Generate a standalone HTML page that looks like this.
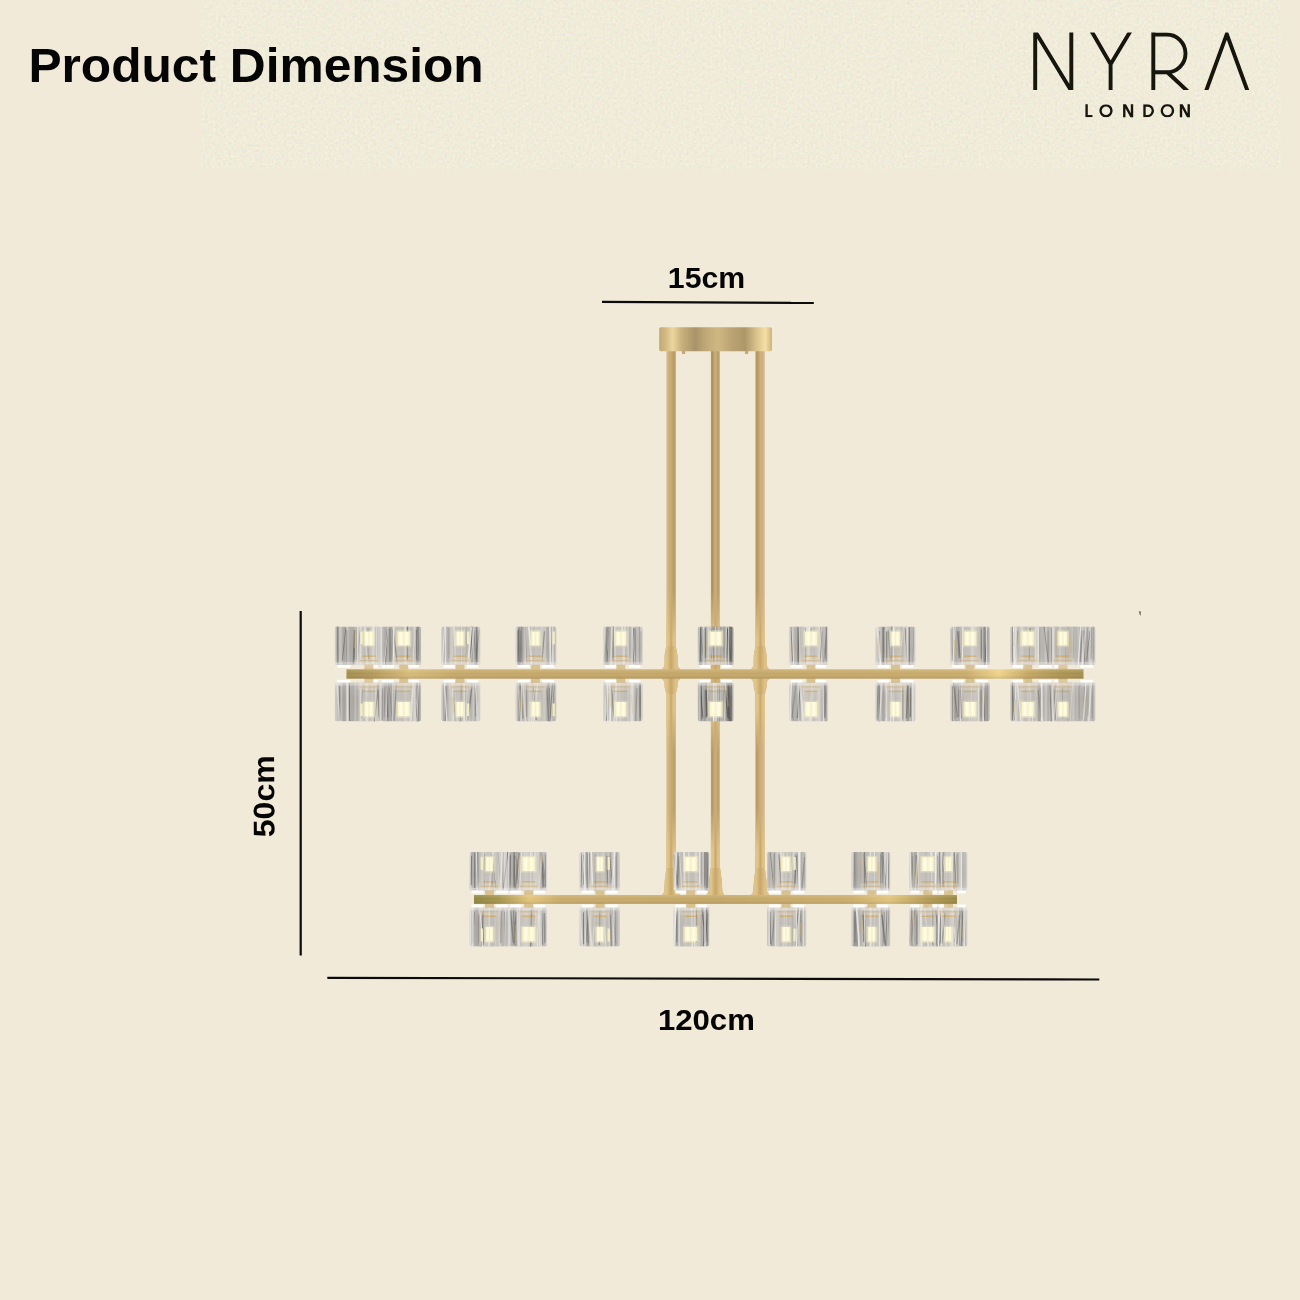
<!DOCTYPE html>
<html lang="en">
<head>
<meta charset="utf-8">
<title>Product Dimension</title>
<style>
html,body{margin:0;padding:0;}
body{width:1300px;height:1300px;overflow:hidden;background:#f1ead8;font-family:"Liberation Sans",sans-serif;}
svg{display:block;position:absolute;left:0;top:0;}
</style>
</head>
<body>
<svg width="1300" height="1300" viewBox="0 0 1300 1300">
<defs><linearGradient id="gl0" x1="0" x2="1" y1="0" y2="0"><stop offset="0.000" stop-color="#a8a5a1"/><stop offset="0.045" stop-color="#c5c2be"/><stop offset="0.091" stop-color="#c3c0bc"/><stop offset="0.136" stop-color="#c6c3bf"/><stop offset="0.182" stop-color="#a5a29e"/><stop offset="0.227" stop-color="#a4a19d"/><stop offset="0.273" stop-color="#cdcac6"/><stop offset="0.318" stop-color="#b0ada9"/><stop offset="0.364" stop-color="#aba8a4"/><stop offset="0.409" stop-color="#aaa7a3"/><stop offset="0.455" stop-color="#bebbb7"/><stop offset="0.500" stop-color="#aba8a4"/><stop offset="0.545" stop-color="#bbb8b4"/><stop offset="0.591" stop-color="#c7c4c0"/><stop offset="0.636" stop-color="#a8a5a1"/><stop offset="0.682" stop-color="#a29f9b"/><stop offset="0.727" stop-color="#c5c2be"/><stop offset="0.773" stop-color="#aaa7a3"/><stop offset="0.818" stop-color="#cbc8c4"/><stop offset="0.864" stop-color="#b6b3af"/><stop offset="0.909" stop-color="#b3b0ac"/><stop offset="0.955" stop-color="#bbb8b4"/><stop offset="1.000" stop-color="#bdbab6"/></linearGradient><linearGradient id="gl1" x1="0" x2="1" y1="0" y2="0"><stop offset="0.000" stop-color="#bcb9b5"/><stop offset="0.045" stop-color="#cdcac6"/><stop offset="0.091" stop-color="#b7b4b0"/><stop offset="0.136" stop-color="#aba8a4"/><stop offset="0.182" stop-color="#afaca8"/><stop offset="0.227" stop-color="#aba8a4"/><stop offset="0.273" stop-color="#a5a29e"/><stop offset="0.318" stop-color="#a6a39f"/><stop offset="0.364" stop-color="#b2afab"/><stop offset="0.409" stop-color="#b0ada9"/><stop offset="0.455" stop-color="#b4b1ad"/><stop offset="0.500" stop-color="#b5b2ae"/><stop offset="0.545" stop-color="#a7a4a0"/><stop offset="0.591" stop-color="#c0bdb9"/><stop offset="0.636" stop-color="#cac7c3"/><stop offset="0.682" stop-color="#b3b0ac"/><stop offset="0.727" stop-color="#b4b1ad"/><stop offset="0.773" stop-color="#a29f9b"/><stop offset="0.818" stop-color="#bab7b3"/><stop offset="0.864" stop-color="#a29f9b"/><stop offset="0.909" stop-color="#a29f9b"/><stop offset="0.955" stop-color="#918e8a"/><stop offset="1.000" stop-color="#928f8b"/></linearGradient><linearGradient id="gl2" x1="0" x2="1" y1="0" y2="0"><stop offset="0.000" stop-color="#a8a5a1"/><stop offset="0.045" stop-color="#a9a6a2"/><stop offset="0.091" stop-color="#bdbab6"/><stop offset="0.136" stop-color="#bebbb7"/><stop offset="0.182" stop-color="#a3a09c"/><stop offset="0.227" stop-color="#bebbb7"/><stop offset="0.273" stop-color="#cac7c3"/><stop offset="0.318" stop-color="#b3b0ac"/><stop offset="0.364" stop-color="#a7a4a0"/><stop offset="0.409" stop-color="#c1beba"/><stop offset="0.455" stop-color="#b6b3af"/><stop offset="0.500" stop-color="#aca9a5"/><stop offset="0.545" stop-color="#a8a5a1"/><stop offset="0.591" stop-color="#bebbb7"/><stop offset="0.636" stop-color="#95928e"/><stop offset="0.682" stop-color="#b1aeaa"/><stop offset="0.727" stop-color="#b9b6b2"/><stop offset="0.773" stop-color="#b5b2ae"/><stop offset="0.818" stop-color="#cbc8c4"/><stop offset="0.864" stop-color="#aba8a4"/><stop offset="0.909" stop-color="#bebbb7"/><stop offset="0.955" stop-color="#bbb8b4"/><stop offset="1.000" stop-color="#c0bdb9"/></linearGradient><linearGradient id="gl3" x1="0" x2="1" y1="0" y2="0"><stop offset="0.000" stop-color="#cecbc7"/><stop offset="0.045" stop-color="#c2bfbb"/><stop offset="0.091" stop-color="#94918d"/><stop offset="0.136" stop-color="#a6a39f"/><stop offset="0.182" stop-color="#b3b0ac"/><stop offset="0.227" stop-color="#b2afab"/><stop offset="0.273" stop-color="#a5a29e"/><stop offset="0.318" stop-color="#b0ada9"/><stop offset="0.364" stop-color="#94918d"/><stop offset="0.409" stop-color="#a7a4a0"/><stop offset="0.455" stop-color="#aaa7a3"/><stop offset="0.500" stop-color="#c3c0bc"/><stop offset="0.545" stop-color="#b4b1ad"/><stop offset="0.591" stop-color="#bcb9b5"/><stop offset="0.636" stop-color="#adaaa6"/><stop offset="0.682" stop-color="#bcb9b5"/><stop offset="0.727" stop-color="#bebbb7"/><stop offset="0.773" stop-color="#adaaa6"/><stop offset="0.818" stop-color="#aba8a4"/><stop offset="0.864" stop-color="#cac7c3"/><stop offset="0.909" stop-color="#bab7b3"/><stop offset="0.955" stop-color="#afaca8"/><stop offset="1.000" stop-color="#a8a5a1"/></linearGradient><linearGradient id="gl4" x1="0" x2="1" y1="0" y2="0"><stop offset="0.000" stop-color="#cdcac6"/><stop offset="0.045" stop-color="#c3c0bc"/><stop offset="0.091" stop-color="#b1aeaa"/><stop offset="0.136" stop-color="#afaca8"/><stop offset="0.182" stop-color="#a9a6a2"/><stop offset="0.227" stop-color="#a7a4a0"/><stop offset="0.273" stop-color="#b1aeaa"/><stop offset="0.318" stop-color="#c9c6c2"/><stop offset="0.364" stop-color="#b3b0ac"/><stop offset="0.409" stop-color="#bebbb7"/><stop offset="0.455" stop-color="#b4b1ad"/><stop offset="0.500" stop-color="#bab7b3"/><stop offset="0.545" stop-color="#aaa7a3"/><stop offset="0.591" stop-color="#a6a39f"/><stop offset="0.636" stop-color="#c6c3bf"/><stop offset="0.682" stop-color="#adaaa6"/><stop offset="0.727" stop-color="#ccc9c5"/><stop offset="0.773" stop-color="#cfccc8"/><stop offset="0.818" stop-color="#b0ada9"/><stop offset="0.864" stop-color="#c0bdb9"/><stop offset="0.909" stop-color="#bab7b3"/><stop offset="0.955" stop-color="#cbc8c4"/><stop offset="1.000" stop-color="#aaa7a3"/></linearGradient><linearGradient id="gl5" x1="0" x2="1" y1="0" y2="0"><stop offset="0.000" stop-color="#c9c6c2"/><stop offset="0.045" stop-color="#c5c2be"/><stop offset="0.091" stop-color="#b0ada9"/><stop offset="0.136" stop-color="#b1aeaa"/><stop offset="0.182" stop-color="#b1aeaa"/><stop offset="0.227" stop-color="#a8a5a1"/><stop offset="0.273" stop-color="#b1aeaa"/><stop offset="0.318" stop-color="#b5b2ae"/><stop offset="0.364" stop-color="#b6b3af"/><stop offset="0.409" stop-color="#cbc8c4"/><stop offset="0.455" stop-color="#cecbc7"/><stop offset="0.500" stop-color="#cdcac6"/><stop offset="0.545" stop-color="#b9b6b2"/><stop offset="0.591" stop-color="#ccc9c5"/><stop offset="0.636" stop-color="#a7a4a0"/><stop offset="0.682" stop-color="#c7c4c0"/><stop offset="0.727" stop-color="#cac7c3"/><stop offset="0.773" stop-color="#cecbc7"/><stop offset="0.818" stop-color="#b3b0ac"/><stop offset="0.864" stop-color="#b8b5b1"/><stop offset="0.909" stop-color="#bebbb7"/><stop offset="0.955" stop-color="#b9b6b2"/><stop offset="1.000" stop-color="#cdcac6"/></linearGradient><linearGradient id="gld" x1="0" x2="1" y1="0" y2="0"><stop offset="0.000" stop-color="#7d7b78"/><stop offset="0.045" stop-color="#888683"/><stop offset="0.091" stop-color="#858380"/><stop offset="0.136" stop-color="#b3b1ae"/><stop offset="0.182" stop-color="#9c9a97"/><stop offset="0.227" stop-color="#817f7c"/><stop offset="0.273" stop-color="#b4b2af"/><stop offset="0.318" stop-color="#888683"/><stop offset="0.364" stop-color="#a5a3a0"/><stop offset="0.409" stop-color="#6b6966"/><stop offset="0.455" stop-color="#858380"/><stop offset="0.500" stop-color="#73716e"/><stop offset="0.545" stop-color="#7b7976"/><stop offset="0.591" stop-color="#aba9a6"/><stop offset="0.636" stop-color="#706e6b"/><stop offset="0.682" stop-color="#9b9996"/><stop offset="0.727" stop-color="#716f6c"/><stop offset="0.773" stop-color="#807e7b"/><stop offset="0.818" stop-color="#92908d"/><stop offset="0.864" stop-color="#787673"/><stop offset="0.909" stop-color="#7c7a77"/><stop offset="0.955" stop-color="#716f6c"/><stop offset="1.000" stop-color="#b5b3b0"/></linearGradient>
<linearGradient id="rodY" x1="0" x2="1" y1="0" y2="0">
  <stop offset="0" stop-color="#e2c790"/><stop offset="0.3" stop-color="#dec288"/>
  <stop offset="0.5" stop-color="#c8a768"/><stop offset="0.72" stop-color="#dcc088"/>
  <stop offset="1" stop-color="#dfc48c"/>
</linearGradient>
<linearGradient id="rodMaskG" gradientUnits="userSpaceOnUse" x1="0" x2="0" y1="349" y2="897">
  <stop offset="0" stop-color="#000"/>
  <stop offset="0.44" stop-color="#000"/>
  <stop offset="0.53" stop-color="#fff"/>
  <stop offset="0.66" stop-color="#fff"/>
  <stop offset="0.735" stop-color="#222"/>
  <stop offset="0.84" stop-color="#222"/>
  <stop offset="0.915" stop-color="#fff"/>
  <stop offset="1" stop-color="#fff"/>
</linearGradient>
<mask id="rodMask" maskUnits="userSpaceOnUse" x="640" y="340" width="160" height="570"><rect x="640" y="340" width="160" height="570" fill="url(#rodMaskG)"/></mask>
<linearGradient id="rodL" x1="0" x2="1" y1="0" y2="0">
  <stop offset="0" stop-color="#dccaa4"/><stop offset="0.22" stop-color="#cdb07e"/>
  <stop offset="0.5" stop-color="#c9ab76"/><stop offset="0.8" stop-color="#b99b64"/>
  <stop offset="1" stop-color="#bfa26c"/>
</linearGradient>
<linearGradient id="rodC" x1="0" x2="1" y1="0" y2="0">
  <stop offset="0" stop-color="#b39a66"/><stop offset="0.18" stop-color="#ae9560"/>
  <stop offset="0.5" stop-color="#cbb084"/><stop offset="0.8" stop-color="#b59a62"/>
  <stop offset="1" stop-color="#d8c08c"/>
</linearGradient>
<linearGradient id="rodR" x1="0" x2="1" y1="0" y2="0">
  <stop offset="0" stop-color="#b8955f"/><stop offset="0.2" stop-color="#b89862"/>
  <stop offset="0.5" stop-color="#cfb07e"/><stop offset="0.78" stop-color="#cdb082"/>
  <stop offset="1" stop-color="#dccbaa"/>
</linearGradient>
<linearGradient id="barv" x1="0" x2="0" y1="0" y2="1">
  <stop offset="0" stop-color="#d6bc80"/><stop offset="0.5" stop-color="#c9ab6a"/><stop offset="1" stop-color="#b99b5c"/>
</linearGradient>
<linearGradient id="barU" x1="0" x2="1" y1="0" y2="0">
  <stop offset="0" stop-color="#a38c4c"/><stop offset="0.035" stop-color="#b3985a"/>
  <stop offset="0.085" stop-color="#d6ba7a"/><stop offset="0.15" stop-color="#c5a869"/>
  <stop offset="0.5" stop-color="#c3a667"/><stop offset="0.84" stop-color="#c8ab6b"/>
  <stop offset="0.885" stop-color="#efd38b"/><stop offset="0.925" stop-color="#c4a662"/>
  <stop offset="0.965" stop-color="#ac9452"/><stop offset="1" stop-color="#a58e4e"/>
</linearGradient>
<linearGradient id="barL" x1="0" x2="1" y1="0" y2="0">
  <stop offset="0" stop-color="#8f8440"/><stop offset="0.05" stop-color="#a3924a"/>
  <stop offset="0.115" stop-color="#e2c47c"/><stop offset="0.18" stop-color="#c8aa6b"/>
  <stop offset="0.5" stop-color="#c3a667"/><stop offset="0.78" stop-color="#caac6c"/>
  <stop offset="0.86" stop-color="#e0c37c"/><stop offset="0.93" stop-color="#b89e58"/>
  <stop offset="1" stop-color="#968642"/>
</linearGradient>
<linearGradient id="barsh" x1="0" x2="0" y1="0" y2="1">
  <stop offset="0" stop-color="#fff2c8" stop-opacity="0.2"/><stop offset="0.45" stop-color="#ffffff" stop-opacity="0"/>
  <stop offset="1" stop-color="#6a5420" stop-opacity="0.22"/>
</linearGradient>
<linearGradient id="canopy" x1="0" x2="1" y1="0" y2="0">
  <stop offset="0" stop-color="#c2a873"/>
  <stop offset="0.06" stop-color="#d4bb84"/>
  <stop offset="0.12" stop-color="#ecd6a0"/>
  <stop offset="0.20" stop-color="#c9b07b"/>
  <stop offset="0.32" stop-color="#a8946a"/>
  <stop offset="0.42" stop-color="#c2aa78"/>
  <stop offset="0.52" stop-color="#d0b884"/>
  <stop offset="0.64" stop-color="#bba373"/>
  <stop offset="0.76" stop-color="#ad9769"/>
  <stop offset="0.86" stop-color="#d9c18b"/>
  <stop offset="0.94" stop-color="#f6dfa6"/>
  <stop offset="1" stop-color="#cdb37b"/>
</linearGradient>
<linearGradient id="shade" x1="0" x2="0" y1="0" y2="1">
  <stop offset="0" stop-color="#ffffff" stop-opacity="0.06"/>
  <stop offset="0.6" stop-color="#ffffff" stop-opacity="0"/>
  <stop offset="0.85" stop-color="#ffffff" stop-opacity="0.08"/>
  <stop offset="1" stop-color="#ffffff" stop-opacity="0.2"/>
</linearGradient>
<linearGradient id="lamp" x1="0" x2="1" y1="0" y2="0">
  <stop offset="0" stop-color="#f7f1c4"/><stop offset="0.28" stop-color="#fffdea"/>
  <stop offset="0.5" stop-color="#f7f0c4"/><stop offset="0.72" stop-color="#fffdea"/>
  <stop offset="1" stop-color="#f7f1c4"/>
</linearGradient>
<filter id="soft" x="-10%" y="-10%" width="120%" height="120%"><feGaussianBlur stdDeviation="0.7"/></filter>
<filter id="soft2" x="-10%" y="-10%" width="120%" height="120%"><feGaussianBlur stdDeviation="0.35"/></filter>
<filter id="grain" x="0" y="0" width="100%" height="100%" color-interpolation-filters="sRGB">
  <feTurbulence type="fractalNoise" baseFrequency="0.38" numOctaves="2" seed="7" result="n"/>
  <feColorMatrix in="n" type="matrix" values="0.11 0 0 0 0.884  0 0.11 0 0 0.8685  0 0 0.11 0 0.798  0 0 0 0 1"/>
</filter>
</defs>
<rect x="0" y="0" width="1300" height="1300" fill="#f1ead8"/>
<rect x="201" y="0" width="1080" height="169" filter="url(#grain)"/>
<g filter="url(#soft)"><rect x="666.20" y="349.00" width="9.60" height="547.00" fill="url(#rodL)"/><rect x="710.90" y="349.00" width="9.10" height="547.00" fill="url(#rodC)"/><rect x="755.50" y="349.00" width="9.50" height="547.00" fill="url(#rodR)"/><path d="M666.30 646 L664.60 655 L664.40 666 L661.50 670 L661.50 678 L664.40 682 L664.60 687 L666.30 694 L675.70 694 L677.40 687 L677.60 682 L680.50 678 L680.50 670 L677.60 666 L677.40 655 L675.70 646 Z" fill="url(#rodL)"/><path d="M755.55 646 L753.85 655 L753.65 666 L750.75 670 L750.75 678 L753.65 682 L753.85 687 L755.55 694 L764.95 694 L766.65 687 L766.85 682 L769.75 678 L769.75 670 L766.85 666 L766.65 655 L764.95 646 Z" fill="url(#rodR)"/><path d="M666.40 868 L664.80 880 L664.00 892 L661.00 896.5 L681.00 896.5 L678.00 892 L677.20 880 L675.60 868 Z" fill="url(#rodL)"/><path d="M710.85 868 L709.25 880 L708.45 892 L705.45 896.5 L725.45 896.5 L722.45 892 L721.65 880 L720.05 868 Z" fill="url(#rodC)"/><path d="M755.65 868 L754.05 880 L753.25 892 L750.25 896.5 L770.25 896.5 L767.25 892 L766.45 880 L764.85 868 Z" fill="url(#rodR)"/><g mask="url(#rodMask)"><rect x="666.20" y="349.00" width="9.60" height="547.00" fill="url(#rodY)"/><rect x="710.90" y="349.00" width="9.10" height="547.00" fill="url(#rodY)"/><rect x="755.50" y="349.00" width="9.50" height="547.00" fill="url(#rodY)"/><path d="M666.30 646 L664.60 655 L664.40 666 L661.50 670 L661.50 678 L664.40 682 L664.60 687 L666.30 694 L675.70 694 L677.40 687 L677.60 682 L680.50 678 L680.50 670 L677.60 666 L677.40 655 L675.70 646 Z" fill="url(#rodY)"/><path d="M755.55 646 L753.85 655 L753.65 666 L750.75 670 L750.75 678 L753.65 682 L753.85 687 L755.55 694 L764.95 694 L766.65 687 L766.85 682 L769.75 678 L769.75 670 L766.85 666 L766.65 655 L764.95 646 Z" fill="url(#rodY)"/><path d="M666.40 868 L664.80 880 L664.00 892 L661.00 896.5 L681.00 896.5 L678.00 892 L677.20 880 L675.60 868 Z" fill="url(#rodY)"/><path d="M710.85 868 L709.25 880 L708.45 892 L705.45 896.5 L725.45 896.5 L722.45 892 L721.65 880 L720.05 868 Z" fill="url(#rodY)"/><path d="M755.65 868 L754.05 880 L753.25 892 L750.25 896.5 L770.25 896.5 L767.25 892 L766.45 880 L764.85 868 Z" fill="url(#rodY)"/></g><g transform="translate(334.80 626.50)"><clipPath id="c1"><rect x="0" y="0" width="45.50" height="38.60" rx="2.4"/></clipPath><g clip-path="url(#c1)"><rect x="0" y="0" width="45.50" height="38.60" fill="url(#gl0)"/><rect x="23.55" y="0" width="21.00" height="38.60" fill="#d6d2ca" opacity="0.45"/><rect x="11.47" y="3.73" width="1.04" height="35.21" fill="#686562" opacity="0.52" transform="rotate(0.0 11.47 19.30)"/><rect x="1.72" y="-0.99" width="1.42" height="37.47" fill="#686562" opacity="0.52" transform="rotate(0.0 1.72 19.30)"/><rect x="23.71" y="3.12" width="0.52" height="29.70" fill="#686562" opacity="0.62" transform="rotate(5.3 23.71 19.30)"/><rect x="19.25" y="4.71" width="0.88" height="28.40" fill="#686562" opacity="0.64" transform="rotate(0.0 19.25 19.30)"/><rect x="18.40" y="3.34" width="1.51" height="34.18" fill="#686562" opacity="0.76" transform="rotate(1.8 18.40 19.30)"/><rect x="32.46" y="2.05" width="1.57" height="31.18" fill="#686562" opacity="0.55" transform="rotate(0.0 32.46 19.30)"/><rect x="8.66" y="1.36" width="0.81" height="32.27" fill="#686562" opacity="0.79" transform="rotate(6.2 8.66 19.30)"/><rect x="21.15" y="1.20" width="1.32" height="32.22" fill="#686562" opacity="0.50" transform="rotate(0.0 21.15 19.30)"/><rect x="2.62" y="-0.82" width="1.36" height="40.12" fill="#686562" opacity="0.56" transform="rotate(-0.1 2.62 19.30)"/><rect x="30.33" y="-1" width="1.88" height="40.60" fill="#f1efeb" opacity="0.67" transform="rotate(-4.0 30.33 19.30)"/><rect x="21.75" y="-1" width="1.88" height="40.60" fill="#f1efeb" opacity="0.75" transform="rotate(0.0 21.75 19.30)"/><rect x="37.03" y="-1" width="0.90" height="40.60" fill="#f1efeb" opacity="0.63" transform="rotate(0.0 37.03 19.30)"/><rect x="24.97" y="-1" width="1.20" height="40.60" fill="#f1efeb" opacity="0.52" transform="rotate(0.0 24.97 19.30)"/><rect x="41.17" y="-1" width="0.61" height="40.60" fill="#f1efeb" opacity="0.75" transform="rotate(0.0 41.17 19.30)"/><rect x="38.14" y="-1" width="1.56" height="40.60" fill="#f1efeb" opacity="0.76" transform="rotate(0.0 38.14 19.30)"/><rect x="18.83" y="2.69" width="1.31" height="19.01" fill="#d9b56c" opacity="0.35" transform="rotate(0.1 18.83 19.30)"/><rect x="0" y="0" width="1.6" height="38.60" fill="#e0deda" opacity="0.55"/><rect x="43.90" y="0" width="1.6" height="38.60" fill="#e0deda" opacity="0.5"/><rect x="0" y="0" width="45.50" height="38.60" fill="url(#shade)"/><rect x="27.95" y="3.67" width="12.20" height="16.98" rx="1.5" fill="#f3ecc4" opacity="0.55"/><rect x="29.55" y="5.21" width="9.00" height="13.90" rx="0.8" fill="url(#lamp)"/><rect x="25.50" y="5.02" width="2.4" height="12.74" fill="#f5efc2" opacity="0.95"/><rect x="27.85" y="19.30" width="12.40" height="9.26" fill="#c4beba" opacity="0.45"/><rect x="27.55" y="28.95" width="13.00" height="1.5" fill="#cfa85e" opacity="0.7"/><rect x="22.55" y="31.27" width="23.00" height="7.33" fill="#d9cfbd" opacity="0.45"/><rect x="25.05" y="33.58" width="18.00" height="1.1" fill="#c9a45e" opacity="0.45"/><rect x="0" y="35.60" width="45.50" height="3" fill="#f4f2ee" opacity="0.35"/></g><rect x="2.27" y="38.40" width="13.65" height="2.8" rx="1" fill="#ffffff" opacity="0.92"/><rect x="29.57" y="38.40" width="13.65" height="2.8" rx="1" fill="#ffffff" opacity="0.92"/><rect x="29.55" y="38.20" width="9.00" height="4.8" fill="#c8a663" opacity="0.6"/></g><g transform="translate(334.80 721.40) scale(1 -1)"><clipPath id="c2"><rect x="0" y="0" width="45.50" height="39.00" rx="2.4"/></clipPath><g clip-path="url(#c2)"><rect x="0" y="0" width="45.50" height="39.00" fill="url(#gl0)"/><rect x="23.55" y="0" width="21.00" height="39.00" fill="#d6d2ca" opacity="0.45"/><rect x="4.15" y="0.85" width="1.42" height="34.91" fill="#686562" opacity="0.67" transform="rotate(0.0 4.15 19.50)"/><rect x="26.59" y="3.34" width="1.14" height="29.70" fill="#686562" opacity="0.38" transform="rotate(-1.5 26.59 19.50)"/><rect x="41.32" y="-0.84" width="1.10" height="37.58" fill="#686562" opacity="0.52" transform="rotate(-6.5 41.32 19.50)"/><rect x="14.19" y="0.42" width="0.92" height="39.42" fill="#686562" opacity="0.75" transform="rotate(0.8 14.19 19.50)"/><rect x="14.48" y="3.05" width="0.65" height="35.68" fill="#686562" opacity="0.56" transform="rotate(0.0 14.48 19.50)"/><rect x="43.46" y="4.77" width="1.37" height="34.10" fill="#686562" opacity="0.48" transform="rotate(0.0 43.46 19.50)"/><rect x="43.29" y="2.97" width="0.81" height="33.85" fill="#686562" opacity="0.55" transform="rotate(4.1 43.29 19.50)"/><rect x="43.30" y="-0.00" width="1.04" height="33.65" fill="#686562" opacity="0.41" transform="rotate(2.8 43.30 19.50)"/><rect x="11.75" y="-1" width="1.78" height="41.00" fill="#f1efeb" opacity="0.54" transform="rotate(0.0 11.75 19.50)"/><rect x="30.45" y="-1" width="1.26" height="41.00" fill="#f1efeb" opacity="0.63" transform="rotate(0.0 30.45 19.50)"/><rect x="25.41" y="-1" width="1.01" height="41.00" fill="#f1efeb" opacity="0.49" transform="rotate(0.0 25.41 19.50)"/><rect x="40.19" y="-1" width="1.41" height="41.00" fill="#f1efeb" opacity="0.43" transform="rotate(0.0 40.19 19.50)"/><rect x="31.30" y="-1" width="1.78" height="41.00" fill="#f1efeb" opacity="0.49" transform="rotate(0.0 31.30 19.50)"/><rect x="2.81" y="-1" width="1.45" height="41.00" fill="#f1efeb" opacity="0.52" transform="rotate(4.5 2.81 19.50)"/><rect x="31.80" y="3.81" width="0.89" height="21.69" fill="#d9b56c" opacity="0.54" transform="rotate(-5.3 31.80 19.50)"/><rect x="0" y="0" width="1.6" height="39.00" fill="#e0deda" opacity="0.55"/><rect x="43.90" y="0" width="1.6" height="39.00" fill="#e0deda" opacity="0.5"/><rect x="0" y="0" width="45.50" height="39.00" fill="url(#shade)"/><rect x="27.95" y="3.71" width="12.20" height="17.16" rx="1.5" fill="#f3ecc4" opacity="0.55"/><rect x="29.55" y="5.27" width="9.00" height="14.04" rx="0.8" fill="url(#lamp)"/><rect x="25.50" y="5.07" width="2.4" height="12.87" fill="#f5efc2" opacity="0.95"/><rect x="27.85" y="19.50" width="12.40" height="9.36" fill="#c4beba" opacity="0.45"/><rect x="27.55" y="29.25" width="13.00" height="1.5" fill="#cfa85e" opacity="0.7"/><rect x="22.55" y="31.59" width="23.00" height="7.41" fill="#d9cfbd" opacity="0.45"/><rect x="25.05" y="33.93" width="18.00" height="1.1" fill="#c9a45e" opacity="0.45"/><rect x="0" y="36.00" width="45.50" height="3" fill="#f4f2ee" opacity="0.35"/></g><rect x="2.27" y="38.80" width="13.65" height="2.8" rx="1" fill="#ffffff" opacity="0.92"/><rect x="29.57" y="38.80" width="13.65" height="2.8" rx="1" fill="#ffffff" opacity="0.92"/><rect x="29.55" y="38.60" width="9.00" height="4.8" fill="#c8a663" opacity="0.6"/></g><g transform="translate(379.50 626.50)"><clipPath id="c3"><rect x="0" y="0" width="41.60" height="38.60" rx="2.4"/></clipPath><g clip-path="url(#c3)"><rect x="0" y="0" width="41.60" height="38.60" fill="url(#gl1)"/><rect x="13.80" y="0" width="21.00" height="38.60" fill="#d6d2ca" opacity="0.45"/><rect x="14.97" y="4.02" width="1.16" height="33.76" fill="#686562" opacity="0.61" transform="rotate(-6.8 14.97 19.30)"/><rect x="9.66" y="1.86" width="1.60" height="33.27" fill="#686562" opacity="0.54" transform="rotate(0.0 9.66 19.30)"/><rect x="6.39" y="3.03" width="1.20" height="36.12" fill="#686562" opacity="0.73" transform="rotate(3.4 6.39 19.30)"/><rect x="36.40" y="3.28" width="1.02" height="29.87" fill="#686562" opacity="0.66" transform="rotate(0.0 36.40 19.30)"/><rect x="39.39" y="1.62" width="0.61" height="33.60" fill="#686562" opacity="0.37" transform="rotate(6.5 39.39 19.30)"/><rect x="12.27" y="2.51" width="1.06" height="30.77" fill="#686562" opacity="0.49" transform="rotate(1.2 12.27 19.30)"/><rect x="27.17" y="-0.02" width="1.44" height="33.60" fill="#686562" opacity="0.80" transform="rotate(0.0 27.17 19.30)"/><rect x="38.22" y="0.27" width="1.50" height="33.51" fill="#686562" opacity="0.58" transform="rotate(0.0 38.22 19.30)"/><rect x="39.12" y="0.76" width="0.60" height="33.46" fill="#686562" opacity="0.70" transform="rotate(-4.9 39.12 19.30)"/><rect x="34.16" y="-1" width="0.66" height="40.60" fill="#f1efeb" opacity="0.68" transform="rotate(2.6 34.16 19.30)"/><rect x="13.14" y="-1" width="1.75" height="40.60" fill="#f1efeb" opacity="0.84" transform="rotate(0.0 13.14 19.30)"/><rect x="39.04" y="-1" width="1.00" height="40.60" fill="#f1efeb" opacity="0.43" transform="rotate(0.0 39.04 19.30)"/><rect x="1.52" y="-1" width="0.86" height="40.60" fill="#f1efeb" opacity="0.58" transform="rotate(0.0 1.52 19.30)"/><rect x="6.36" y="-1" width="0.66" height="40.60" fill="#f1efeb" opacity="0.79" transform="rotate(5.5 6.36 19.30)"/><rect x="35.09" y="-1" width="1.09" height="40.60" fill="#f1efeb" opacity="0.61" transform="rotate(0.0 35.09 19.30)"/><rect x="25.28" y="-1" width="1.37" height="40.60" fill="#f1efeb" opacity="0.65" transform="rotate(0.0 25.28 19.30)"/><rect x="17.35" y="11.66" width="0.87" height="16.42" fill="#d9b56c" opacity="0.54" transform="rotate(0.3 17.35 19.30)"/><rect x="21.52" y="2.08" width="0.99" height="19.11" fill="#d9b56c" opacity="0.31" transform="rotate(1.4 21.52 19.30)"/><rect x="0" y="0" width="1.6" height="38.60" fill="#e0deda" opacity="0.55"/><rect x="40.00" y="0" width="1.6" height="38.60" fill="#e0deda" opacity="0.5"/><rect x="0" y="0" width="41.60" height="38.60" fill="url(#shade)"/><rect x="16.70" y="3.67" width="15.20" height="16.98" rx="1.5" fill="#f3ecc4" opacity="0.55"/><rect x="18.30" y="5.21" width="12.00" height="13.90" rx="0.8" fill="url(#lamp)"/><rect x="18.10" y="19.30" width="12.40" height="9.26" fill="#c4beba" opacity="0.45"/><rect x="17.80" y="28.95" width="13.00" height="1.5" fill="#cfa85e" opacity="0.7"/><rect x="12.80" y="31.27" width="23.00" height="7.33" fill="#d9cfbd" opacity="0.45"/><rect x="15.30" y="33.58" width="18.00" height="1.1" fill="#c9a45e" opacity="0.45"/><rect x="0" y="35.60" width="41.60" height="3" fill="#f4f2ee" opacity="0.35"/></g><rect x="2.08" y="38.40" width="12.48" height="2.8" rx="1" fill="#ffffff" opacity="0.92"/><rect x="27.04" y="38.40" width="12.48" height="2.8" rx="1" fill="#ffffff" opacity="0.92"/><rect x="19.80" y="38.20" width="9.00" height="4.8" fill="#c8a663" opacity="0.6"/></g><g transform="translate(379.50 721.40) scale(1 -1)"><clipPath id="c4"><rect x="0" y="0" width="41.60" height="39.00" rx="2.4"/></clipPath><g clip-path="url(#c4)"><rect x="0" y="0" width="41.60" height="39.00" fill="url(#gl1)"/><rect x="13.80" y="0" width="21.00" height="39.00" fill="#d6d2ca" opacity="0.45"/><rect x="4.53" y="4.51" width="0.94" height="29.89" fill="#686562" opacity="0.38" transform="rotate(-1.4 4.53 19.50)"/><rect x="6.83" y="-0.85" width="1.41" height="36.36" fill="#686562" opacity="0.43" transform="rotate(0.0 6.83 19.50)"/><rect x="10.68" y="4.77" width="0.80" height="29.29" fill="#686562" opacity="0.38" transform="rotate(5.1 10.68 19.50)"/><rect x="15.06" y="0.48" width="1.43" height="37.56" fill="#686562" opacity="0.47" transform="rotate(-3.5 15.06 19.50)"/><rect x="37.43" y="-0.96" width="1.40" height="38.91" fill="#686562" opacity="0.77" transform="rotate(0.0 37.43 19.50)"/><rect x="36.94" y="3.88" width="1.16" height="35.82" fill="#686562" opacity="0.52" transform="rotate(-2.7 36.94 19.50)"/><rect x="2.31" y="1.06" width="1.19" height="31.96" fill="#686562" opacity="0.44" transform="rotate(-0.4 2.31 19.50)"/><rect x="8.15" y="0.66" width="0.95" height="36.85" fill="#686562" opacity="0.40" transform="rotate(0.0 8.15 19.50)"/><rect x="7.09" y="4.17" width="1.42" height="34.97" fill="#686562" opacity="0.65" transform="rotate(1.2 7.09 19.50)"/><rect x="36.56" y="-1" width="0.98" height="41.00" fill="#f1efeb" opacity="0.41" transform="rotate(-5.0 36.56 19.50)"/><rect x="37.72" y="-1" width="0.97" height="41.00" fill="#f1efeb" opacity="0.70" transform="rotate(-2.1 37.72 19.50)"/><rect x="12.78" y="-1" width="0.80" height="41.00" fill="#f1efeb" opacity="0.69" transform="rotate(0.0 12.78 19.50)"/><rect x="34.04" y="-1" width="1.48" height="41.00" fill="#f1efeb" opacity="0.43" transform="rotate(0.0 34.04 19.50)"/><rect x="34.99" y="-1" width="0.98" height="41.00" fill="#f1efeb" opacity="0.51" transform="rotate(0.0 34.99 19.50)"/><rect x="6.47" y="-1" width="1.35" height="41.00" fill="#f1efeb" opacity="0.56" transform="rotate(-1.6 6.47 19.50)"/><rect x="31.51" y="-1" width="1.90" height="41.00" fill="#f1efeb" opacity="0.66" transform="rotate(-3.5 31.51 19.50)"/><rect x="35.86" y="-1" width="0.75" height="41.00" fill="#f1efeb" opacity="0.43" transform="rotate(0.0 35.86 19.50)"/><rect x="23.59" y="9.41" width="1.11" height="16.78" fill="#d9b56c" opacity="0.31" transform="rotate(4.0 23.59 19.50)"/><rect x="0" y="0" width="1.6" height="39.00" fill="#e0deda" opacity="0.55"/><rect x="40.00" y="0" width="1.6" height="39.00" fill="#e0deda" opacity="0.5"/><rect x="0" y="0" width="41.60" height="39.00" fill="url(#shade)"/><rect x="16.70" y="3.71" width="15.20" height="17.16" rx="1.5" fill="#f3ecc4" opacity="0.55"/><rect x="18.30" y="5.27" width="12.00" height="14.04" rx="0.8" fill="url(#lamp)"/><rect x="18.10" y="19.50" width="12.40" height="9.36" fill="#c4beba" opacity="0.45"/><rect x="17.80" y="29.25" width="13.00" height="1.5" fill="#cfa85e" opacity="0.7"/><rect x="12.80" y="31.59" width="23.00" height="7.41" fill="#d9cfbd" opacity="0.45"/><rect x="15.30" y="33.93" width="18.00" height="1.1" fill="#c9a45e" opacity="0.45"/><rect x="0" y="36.00" width="41.60" height="3" fill="#f4f2ee" opacity="0.35"/></g><rect x="2.08" y="38.80" width="12.48" height="2.8" rx="1" fill="#ffffff" opacity="0.92"/><rect x="27.04" y="38.80" width="12.48" height="2.8" rx="1" fill="#ffffff" opacity="0.92"/><rect x="19.80" y="38.60" width="9.00" height="4.8" fill="#c8a663" opacity="0.6"/></g><g transform="translate(441.40 626.50)"><clipPath id="c5"><rect x="0" y="0" width="39.00" height="38.60" rx="2.4"/></clipPath><g clip-path="url(#c5)"><rect x="0" y="0" width="39.00" height="38.60" fill="url(#gl2)"/><rect x="8.10" y="0" width="21.00" height="38.60" fill="#d6d2ca" opacity="0.45"/><rect x="29.52" y="-0.83" width="1.54" height="37.17" fill="#686562" opacity="0.67" transform="rotate(0.0 29.52 19.30)"/><rect x="34.93" y="0.48" width="1.21" height="35.31" fill="#686562" opacity="0.75" transform="rotate(-0.4 34.93 19.30)"/><rect x="29.07" y="-0.24" width="0.68" height="39.83" fill="#686562" opacity="0.70" transform="rotate(1.6 29.07 19.30)"/><rect x="32.31" y="4.23" width="0.73" height="33.34" fill="#686562" opacity="0.41" transform="rotate(0.0 32.31 19.30)"/><rect x="35.59" y="3.14" width="1.09" height="29.69" fill="#686562" opacity="0.64" transform="rotate(6.2 35.59 19.30)"/><rect x="33.12" y="-0.61" width="0.83" height="38.10" fill="#686562" opacity="0.48" transform="rotate(-5.0 33.12 19.30)"/><rect x="29.72" y="0.11" width="0.89" height="36.18" fill="#686562" opacity="0.45" transform="rotate(0.0 29.72 19.30)"/><rect x="6.93" y="1.15" width="0.78" height="35.62" fill="#686562" opacity="0.77" transform="rotate(0.0 6.93 19.30)"/><rect x="35.25" y="0.18" width="0.55" height="34.13" fill="#686562" opacity="0.39" transform="rotate(0.0 35.25 19.30)"/><rect x="34.43" y="3.65" width="1.54" height="35.19" fill="#686562" opacity="0.47" transform="rotate(0.3 34.43 19.30)"/><rect x="27.39" y="-1" width="1.64" height="40.60" fill="#f1efeb" opacity="0.79" transform="rotate(5.3 27.39 19.30)"/><rect x="3.60" y="-1" width="1.04" height="40.60" fill="#f1efeb" opacity="0.67" transform="rotate(0.0 3.60 19.30)"/><rect x="12.61" y="-1" width="1.80" height="40.60" fill="#f1efeb" opacity="0.65" transform="rotate(-2.2 12.61 19.30)"/><rect x="6.72" y="-1" width="0.70" height="40.60" fill="#f1efeb" opacity="0.47" transform="rotate(0.0 6.72 19.30)"/><rect x="36.38" y="-1" width="0.81" height="40.60" fill="#f1efeb" opacity="0.42" transform="rotate(0.0 36.38 19.30)"/><rect x="19.61" y="-1" width="1.13" height="40.60" fill="#f1efeb" opacity="0.51" transform="rotate(0.0 19.61 19.30)"/><rect x="30.21" y="-1" width="1.19" height="40.60" fill="#f1efeb" opacity="0.59" transform="rotate(5.0 30.21 19.30)"/><rect x="1.48" y="-1" width="1.24" height="40.60" fill="#f1efeb" opacity="0.78" transform="rotate(2.8 1.48 19.30)"/><rect x="22.80" y="12.58" width="0.77" height="17.70" fill="#d9b56c" opacity="0.34" transform="rotate(4.1 22.80 19.30)"/><rect x="0" y="0" width="1.6" height="38.60" fill="#e0deda" opacity="0.55"/><rect x="37.40" y="0" width="1.6" height="38.60" fill="#e0deda" opacity="0.5"/><rect x="0" y="0" width="39.00" height="38.60" fill="url(#shade)"/><rect x="13.30" y="3.67" width="10.60" height="16.98" rx="1.5" fill="#f3ecc4" opacity="0.55"/><rect x="14.90" y="5.21" width="7.40" height="13.90" rx="0.8" fill="url(#lamp)"/><rect x="25.60" y="5.02" width="2.4" height="12.74" fill="#f5efc2" opacity="0.95"/><rect x="12.40" y="19.30" width="12.40" height="9.26" fill="#c4beba" opacity="0.45"/><rect x="12.10" y="28.95" width="13.00" height="1.5" fill="#cfa85e" opacity="0.7"/><rect x="7.10" y="31.27" width="23.00" height="7.33" fill="#d9cfbd" opacity="0.45"/><rect x="9.60" y="33.58" width="18.00" height="1.1" fill="#c9a45e" opacity="0.45"/><rect x="0" y="35.60" width="39.00" height="3" fill="#f4f2ee" opacity="0.35"/></g><rect x="1.95" y="38.40" width="11.70" height="2.8" rx="1" fill="#ffffff" opacity="0.92"/><rect x="25.35" y="38.40" width="11.70" height="2.8" rx="1" fill="#ffffff" opacity="0.92"/><rect x="14.10" y="38.20" width="9.00" height="4.8" fill="#c8a663" opacity="0.6"/></g><g transform="translate(441.40 721.40) scale(1 -1)"><clipPath id="c6"><rect x="0" y="0" width="39.00" height="39.00" rx="2.4"/></clipPath><g clip-path="url(#c6)"><rect x="0" y="0" width="39.00" height="39.00" fill="url(#gl2)"/><rect x="8.10" y="0" width="21.00" height="39.00" fill="#d6d2ca" opacity="0.45"/><rect x="28.32" y="4.79" width="0.54" height="30.06" fill="#686562" opacity="0.37" transform="rotate(0.0 28.32 19.50)"/><rect x="12.16" y="4.46" width="0.52" height="31.76" fill="#686562" opacity="0.54" transform="rotate(5.2 12.16 19.50)"/><rect x="3.94" y="2.98" width="1.12" height="32.75" fill="#686562" opacity="0.65" transform="rotate(0.0 3.94 19.50)"/><rect x="3.72" y="0.50" width="0.97" height="34.60" fill="#686562" opacity="0.80" transform="rotate(-1.3 3.72 19.50)"/><rect x="28.08" y="4.42" width="1.27" height="29.79" fill="#686562" opacity="0.70" transform="rotate(-6.4 28.08 19.50)"/><rect x="33.81" y="4.82" width="1.04" height="28.93" fill="#686562" opacity="0.72" transform="rotate(1.1 33.81 19.50)"/><rect x="18.88" y="-0.28" width="1.20" height="36.78" fill="#686562" opacity="0.42" transform="rotate(-2.0 18.88 19.50)"/><rect x="25.27" y="1.28" width="0.72" height="37.16" fill="#686562" opacity="0.60" transform="rotate(3.1 25.27 19.50)"/><rect x="21.92" y="-1" width="1.68" height="41.00" fill="#f1efeb" opacity="0.79" transform="rotate(0.0 21.92 19.50)"/><rect x="7.13" y="-1" width="0.82" height="41.00" fill="#f1efeb" opacity="0.69" transform="rotate(0.0 7.13 19.50)"/><rect x="24.60" y="-1" width="1.40" height="41.00" fill="#f1efeb" opacity="0.57" transform="rotate(0.0 24.60 19.50)"/><rect x="10.77" y="-1" width="1.48" height="41.00" fill="#f1efeb" opacity="0.62" transform="rotate(1.1 10.77 19.50)"/><rect x="36.44" y="-1" width="0.72" height="41.00" fill="#f1efeb" opacity="0.60" transform="rotate(0.0 36.44 19.50)"/><rect x="3.52" y="-1" width="1.38" height="41.00" fill="#f1efeb" opacity="0.79" transform="rotate(3.4 3.52 19.50)"/><rect x="14.06" y="-1" width="0.70" height="41.00" fill="#f1efeb" opacity="0.59" transform="rotate(3.8 14.06 19.50)"/><rect x="34.35" y="-1" width="0.85" height="41.00" fill="#f1efeb" opacity="0.71" transform="rotate(2.7 34.35 19.50)"/><rect x="35.24" y="-1" width="0.62" height="41.00" fill="#f1efeb" opacity="0.64" transform="rotate(3.6 35.24 19.50)"/><rect x="10.46" y="8.11" width="1.35" height="16.13" fill="#d9b56c" opacity="0.40" transform="rotate(4.6 10.46 19.50)"/><rect x="0" y="0" width="1.6" height="39.00" fill="#e0deda" opacity="0.55"/><rect x="37.40" y="0" width="1.6" height="39.00" fill="#e0deda" opacity="0.5"/><rect x="0" y="0" width="39.00" height="39.00" fill="url(#shade)"/><rect x="13.30" y="3.71" width="10.60" height="17.16" rx="1.5" fill="#f3ecc4" opacity="0.55"/><rect x="14.90" y="5.27" width="7.40" height="14.04" rx="0.8" fill="url(#lamp)"/><rect x="25.60" y="5.07" width="2.4" height="12.87" fill="#f5efc2" opacity="0.95"/><rect x="12.40" y="19.50" width="12.40" height="9.36" fill="#c4beba" opacity="0.45"/><rect x="12.10" y="29.25" width="13.00" height="1.5" fill="#cfa85e" opacity="0.7"/><rect x="7.10" y="31.59" width="23.00" height="7.41" fill="#d9cfbd" opacity="0.45"/><rect x="9.60" y="33.93" width="18.00" height="1.1" fill="#c9a45e" opacity="0.45"/><rect x="0" y="36.00" width="39.00" height="3" fill="#f4f2ee" opacity="0.35"/></g><rect x="1.95" y="38.80" width="11.70" height="2.8" rx="1" fill="#ffffff" opacity="0.92"/><rect x="25.35" y="38.80" width="11.70" height="2.8" rx="1" fill="#ffffff" opacity="0.92"/><rect x="14.10" y="38.60" width="9.00" height="4.8" fill="#c8a663" opacity="0.6"/></g><g transform="translate(515.40 626.50)"><clipPath id="c7"><rect x="0" y="0" width="41.00" height="38.60" rx="2.4"/></clipPath><g clip-path="url(#c7)"><rect x="0" y="0" width="41.00" height="38.60" fill="url(#gl3)"/><rect x="9.60" y="0" width="21.00" height="38.60" fill="#d6d2ca" opacity="0.45"/><rect x="9.86" y="0.44" width="1.50" height="35.30" fill="#686562" opacity="0.41" transform="rotate(-1.1 9.86 19.30)"/><rect x="2.78" y="2.50" width="1.12" height="36.67" fill="#686562" opacity="0.77" transform="rotate(0.0 2.78 19.30)"/><rect x="3.02" y="3.90" width="0.82" height="34.44" fill="#686562" opacity="0.37" transform="rotate(-2.7 3.02 19.30)"/><rect x="4.75" y="3.66" width="1.12" height="32.68" fill="#686562" opacity="0.61" transform="rotate(0.4 4.75 19.30)"/><rect x="36.05" y="-0.51" width="0.90" height="38.01" fill="#686562" opacity="0.42" transform="rotate(3.9 36.05 19.30)"/><rect x="5.62" y="-0.09" width="0.63" height="36.27" fill="#686562" opacity="0.51" transform="rotate(0.0 5.62 19.30)"/><rect x="2.01" y="4.25" width="1.24" height="33.15" fill="#686562" opacity="0.68" transform="rotate(0.0 2.01 19.30)"/><rect x="27.27" y="4.67" width="1.15" height="31.61" fill="#686562" opacity="0.59" transform="rotate(4.8 27.27 19.30)"/><rect x="35.22" y="-0.86" width="0.81" height="37.23" fill="#686562" opacity="0.49" transform="rotate(0.0 35.22 19.30)"/><rect x="6.97" y="-0.22" width="0.63" height="38.09" fill="#686562" opacity="0.33" transform="rotate(0.0 6.97 19.30)"/><rect x="15.23" y="-1" width="1.73" height="40.60" fill="#f1efeb" opacity="0.44" transform="rotate(0.6 15.23 19.30)"/><rect x="34.05" y="-1" width="1.67" height="40.60" fill="#f1efeb" opacity="0.79" transform="rotate(-1.0 34.05 19.30)"/><rect x="14.01" y="-1" width="1.75" height="40.60" fill="#f1efeb" opacity="0.83" transform="rotate(-3.9 14.01 19.30)"/><rect x="9.16" y="-1" width="0.90" height="40.60" fill="#f1efeb" opacity="0.62" transform="rotate(0.0 9.16 19.30)"/><rect x="10.34" y="-1" width="0.61" height="40.60" fill="#f1efeb" opacity="0.59" transform="rotate(0.8 10.34 19.30)"/><rect x="36.71" y="-1" width="1.50" height="40.60" fill="#f1efeb" opacity="0.63" transform="rotate(0.0 36.71 19.30)"/><rect x="26.13" y="-1" width="0.67" height="40.60" fill="#f1efeb" opacity="0.80" transform="rotate(0.0 26.13 19.30)"/><rect x="15.93" y="7.25" width="1.04" height="17.37" fill="#d9b56c" opacity="0.35" transform="rotate(5.8 15.93 19.30)"/><rect x="17.42" y="3.42" width="1.12" height="14.50" fill="#d9b56c" opacity="0.44" transform="rotate(0.4 17.42 19.30)"/><rect x="0" y="0" width="1.6" height="38.60" fill="#e0deda" opacity="0.55"/><rect x="39.40" y="0" width="1.6" height="38.60" fill="#e0deda" opacity="0.5"/><rect x="0" y="0" width="41.00" height="38.60" fill="url(#shade)"/><rect x="14.40" y="3.67" width="11.40" height="16.98" rx="1.5" fill="#f3ecc4" opacity="0.55"/><rect x="16.00" y="5.21" width="8.20" height="13.90" rx="0.8" fill="url(#lamp)"/><rect x="37.00" y="5.02" width="2.4" height="12.74" fill="#f5efc2" opacity="0.95"/><rect x="13.90" y="19.30" width="12.40" height="9.26" fill="#c4beba" opacity="0.45"/><rect x="13.60" y="28.95" width="13.00" height="1.5" fill="#cfa85e" opacity="0.7"/><rect x="8.60" y="31.27" width="23.00" height="7.33" fill="#d9cfbd" opacity="0.45"/><rect x="11.10" y="33.58" width="18.00" height="1.1" fill="#c9a45e" opacity="0.45"/><rect x="0" y="35.60" width="41.00" height="3" fill="#f4f2ee" opacity="0.35"/></g><rect x="2.05" y="38.40" width="12.30" height="2.8" rx="1" fill="#ffffff" opacity="0.92"/><rect x="26.65" y="38.40" width="12.30" height="2.8" rx="1" fill="#ffffff" opacity="0.92"/><rect x="15.60" y="38.20" width="9.00" height="4.8" fill="#c8a663" opacity="0.6"/></g><g transform="translate(515.40 721.40) scale(1 -1)"><clipPath id="c8"><rect x="0" y="0" width="41.00" height="39.00" rx="2.4"/></clipPath><g clip-path="url(#c8)"><rect x="0" y="0" width="41.00" height="39.00" fill="url(#gl3)"/><rect x="9.60" y="0" width="21.00" height="39.00" fill="#d6d2ca" opacity="0.45"/><rect x="37.55" y="4.99" width="0.64" height="33.54" fill="#686562" opacity="0.65" transform="rotate(-3.5 37.55 19.50)"/><rect x="5.67" y="3.21" width="1.49" height="33.15" fill="#686562" opacity="0.50" transform="rotate(3.6 5.67 19.50)"/><rect x="18.76" y="1.32" width="1.30" height="32.88" fill="#686562" opacity="0.63" transform="rotate(4.4 18.76 19.50)"/><rect x="4.65" y="2.10" width="0.56" height="36.44" fill="#686562" opacity="0.42" transform="rotate(5.6 4.65 19.50)"/><rect x="31.62" y="-0.11" width="1.17" height="34.09" fill="#686562" opacity="0.57" transform="rotate(2.8 31.62 19.50)"/><rect x="34.26" y="3.21" width="0.65" height="30.14" fill="#686562" opacity="0.68" transform="rotate(2.7 34.26 19.50)"/><rect x="32.97" y="2.06" width="1.05" height="37.44" fill="#686562" opacity="0.40" transform="rotate(0.4 32.97 19.50)"/><rect x="35.27" y="-0.93" width="1.06" height="38.53" fill="#686562" opacity="0.65" transform="rotate(-3.6 35.27 19.50)"/><rect x="10.77" y="4.35" width="0.97" height="34.42" fill="#686562" opacity="0.49" transform="rotate(0.0 10.77 19.50)"/><rect x="15.44" y="-1" width="0.82" height="41.00" fill="#f1efeb" opacity="0.70" transform="rotate(0.0 15.44 19.50)"/><rect x="8.01" y="-1" width="1.60" height="41.00" fill="#f1efeb" opacity="0.54" transform="rotate(3.2 8.01 19.50)"/><rect x="13.36" y="-1" width="0.82" height="41.00" fill="#f1efeb" opacity="0.60" transform="rotate(-1.1 13.36 19.50)"/><rect x="17.34" y="-1" width="1.14" height="41.00" fill="#f1efeb" opacity="0.66" transform="rotate(-4.9 17.34 19.50)"/><rect x="3.56" y="-1" width="0.74" height="41.00" fill="#f1efeb" opacity="0.63" transform="rotate(3.7 3.56 19.50)"/><rect x="19.59" y="-1" width="1.52" height="41.00" fill="#f1efeb" opacity="0.84" transform="rotate(-5.8 19.59 19.50)"/><rect x="5.66" y="-1" width="1.10" height="41.00" fill="#f1efeb" opacity="0.66" transform="rotate(0.0 5.66 19.50)"/><rect x="13.73" y="-1" width="1.85" height="41.00" fill="#f1efeb" opacity="0.40" transform="rotate(0.0 13.73 19.50)"/><rect x="4.12" y="10.38" width="1.32" height="22.12" fill="#d9b56c" opacity="0.50" transform="rotate(3.8 4.12 19.50)"/><rect x="0" y="0" width="1.6" height="39.00" fill="#e0deda" opacity="0.55"/><rect x="39.40" y="0" width="1.6" height="39.00" fill="#e0deda" opacity="0.5"/><rect x="0" y="0" width="41.00" height="39.00" fill="url(#shade)"/><rect x="14.40" y="3.71" width="11.40" height="17.16" rx="1.5" fill="#f3ecc4" opacity="0.55"/><rect x="16.00" y="5.27" width="8.20" height="14.04" rx="0.8" fill="url(#lamp)"/><rect x="37.00" y="5.07" width="2.4" height="12.87" fill="#f5efc2" opacity="0.95"/><rect x="13.90" y="19.50" width="12.40" height="9.36" fill="#c4beba" opacity="0.45"/><rect x="13.60" y="29.25" width="13.00" height="1.5" fill="#cfa85e" opacity="0.7"/><rect x="8.60" y="31.59" width="23.00" height="7.41" fill="#d9cfbd" opacity="0.45"/><rect x="11.10" y="33.93" width="18.00" height="1.1" fill="#c9a45e" opacity="0.45"/><rect x="0" y="36.00" width="41.00" height="3" fill="#f4f2ee" opacity="0.35"/></g><rect x="2.05" y="38.80" width="12.30" height="2.8" rx="1" fill="#ffffff" opacity="0.92"/><rect x="26.65" y="38.80" width="12.30" height="2.8" rx="1" fill="#ffffff" opacity="0.92"/><rect x="15.60" y="38.60" width="9.00" height="4.8" fill="#c8a663" opacity="0.6"/></g><g transform="translate(603.00 626.50)"><clipPath id="c9"><rect x="0" y="0" width="39.60" height="38.60" rx="2.4"/></clipPath><g clip-path="url(#c9)"><rect x="0" y="0" width="39.60" height="38.60" fill="url(#gl4)"/><rect x="7.30" y="0" width="21.00" height="38.60" fill="#d6d2ca" opacity="0.45"/><rect x="31.45" y="2.70" width="1.49" height="36.61" fill="#686562" opacity="0.34" transform="rotate(0.0 31.45 19.30)"/><rect x="3.57" y="4.95" width="0.69" height="34.21" fill="#686562" opacity="0.33" transform="rotate(5.2 3.57 19.30)"/><rect x="26.04" y="0.23" width="1.37" height="37.80" fill="#686562" opacity="0.74" transform="rotate(0.0 26.04 19.30)"/><rect x="29.92" y="1.38" width="1.48" height="35.83" fill="#686562" opacity="0.69" transform="rotate(0.0 29.92 19.30)"/><rect x="2.10" y="4.07" width="1.28" height="34.55" fill="#686562" opacity="0.30" transform="rotate(5.5 2.10 19.30)"/><rect x="9.28" y="-0.98" width="1.31" height="35.23" fill="#686562" opacity="0.73" transform="rotate(0.0 9.28 19.30)"/><rect x="7.83" y="-0.20" width="1.44" height="33.38" fill="#686562" opacity="0.47" transform="rotate(0.0 7.83 19.30)"/><rect x="4.16" y="0.04" width="0.94" height="35.30" fill="#686562" opacity="0.62" transform="rotate(1.1 4.16 19.30)"/><rect x="36.05" y="-0.10" width="0.56" height="37.83" fill="#686562" opacity="0.58" transform="rotate(0.0 36.05 19.30)"/><rect x="37.41" y="4.71" width="1.60" height="33.24" fill="#686562" opacity="0.36" transform="rotate(0.0 37.41 19.30)"/><rect x="2.99" y="1.19" width="1.45" height="36.94" fill="#686562" opacity="0.35" transform="rotate(0.0 2.99 19.30)"/><rect x="7.61" y="-1" width="1.83" height="40.60" fill="#f1efeb" opacity="0.74" transform="rotate(1.3 7.61 19.30)"/><rect x="0.32" y="-1" width="0.75" height="40.60" fill="#f1efeb" opacity="0.50" transform="rotate(3.8 0.32 19.30)"/><rect x="11.60" y="-1" width="0.97" height="40.60" fill="#f1efeb" opacity="0.63" transform="rotate(-1.4 11.60 19.30)"/><rect x="20.92" y="-1" width="1.16" height="40.60" fill="#f1efeb" opacity="0.56" transform="rotate(0.0 20.92 19.30)"/><rect x="21.13" y="-1" width="0.69" height="40.60" fill="#f1efeb" opacity="0.69" transform="rotate(3.1 21.13 19.30)"/><rect x="19.06" y="-1" width="1.84" height="40.60" fill="#f1efeb" opacity="0.65" transform="rotate(-2.5 19.06 19.30)"/><rect x="25.79" y="-1" width="1.74" height="40.60" fill="#f1efeb" opacity="0.41" transform="rotate(0.0 25.79 19.30)"/><rect x="30.09" y="-1" width="0.94" height="40.60" fill="#f1efeb" opacity="0.47" transform="rotate(-4.2 30.09 19.30)"/><rect x="4.05" y="4.75" width="0.97" height="19.41" fill="#d9b56c" opacity="0.54" transform="rotate(-1.7 4.05 19.30)"/><rect x="0" y="0" width="1.6" height="38.60" fill="#e0deda" opacity="0.55"/><rect x="38.00" y="0" width="1.6" height="38.60" fill="#e0deda" opacity="0.5"/><rect x="0" y="0" width="39.60" height="38.60" fill="url(#shade)"/><rect x="10.95" y="3.67" width="13.70" height="16.98" rx="1.5" fill="#f3ecc4" opacity="0.55"/><rect x="12.55" y="5.21" width="10.50" height="13.90" rx="0.8" fill="url(#lamp)"/><rect x="11.60" y="19.30" width="12.40" height="9.26" fill="#c4beba" opacity="0.45"/><rect x="11.30" y="28.95" width="13.00" height="1.5" fill="#cfa85e" opacity="0.7"/><rect x="6.30" y="31.27" width="23.00" height="7.33" fill="#d9cfbd" opacity="0.45"/><rect x="8.80" y="33.58" width="18.00" height="1.1" fill="#c9a45e" opacity="0.45"/><rect x="0" y="35.60" width="39.60" height="3" fill="#f4f2ee" opacity="0.35"/></g><rect x="1.98" y="38.40" width="11.88" height="2.8" rx="1" fill="#ffffff" opacity="0.92"/><rect x="25.74" y="38.40" width="11.88" height="2.8" rx="1" fill="#ffffff" opacity="0.92"/><rect x="13.30" y="38.20" width="9.00" height="4.8" fill="#c8a663" opacity="0.6"/></g><g transform="translate(603.00 721.40) scale(1 -1)"><clipPath id="c10"><rect x="0" y="0" width="39.60" height="39.00" rx="2.4"/></clipPath><g clip-path="url(#c10)"><rect x="0" y="0" width="39.60" height="39.00" fill="url(#gl4)"/><rect x="7.30" y="0" width="21.00" height="39.00" fill="#d6d2ca" opacity="0.45"/><rect x="32.87" y="0.50" width="1.22" height="32.83" fill="#686562" opacity="0.38" transform="rotate(-2.4 32.87 19.50)"/><rect x="37.47" y="1.29" width="0.55" height="36.73" fill="#686562" opacity="0.73" transform="rotate(0.0 37.47 19.50)"/><rect x="5.16" y="1.25" width="1.00" height="34.67" fill="#686562" opacity="0.73" transform="rotate(-0.8 5.16 19.50)"/><rect x="9.24" y="0.44" width="0.71" height="34.89" fill="#686562" opacity="0.75" transform="rotate(3.8 9.24 19.50)"/><rect x="4.94" y="0.81" width="1.43" height="34.95" fill="#686562" opacity="0.78" transform="rotate(-6.6 4.94 19.50)"/><rect x="3.17" y="4.48" width="1.52" height="34.47" fill="#686562" opacity="0.34" transform="rotate(6.2 3.17 19.50)"/><rect x="36.26" y="0.15" width="1.35" height="37.41" fill="#686562" opacity="0.52" transform="rotate(0.0 36.26 19.50)"/><rect x="36.51" y="4.19" width="0.99" height="33.94" fill="#686562" opacity="0.64" transform="rotate(0.3 36.51 19.50)"/><rect x="11.43" y="-1" width="1.46" height="41.00" fill="#f1efeb" opacity="0.82" transform="rotate(-3.9 11.43 19.50)"/><rect x="28.74" y="-1" width="1.03" height="41.00" fill="#f1efeb" opacity="0.50" transform="rotate(0.0 28.74 19.50)"/><rect x="1.91" y="-1" width="1.77" height="41.00" fill="#f1efeb" opacity="0.51" transform="rotate(-1.1 1.91 19.50)"/><rect x="6.12" y="-1" width="1.80" height="41.00" fill="#f1efeb" opacity="0.62" transform="rotate(0.0 6.12 19.50)"/><rect x="27.40" y="-1" width="1.89" height="41.00" fill="#f1efeb" opacity="0.52" transform="rotate(-0.0 27.40 19.50)"/><rect x="6.42" y="-1" width="1.48" height="41.00" fill="#f1efeb" opacity="0.80" transform="rotate(0.5 6.42 19.50)"/><rect x="13.15" y="-1" width="1.10" height="41.00" fill="#f1efeb" opacity="0.72" transform="rotate(0.0 13.15 19.50)"/><rect x="3.93" y="-1" width="1.87" height="41.00" fill="#f1efeb" opacity="0.77" transform="rotate(0.0 3.93 19.50)"/><rect x="16.44" y="-1" width="0.68" height="41.00" fill="#f1efeb" opacity="0.56" transform="rotate(1.3 16.44 19.50)"/><rect x="6.68" y="13.72" width="1.24" height="22.65" fill="#d9b56c" opacity="0.39" transform="rotate(-2.9 6.68 19.50)"/><rect x="28.50" y="8.21" width="0.93" height="18.72" fill="#d9b56c" opacity="0.43" transform="rotate(2.9 28.50 19.50)"/><rect x="0" y="0" width="1.6" height="39.00" fill="#e0deda" opacity="0.55"/><rect x="38.00" y="0" width="1.6" height="39.00" fill="#e0deda" opacity="0.5"/><rect x="0" y="0" width="39.60" height="39.00" fill="url(#shade)"/><rect x="10.95" y="3.71" width="13.70" height="17.16" rx="1.5" fill="#f3ecc4" opacity="0.55"/><rect x="12.55" y="5.27" width="10.50" height="14.04" rx="0.8" fill="url(#lamp)"/><rect x="11.60" y="19.50" width="12.40" height="9.36" fill="#c4beba" opacity="0.45"/><rect x="11.30" y="29.25" width="13.00" height="1.5" fill="#cfa85e" opacity="0.7"/><rect x="6.30" y="31.59" width="23.00" height="7.41" fill="#d9cfbd" opacity="0.45"/><rect x="8.80" y="33.93" width="18.00" height="1.1" fill="#c9a45e" opacity="0.45"/><rect x="0" y="36.00" width="39.60" height="3" fill="#f4f2ee" opacity="0.35"/></g><rect x="1.98" y="38.80" width="11.88" height="2.8" rx="1" fill="#ffffff" opacity="0.92"/><rect x="25.74" y="38.80" width="11.88" height="2.8" rx="1" fill="#ffffff" opacity="0.92"/><rect x="13.30" y="38.60" width="9.00" height="4.8" fill="#c8a663" opacity="0.6"/></g><g transform="translate(697.70 626.50)"><clipPath id="c11"><rect x="0" y="0" width="36.00" height="38.60" rx="2.4"/></clipPath><g clip-path="url(#c11)"><rect x="0" y="0" width="36.00" height="38.60" fill="url(#gld)"/><rect x="7.50" y="0" width="21.00" height="38.60" fill="#d6d2ca" opacity="0.45"/><rect x="15.64" y="0.12" width="0.71" height="36.36" fill="#4c4946" opacity="0.70" transform="rotate(1.6 15.64 19.30)"/><rect x="5.25" y="2.57" width="1.09" height="34.25" fill="#4c4946" opacity="0.75" transform="rotate(0.0 5.25 19.30)"/><rect x="4.08" y="1.78" width="0.57" height="34.73" fill="#4c4946" opacity="0.40" transform="rotate(-6.6 4.08 19.30)"/><rect x="28.72" y="1.74" width="1.07" height="35.91" fill="#4c4946" opacity="0.62" transform="rotate(2.3 28.72 19.30)"/><rect x="33.92" y="0.89" width="1.60" height="37.10" fill="#4c4946" opacity="0.72" transform="rotate(0.0 33.92 19.30)"/><rect x="31.60" y="-1.00" width="0.93" height="39.13" fill="#4c4946" opacity="0.78" transform="rotate(0.0 31.60 19.30)"/><rect x="30.99" y="2.78" width="1.02" height="31.37" fill="#4c4946" opacity="0.79" transform="rotate(-6.0 30.99 19.30)"/><rect x="2.33" y="1.92" width="0.65" height="32.90" fill="#4c4946" opacity="0.65" transform="rotate(-0.5 2.33 19.30)"/><rect x="6.81" y="1.52" width="1.06" height="35.40" fill="#4c4946" opacity="0.79" transform="rotate(0.0 6.81 19.30)"/><rect x="13.73" y="2.56" width="0.50" height="30.06" fill="#4c4946" opacity="0.73" transform="rotate(0.0 13.73 19.30)"/><rect x="1.16" y="2.46" width="0.71" height="36.84" fill="#4c4946" opacity="0.80" transform="rotate(0.0 1.16 19.30)"/><rect x="5.16" y="-1" width="1.17" height="40.60" fill="#f1efeb" opacity="0.40" transform="rotate(0.0 5.16 19.30)"/><rect x="27.87" y="-1" width="1.10" height="40.60" fill="#f1efeb" opacity="0.43" transform="rotate(1.6 27.87 19.30)"/><rect x="0.81" y="-1" width="1.08" height="40.60" fill="#f1efeb" opacity="0.68" transform="rotate(1.0 0.81 19.30)"/><rect x="27.93" y="-1" width="0.78" height="40.60" fill="#f1efeb" opacity="0.57" transform="rotate(0.0 27.93 19.30)"/><rect x="10.62" y="-1" width="0.90" height="40.60" fill="#f1efeb" opacity="0.67" transform="rotate(0.0 10.62 19.30)"/><rect x="5.56" y="-1" width="1.42" height="40.60" fill="#f1efeb" opacity="0.65" transform="rotate(0.0 5.56 19.30)"/><rect x="13.19" y="-1" width="1.23" height="40.60" fill="#f1efeb" opacity="0.44" transform="rotate(-4.7 13.19 19.30)"/><rect x="17.31" y="-1" width="0.93" height="40.60" fill="#f1efeb" opacity="0.73" transform="rotate(-1.0 17.31 19.30)"/><rect x="30.34" y="-1" width="1.24" height="40.60" fill="#f1efeb" opacity="0.63" transform="rotate(0.0 30.34 19.30)"/><rect x="5.79" y="8.41" width="1.16" height="19.45" fill="#d9b56c" opacity="0.32" transform="rotate(-3.5 5.79 19.30)"/><rect x="0" y="0" width="1.6" height="38.60" fill="#e0deda" opacity="0.55"/><rect x="34.40" y="0" width="1.6" height="38.60" fill="#e0deda" opacity="0.5"/><rect x="0" y="0" width="36.00" height="38.60" fill="url(#shade)"/><rect x="10.40" y="3.67" width="15.20" height="16.98" rx="1.5" fill="#f3ecc4" opacity="0.55"/><rect x="12.00" y="5.21" width="12.00" height="13.90" rx="0.8" fill="url(#lamp)"/><rect x="11.80" y="19.30" width="12.40" height="9.26" fill="#c4beba" opacity="0.45"/><rect x="11.50" y="28.95" width="13.00" height="1.5" fill="#cfa85e" opacity="0.7"/><rect x="6.50" y="31.27" width="23.00" height="7.33" fill="#d9cfbd" opacity="0.45"/><rect x="9.00" y="33.58" width="18.00" height="1.1" fill="#c9a45e" opacity="0.45"/><rect x="0" y="35.60" width="36.00" height="3" fill="#f4f2ee" opacity="0.35"/></g><rect x="1.80" y="38.40" width="10.80" height="2.8" rx="1" fill="#ffffff" opacity="0.92"/><rect x="23.40" y="38.40" width="10.80" height="2.8" rx="1" fill="#ffffff" opacity="0.92"/><rect x="13.50" y="38.20" width="9.00" height="4.8" fill="#c8a663" opacity="0.6"/></g><g transform="translate(697.70 721.40) scale(1 -1)"><clipPath id="c12"><rect x="0" y="0" width="36.00" height="39.00" rx="2.4"/></clipPath><g clip-path="url(#c12)"><rect x="0" y="0" width="36.00" height="39.00" fill="url(#gld)"/><rect x="7.50" y="0" width="21.00" height="39.00" fill="#d6d2ca" opacity="0.45"/><rect x="30.04" y="0.37" width="1.03" height="39.62" fill="#4c4946" opacity="0.62" transform="rotate(5.1 30.04 19.50)"/><rect x="21.41" y="0.20" width="0.90" height="36.21" fill="#4c4946" opacity="0.47" transform="rotate(1.1 21.41 19.50)"/><rect x="27.94" y="3.92" width="1.25" height="31.45" fill="#4c4946" opacity="0.70" transform="rotate(5.9 27.94 19.50)"/><rect x="7.98" y="4.83" width="1.59" height="31.40" fill="#4c4946" opacity="0.51" transform="rotate(2.3 7.98 19.50)"/><rect x="30.05" y="2.33" width="1.11" height="34.12" fill="#4c4946" opacity="0.79" transform="rotate(0.0 30.05 19.50)"/><rect x="3.30" y="2.25" width="1.17" height="33.27" fill="#4c4946" opacity="0.63" transform="rotate(1.5 3.30 19.50)"/><rect x="3.27" y="4.20" width="0.71" height="33.10" fill="#4c4946" opacity="0.69" transform="rotate(6.2 3.27 19.50)"/><rect x="2.34" y="0.33" width="0.53" height="36.68" fill="#4c4946" opacity="0.71" transform="rotate(0.3 2.34 19.50)"/><rect x="1.06" y="2.61" width="0.59" height="32.31" fill="#4c4946" opacity="0.44" transform="rotate(-0.0 1.06 19.50)"/><rect x="31.82" y="0.09" width="0.76" height="34.54" fill="#4c4946" opacity="0.79" transform="rotate(0.7 31.82 19.50)"/><rect x="7.87" y="3.81" width="1.17" height="34.93" fill="#4c4946" opacity="0.77" transform="rotate(0.0 7.87 19.50)"/><rect x="26.69" y="-1" width="1.25" height="41.00" fill="#f1efeb" opacity="0.51" transform="rotate(-1.7 26.69 19.50)"/><rect x="18.45" y="-1" width="0.80" height="41.00" fill="#f1efeb" opacity="0.82" transform="rotate(0.0 18.45 19.50)"/><rect x="22.50" y="-1" width="0.96" height="41.00" fill="#f1efeb" opacity="0.45" transform="rotate(0.0 22.50 19.50)"/><rect x="16.97" y="-1" width="1.24" height="41.00" fill="#f1efeb" opacity="0.56" transform="rotate(0.0 16.97 19.50)"/><rect x="15.07" y="-1" width="1.56" height="41.00" fill="#f1efeb" opacity="0.60" transform="rotate(0.0 15.07 19.50)"/><rect x="1.83" y="-1" width="1.03" height="41.00" fill="#f1efeb" opacity="0.79" transform="rotate(0.0 1.83 19.50)"/><rect x="15.08" y="-1" width="1.63" height="41.00" fill="#f1efeb" opacity="0.73" transform="rotate(0.0 15.08 19.50)"/><rect x="1.25" y="-1" width="0.60" height="41.00" fill="#f1efeb" opacity="0.41" transform="rotate(0.0 1.25 19.50)"/><rect x="14.61" y="5.24" width="1.00" height="23.20" fill="#d9b56c" opacity="0.44" transform="rotate(1.5 14.61 19.50)"/><rect x="29.60" y="15.08" width="1.23" height="17.72" fill="#d9b56c" opacity="0.45" transform="rotate(4.8 29.60 19.50)"/><rect x="0" y="0" width="1.6" height="39.00" fill="#e0deda" opacity="0.55"/><rect x="34.40" y="0" width="1.6" height="39.00" fill="#e0deda" opacity="0.5"/><rect x="0" y="0" width="36.00" height="39.00" fill="url(#shade)"/><rect x="10.40" y="3.71" width="15.20" height="17.16" rx="1.5" fill="#f3ecc4" opacity="0.55"/><rect x="12.00" y="5.27" width="12.00" height="14.04" rx="0.8" fill="url(#lamp)"/><rect x="11.80" y="19.50" width="12.40" height="9.36" fill="#c4beba" opacity="0.45"/><rect x="11.50" y="29.25" width="13.00" height="1.5" fill="#cfa85e" opacity="0.7"/><rect x="6.50" y="31.59" width="23.00" height="7.41" fill="#d9cfbd" opacity="0.45"/><rect x="9.00" y="33.93" width="18.00" height="1.1" fill="#c9a45e" opacity="0.45"/><rect x="0" y="36.00" width="36.00" height="3" fill="#f4f2ee" opacity="0.35"/></g><rect x="1.80" y="38.80" width="10.80" height="2.8" rx="1" fill="#ffffff" opacity="0.92"/><rect x="23.40" y="38.80" width="10.80" height="2.8" rx="1" fill="#ffffff" opacity="0.92"/><rect x="13.50" y="38.60" width="9.00" height="4.8" fill="#c8a663" opacity="0.6"/></g><g transform="translate(788.90 626.50)"><clipPath id="c13"><rect x="0" y="0" width="39.40" height="38.60" rx="2.4"/></clipPath><g clip-path="url(#c13)"><rect x="0" y="0" width="39.40" height="38.60" fill="url(#gl5)"/><rect x="11.60" y="0" width="21.00" height="38.60" fill="#d6d2ca" opacity="0.45"/><rect x="8.65" y="0.12" width="1.23" height="38.98" fill="#686562" opacity="0.73" transform="rotate(0.0 8.65 19.30)"/><rect x="31.71" y="4.99" width="1.32" height="27.66" fill="#686562" opacity="0.31" transform="rotate(2.6 31.71 19.30)"/><rect x="31.29" y="0.57" width="0.59" height="35.87" fill="#686562" opacity="0.70" transform="rotate(0.0 31.29 19.30)"/><rect x="8.92" y="1.58" width="1.04" height="35.47" fill="#686562" opacity="0.68" transform="rotate(0.0 8.92 19.30)"/><rect x="36.80" y="-0.19" width="1.26" height="35.05" fill="#686562" opacity="0.58" transform="rotate(0.0 36.80 19.30)"/><rect x="35.82" y="2.46" width="0.91" height="33.29" fill="#686562" opacity="0.43" transform="rotate(5.4 35.82 19.30)"/><rect x="21.36" y="1.78" width="1.27" height="37.80" fill="#686562" opacity="0.37" transform="rotate(1.8 21.36 19.30)"/><rect x="16.16" y="1.67" width="0.75" height="36.15" fill="#686562" opacity="0.55" transform="rotate(0.0 16.16 19.30)"/><rect x="36.61" y="-0.18" width="0.72" height="32.98" fill="#686562" opacity="0.73" transform="rotate(3.0 36.61 19.30)"/><rect x="2.53" y="-0.01" width="0.90" height="34.82" fill="#686562" opacity="0.66" transform="rotate(-2.9 2.53 19.30)"/><rect x="4.41" y="-1" width="0.89" height="40.60" fill="#f1efeb" opacity="0.43" transform="rotate(0.0 4.41 19.30)"/><rect x="20.66" y="-1" width="1.31" height="40.60" fill="#f1efeb" opacity="0.42" transform="rotate(-1.9 20.66 19.30)"/><rect x="3.69" y="-1" width="0.60" height="40.60" fill="#f1efeb" opacity="0.85" transform="rotate(-2.4 3.69 19.30)"/><rect x="10.14" y="-1" width="1.38" height="40.60" fill="#f1efeb" opacity="0.43" transform="rotate(-1.6 10.14 19.30)"/><rect x="30.84" y="-1" width="0.61" height="40.60" fill="#f1efeb" opacity="0.55" transform="rotate(5.6 30.84 19.30)"/><rect x="19.21" y="-1" width="1.22" height="40.60" fill="#f1efeb" opacity="0.70" transform="rotate(-5.6 19.21 19.30)"/><rect x="18.65" y="-1" width="1.78" height="40.60" fill="#f1efeb" opacity="0.73" transform="rotate(2.2 18.65 19.30)"/><rect x="31.38" y="-1" width="0.94" height="40.60" fill="#f1efeb" opacity="0.66" transform="rotate(-3.1 31.38 19.30)"/><rect x="16.29" y="10.59" width="1.00" height="16.57" fill="#d9b56c" opacity="0.42" transform="rotate(-5.2 16.29 19.30)"/><rect x="3.52" y="14.38" width="1.16" height="16.47" fill="#d9b56c" opacity="0.41" transform="rotate(5.9 3.52 19.30)"/><rect x="0" y="0" width="1.6" height="38.60" fill="#e0deda" opacity="0.55"/><rect x="37.80" y="0" width="1.6" height="38.60" fill="#e0deda" opacity="0.5"/><rect x="0" y="0" width="39.40" height="38.60" fill="url(#shade)"/><rect x="14.50" y="3.67" width="15.20" height="16.98" rx="1.5" fill="#f3ecc4" opacity="0.55"/><rect x="16.10" y="5.21" width="12.00" height="13.90" rx="0.8" fill="url(#lamp)"/><rect x="15.90" y="19.30" width="12.40" height="9.26" fill="#c4beba" opacity="0.45"/><rect x="15.60" y="28.95" width="13.00" height="1.5" fill="#cfa85e" opacity="0.7"/><rect x="10.60" y="31.27" width="23.00" height="7.33" fill="#d9cfbd" opacity="0.45"/><rect x="13.10" y="33.58" width="18.00" height="1.1" fill="#c9a45e" opacity="0.45"/><rect x="0" y="35.60" width="39.40" height="3" fill="#f4f2ee" opacity="0.35"/></g><rect x="1.97" y="38.40" width="11.82" height="2.8" rx="1" fill="#ffffff" opacity="0.92"/><rect x="25.61" y="38.40" width="11.82" height="2.8" rx="1" fill="#ffffff" opacity="0.92"/><rect x="17.60" y="38.20" width="9.00" height="4.8" fill="#c8a663" opacity="0.6"/></g><g transform="translate(788.90 721.40) scale(1 -1)"><clipPath id="c14"><rect x="0" y="0" width="39.40" height="39.00" rx="2.4"/></clipPath><g clip-path="url(#c14)"><rect x="0" y="0" width="39.40" height="39.00" fill="url(#gl5)"/><rect x="11.60" y="0" width="21.00" height="39.00" fill="#d6d2ca" opacity="0.45"/><rect x="10.50" y="0.82" width="0.78" height="34.39" fill="#686562" opacity="0.67" transform="rotate(0.0 10.50 19.50)"/><rect x="34.84" y="2.79" width="0.89" height="36.16" fill="#686562" opacity="0.43" transform="rotate(0.0 34.84 19.50)"/><rect x="2.08" y="1.29" width="1.15" height="34.63" fill="#686562" opacity="0.31" transform="rotate(5.0 2.08 19.50)"/><rect x="34.98" y="4.32" width="1.49" height="31.63" fill="#686562" opacity="0.35" transform="rotate(0.0 34.98 19.50)"/><rect x="36.57" y="3.79" width="1.07" height="32.71" fill="#686562" opacity="0.40" transform="rotate(-3.9 36.57 19.50)"/><rect x="4.28" y="3.44" width="1.40" height="35.76" fill="#686562" opacity="0.34" transform="rotate(-6.6 4.28 19.50)"/><rect x="36.36" y="-0.43" width="1.00" height="37.11" fill="#686562" opacity="0.54" transform="rotate(1.3 36.36 19.50)"/><rect x="9.22" y="3.22" width="1.45" height="32.78" fill="#686562" opacity="0.77" transform="rotate(-5.0 9.22 19.50)"/><rect x="1.00" y="-1" width="1.52" height="41.00" fill="#f1efeb" opacity="0.82" transform="rotate(-1.8 1.00 19.50)"/><rect x="21.14" y="-1" width="1.82" height="41.00" fill="#f1efeb" opacity="0.52" transform="rotate(-3.7 21.14 19.50)"/><rect x="23.30" y="-1" width="1.21" height="41.00" fill="#f1efeb" opacity="0.52" transform="rotate(-5.6 23.30 19.50)"/><rect x="11.74" y="-1" width="1.88" height="41.00" fill="#f1efeb" opacity="0.66" transform="rotate(5.2 11.74 19.50)"/><rect x="13.41" y="-1" width="0.93" height="41.00" fill="#f1efeb" opacity="0.42" transform="rotate(-3.6 13.41 19.50)"/><rect x="8.72" y="-1" width="1.73" height="41.00" fill="#f1efeb" opacity="0.52" transform="rotate(1.2 8.72 19.50)"/><rect x="33.87" y="-1" width="0.98" height="41.00" fill="#f1efeb" opacity="0.74" transform="rotate(0.7 33.87 19.50)"/><rect x="18.97" y="13.44" width="0.96" height="17.40" fill="#d9b56c" opacity="0.54" transform="rotate(0.6 18.97 19.50)"/><rect x="0" y="0" width="1.6" height="39.00" fill="#e0deda" opacity="0.55"/><rect x="37.80" y="0" width="1.6" height="39.00" fill="#e0deda" opacity="0.5"/><rect x="0" y="0" width="39.40" height="39.00" fill="url(#shade)"/><rect x="14.50" y="3.71" width="15.20" height="17.16" rx="1.5" fill="#f3ecc4" opacity="0.55"/><rect x="16.10" y="5.27" width="12.00" height="14.04" rx="0.8" fill="url(#lamp)"/><rect x="15.90" y="19.50" width="12.40" height="9.36" fill="#c4beba" opacity="0.45"/><rect x="15.60" y="29.25" width="13.00" height="1.5" fill="#cfa85e" opacity="0.7"/><rect x="10.60" y="31.59" width="23.00" height="7.41" fill="#d9cfbd" opacity="0.45"/><rect x="13.10" y="33.93" width="18.00" height="1.1" fill="#c9a45e" opacity="0.45"/><rect x="0" y="36.00" width="39.40" height="3" fill="#f4f2ee" opacity="0.35"/></g><rect x="1.97" y="38.80" width="11.82" height="2.8" rx="1" fill="#ffffff" opacity="0.92"/><rect x="25.61" y="38.80" width="11.82" height="2.8" rx="1" fill="#ffffff" opacity="0.92"/><rect x="17.60" y="38.60" width="9.00" height="4.8" fill="#c8a663" opacity="0.6"/></g><g transform="translate(875.50 626.50)"><clipPath id="c15"><rect x="0" y="0" width="40.00" height="38.60" rx="2.4"/></clipPath><g clip-path="url(#c15)"><rect x="0" y="0" width="40.00" height="38.60" fill="url(#gl0)"/><rect x="9.50" y="0" width="21.00" height="38.60" fill="#d6d2ca" opacity="0.45"/><rect x="10.45" y="5.00" width="1.47" height="32.92" fill="#686562" opacity="0.64" transform="rotate(0.0 10.45 19.30)"/><rect x="13.18" y="4.15" width="1.28" height="29.33" fill="#686562" opacity="0.44" transform="rotate(-3.8 13.18 19.30)"/><rect x="30.41" y="1.73" width="0.75" height="34.93" fill="#686562" opacity="0.76" transform="rotate(-3.8 30.41 19.30)"/><rect x="3.46" y="4.58" width="1.12" height="30.50" fill="#686562" opacity="0.48" transform="rotate(0.0 3.46 19.30)"/><rect x="15.69" y="-0.89" width="1.59" height="39.51" fill="#686562" opacity="0.55" transform="rotate(0.0 15.69 19.30)"/><rect x="6.96" y="0.72" width="1.53" height="35.42" fill="#686562" opacity="0.65" transform="rotate(0.0 6.96 19.30)"/><rect x="33.76" y="4.04" width="0.61" height="31.67" fill="#686562" opacity="0.36" transform="rotate(-0.4 33.76 19.30)"/><rect x="37.51" y="1.32" width="0.59" height="34.94" fill="#686562" opacity="0.46" transform="rotate(1.8 37.51 19.30)"/><rect x="33.13" y="0.63" width="1.36" height="37.97" fill="#686562" opacity="0.68" transform="rotate(0.0 33.13 19.30)"/><rect x="25.46" y="-1" width="1.11" height="40.60" fill="#f1efeb" opacity="0.41" transform="rotate(5.6 25.46 19.30)"/><rect x="3.74" y="-1" width="0.68" height="40.60" fill="#f1efeb" opacity="0.60" transform="rotate(-2.9 3.74 19.30)"/><rect x="30.91" y="-1" width="1.33" height="40.60" fill="#f1efeb" opacity="0.79" transform="rotate(0.0 30.91 19.30)"/><rect x="17.95" y="-1" width="0.71" height="40.60" fill="#f1efeb" opacity="0.83" transform="rotate(3.1 17.95 19.30)"/><rect x="17.01" y="-1" width="1.54" height="40.60" fill="#f1efeb" opacity="0.71" transform="rotate(0.0 17.01 19.30)"/><rect x="2.40" y="-1" width="1.58" height="40.60" fill="#f1efeb" opacity="0.78" transform="rotate(-5.3 2.40 19.30)"/><rect x="22.25" y="6.14" width="1.28" height="21.24" fill="#d9b56c" opacity="0.52" transform="rotate(4.7 22.25 19.30)"/><rect x="2.51" y="10.97" width="0.94" height="17.26" fill="#d9b56c" opacity="0.43" transform="rotate(-4.3 2.51 19.30)"/><rect x="0" y="0" width="1.6" height="38.60" fill="#e0deda" opacity="0.55"/><rect x="38.40" y="0" width="1.6" height="38.60" fill="#e0deda" opacity="0.5"/><rect x="0" y="0" width="40.00" height="38.60" fill="url(#shade)"/><rect x="14.10" y="3.67" width="11.80" height="16.98" rx="1.5" fill="#f3ecc4" opacity="0.55"/><rect x="15.70" y="5.21" width="8.60" height="13.90" rx="0.8" fill="url(#lamp)"/><rect x="13.80" y="19.30" width="12.40" height="9.26" fill="#c4beba" opacity="0.45"/><rect x="13.50" y="28.95" width="13.00" height="1.5" fill="#cfa85e" opacity="0.7"/><rect x="8.50" y="31.27" width="23.00" height="7.33" fill="#d9cfbd" opacity="0.45"/><rect x="11.00" y="33.58" width="18.00" height="1.1" fill="#c9a45e" opacity="0.45"/><rect x="0" y="35.60" width="40.00" height="3" fill="#f4f2ee" opacity="0.35"/></g><rect x="2.00" y="38.40" width="12.00" height="2.8" rx="1" fill="#ffffff" opacity="0.92"/><rect x="26.00" y="38.40" width="12.00" height="2.8" rx="1" fill="#ffffff" opacity="0.92"/><rect x="15.50" y="38.20" width="9.00" height="4.8" fill="#c8a663" opacity="0.6"/></g><g transform="translate(875.50 721.40) scale(1 -1)"><clipPath id="c16"><rect x="0" y="0" width="40.00" height="39.00" rx="2.4"/></clipPath><g clip-path="url(#c16)"><rect x="0" y="0" width="40.00" height="39.00" fill="url(#gl0)"/><rect x="9.50" y="0" width="21.00" height="39.00" fill="#d6d2ca" opacity="0.45"/><rect x="32.45" y="3.00" width="0.76" height="30.34" fill="#686562" opacity="0.41" transform="rotate(4.4 32.45 19.50)"/><rect x="2.90" y="-0.84" width="1.48" height="37.64" fill="#686562" opacity="0.70" transform="rotate(0.0 2.90 19.50)"/><rect x="31.51" y="0.03" width="0.96" height="36.03" fill="#686562" opacity="0.34" transform="rotate(0.2 31.51 19.50)"/><rect x="1.41" y="1.77" width="1.08" height="37.77" fill="#686562" opacity="0.42" transform="rotate(-2.7 1.41 19.50)"/><rect x="26.72" y="1.95" width="1.30" height="31.62" fill="#686562" opacity="0.31" transform="rotate(0.0 26.72 19.50)"/><rect x="34.36" y="4.52" width="1.22" height="29.21" fill="#686562" opacity="0.78" transform="rotate(0.0 34.36 19.50)"/><rect x="1.74" y="1.86" width="0.55" height="33.46" fill="#686562" opacity="0.63" transform="rotate(0.0 1.74 19.50)"/><rect x="31.02" y="3.25" width="1.25" height="32.96" fill="#686562" opacity="0.71" transform="rotate(-2.5 31.02 19.50)"/><rect x="9.62" y="3.43" width="0.93" height="36.24" fill="#686562" opacity="0.32" transform="rotate(0.0 9.62 19.50)"/><rect x="32.25" y="0.44" width="0.93" height="35.49" fill="#686562" opacity="0.75" transform="rotate(0.0 32.25 19.50)"/><rect x="9.19" y="-1" width="0.92" height="41.00" fill="#f1efeb" opacity="0.45" transform="rotate(0.0 9.19 19.50)"/><rect x="10.25" y="-1" width="1.13" height="41.00" fill="#f1efeb" opacity="0.58" transform="rotate(0.0 10.25 19.50)"/><rect x="17.65" y="-1" width="0.94" height="41.00" fill="#f1efeb" opacity="0.43" transform="rotate(0.0 17.65 19.50)"/><rect x="16.21" y="-1" width="0.93" height="41.00" fill="#f1efeb" opacity="0.84" transform="rotate(3.7 16.21 19.50)"/><rect x="4.53" y="-1" width="1.42" height="41.00" fill="#f1efeb" opacity="0.53" transform="rotate(-4.3 4.53 19.50)"/><rect x="15.17" y="-1" width="0.76" height="41.00" fill="#f1efeb" opacity="0.46" transform="rotate(0.0 15.17 19.50)"/><rect x="15.01" y="-1" width="1.07" height="41.00" fill="#f1efeb" opacity="0.62" transform="rotate(-1.1 15.01 19.50)"/><rect x="24.79" y="-1" width="1.70" height="41.00" fill="#f1efeb" opacity="0.62" transform="rotate(0.0 24.79 19.50)"/><rect x="36.54" y="-1" width="1.70" height="41.00" fill="#f1efeb" opacity="0.74" transform="rotate(0.0 36.54 19.50)"/><rect x="10.21" y="10.75" width="0.85" height="17.96" fill="#d9b56c" opacity="0.33" transform="rotate(0.6 10.21 19.50)"/><rect x="27.95" y="15.48" width="0.78" height="20.09" fill="#d9b56c" opacity="0.31" transform="rotate(-5.0 27.95 19.50)"/><rect x="0" y="0" width="1.6" height="39.00" fill="#e0deda" opacity="0.55"/><rect x="38.40" y="0" width="1.6" height="39.00" fill="#e0deda" opacity="0.5"/><rect x="0" y="0" width="40.00" height="39.00" fill="url(#shade)"/><rect x="14.10" y="3.71" width="11.80" height="17.16" rx="1.5" fill="#f3ecc4" opacity="0.55"/><rect x="15.70" y="5.27" width="8.60" height="14.04" rx="0.8" fill="url(#lamp)"/><rect x="13.80" y="19.50" width="12.40" height="9.36" fill="#c4beba" opacity="0.45"/><rect x="13.50" y="29.25" width="13.00" height="1.5" fill="#cfa85e" opacity="0.7"/><rect x="8.50" y="31.59" width="23.00" height="7.41" fill="#d9cfbd" opacity="0.45"/><rect x="11.00" y="33.93" width="18.00" height="1.1" fill="#c9a45e" opacity="0.45"/><rect x="0" y="36.00" width="40.00" height="3" fill="#f4f2ee" opacity="0.35"/></g><rect x="2.00" y="38.80" width="12.00" height="2.8" rx="1" fill="#ffffff" opacity="0.92"/><rect x="26.00" y="38.80" width="12.00" height="2.8" rx="1" fill="#ffffff" opacity="0.92"/><rect x="15.50" y="38.60" width="9.00" height="4.8" fill="#c8a663" opacity="0.6"/></g><g transform="translate(950.30 626.50)"><clipPath id="c17"><rect x="0" y="0" width="39.40" height="38.60" rx="2.4"/></clipPath><g clip-path="url(#c17)"><rect x="0" y="0" width="39.40" height="38.60" fill="url(#gl1)"/><rect x="9.20" y="0" width="21.00" height="38.60" fill="#d6d2ca" opacity="0.45"/><rect x="35.94" y="2.97" width="0.82" height="35.86" fill="#686562" opacity="0.68" transform="rotate(0.0 35.94 19.30)"/><rect x="1.49" y="0.90" width="0.92" height="32.77" fill="#686562" opacity="0.67" transform="rotate(0.0 1.49 19.30)"/><rect x="35.38" y="4.25" width="0.94" height="34.29" fill="#686562" opacity="0.80" transform="rotate(4.4 35.38 19.30)"/><rect x="7.85" y="4.64" width="1.47" height="31.64" fill="#686562" opacity="0.62" transform="rotate(-5.9 7.85 19.30)"/><rect x="37.26" y="4.52" width="0.66" height="34.96" fill="#686562" opacity="0.71" transform="rotate(0.0 37.26 19.30)"/><rect x="33.40" y="0.43" width="0.91" height="35.27" fill="#686562" opacity="0.69" transform="rotate(0.0 33.40 19.30)"/><rect x="35.83" y="0.16" width="1.08" height="35.22" fill="#686562" opacity="0.48" transform="rotate(4.0 35.83 19.30)"/><rect x="35.28" y="2.47" width="0.85" height="35.22" fill="#686562" opacity="0.47" transform="rotate(0.0 35.28 19.30)"/><rect x="0.86" y="2.80" width="1.33" height="31.70" fill="#686562" opacity="0.47" transform="rotate(-3.2 0.86 19.30)"/><rect x="8.10" y="4.71" width="1.18" height="28.04" fill="#686562" opacity="0.56" transform="rotate(-0.2 8.10 19.30)"/><rect x="30.63" y="3.06" width="0.70" height="30.19" fill="#686562" opacity="0.80" transform="rotate(0.0 30.63 19.30)"/><rect x="2.14" y="-1" width="1.87" height="40.60" fill="#f1efeb" opacity="0.54" transform="rotate(0.0 2.14 19.30)"/><rect x="11.85" y="-1" width="1.01" height="40.60" fill="#f1efeb" opacity="0.47" transform="rotate(2.3 11.85 19.30)"/><rect x="11.71" y="-1" width="0.93" height="40.60" fill="#f1efeb" opacity="0.85" transform="rotate(0.5 11.71 19.30)"/><rect x="20.18" y="-1" width="1.87" height="40.60" fill="#f1efeb" opacity="0.50" transform="rotate(0.0 20.18 19.30)"/><rect x="21.38" y="-1" width="1.64" height="40.60" fill="#f1efeb" opacity="0.42" transform="rotate(0.0 21.38 19.30)"/><rect x="21.76" y="-1" width="1.67" height="40.60" fill="#f1efeb" opacity="0.50" transform="rotate(1.5 21.76 19.30)"/><rect x="3.13" y="-1" width="1.20" height="40.60" fill="#f1efeb" opacity="0.50" transform="rotate(3.8 3.13 19.30)"/><rect x="35.79" y="-1" width="1.38" height="40.60" fill="#f1efeb" opacity="0.83" transform="rotate(0.0 35.79 19.30)"/><rect x="3.79" y="13.17" width="1.38" height="15.14" fill="#d9b56c" opacity="0.54" transform="rotate(-3.2 3.79 19.30)"/><rect x="12.47" y="4.26" width="1.38" height="15.55" fill="#d9b56c" opacity="0.41" transform="rotate(-0.6 12.47 19.30)"/><rect x="0" y="0" width="1.6" height="38.60" fill="#e0deda" opacity="0.55"/><rect x="37.80" y="0" width="1.6" height="38.60" fill="#e0deda" opacity="0.5"/><rect x="0" y="0" width="39.40" height="38.60" fill="url(#shade)"/><rect x="12.35" y="3.67" width="14.70" height="16.98" rx="1.5" fill="#f3ecc4" opacity="0.55"/><rect x="13.95" y="5.21" width="11.50" height="13.90" rx="0.8" fill="url(#lamp)"/><rect x="13.50" y="19.30" width="12.40" height="9.26" fill="#c4beba" opacity="0.45"/><rect x="13.20" y="28.95" width="13.00" height="1.5" fill="#cfa85e" opacity="0.7"/><rect x="8.20" y="31.27" width="23.00" height="7.33" fill="#d9cfbd" opacity="0.45"/><rect x="10.70" y="33.58" width="18.00" height="1.1" fill="#c9a45e" opacity="0.45"/><rect x="0" y="35.60" width="39.40" height="3" fill="#f4f2ee" opacity="0.35"/></g><rect x="1.97" y="38.40" width="11.82" height="2.8" rx="1" fill="#ffffff" opacity="0.92"/><rect x="25.61" y="38.40" width="11.82" height="2.8" rx="1" fill="#ffffff" opacity="0.92"/><rect x="15.20" y="38.20" width="9.00" height="4.8" fill="#c8a663" opacity="0.6"/></g><g transform="translate(950.30 721.40) scale(1 -1)"><clipPath id="c18"><rect x="0" y="0" width="39.40" height="39.00" rx="2.4"/></clipPath><g clip-path="url(#c18)"><rect x="0" y="0" width="39.40" height="39.00" fill="url(#gl1)"/><rect x="9.20" y="0" width="21.00" height="39.00" fill="#d6d2ca" opacity="0.45"/><rect x="34.23" y="0.18" width="0.70" height="33.53" fill="#686562" opacity="0.45" transform="rotate(0.0 34.23 19.50)"/><rect x="4.85" y="3.87" width="1.07" height="34.95" fill="#686562" opacity="0.68" transform="rotate(6.5 4.85 19.50)"/><rect x="7.89" y="4.35" width="0.90" height="30.36" fill="#686562" opacity="0.55" transform="rotate(0.0 7.89 19.50)"/><rect x="33.33" y="2.16" width="0.74" height="32.06" fill="#686562" opacity="0.66" transform="rotate(1.3 33.33 19.50)"/><rect x="1.38" y="0.14" width="1.05" height="35.33" fill="#686562" opacity="0.70" transform="rotate(0.0 1.38 19.50)"/><rect x="30.26" y="4.47" width="0.64" height="34.12" fill="#686562" opacity="0.56" transform="rotate(0.0 30.26 19.50)"/><rect x="10.07" y="2.94" width="1.43" height="33.77" fill="#686562" opacity="0.70" transform="rotate(0.0 10.07 19.50)"/><rect x="4.27" y="2.78" width="1.10" height="31.68" fill="#686562" opacity="0.40" transform="rotate(0.0 4.27 19.50)"/><rect x="30.69" y="-0.20" width="1.25" height="35.38" fill="#686562" opacity="0.56" transform="rotate(0.0 30.69 19.50)"/><rect x="32.66" y="-1" width="1.22" height="41.00" fill="#f1efeb" opacity="0.77" transform="rotate(-1.0 32.66 19.50)"/><rect x="10.21" y="-1" width="1.12" height="41.00" fill="#f1efeb" opacity="0.72" transform="rotate(-1.9 10.21 19.50)"/><rect x="31.27" y="-1" width="0.99" height="41.00" fill="#f1efeb" opacity="0.46" transform="rotate(0.0 31.27 19.50)"/><rect x="20.11" y="-1" width="0.62" height="41.00" fill="#f1efeb" opacity="0.66" transform="rotate(-4.0 20.11 19.50)"/><rect x="27.34" y="-1" width="1.45" height="41.00" fill="#f1efeb" opacity="0.59" transform="rotate(0.0 27.34 19.50)"/><rect x="20.75" y="-1" width="1.20" height="41.00" fill="#f1efeb" opacity="0.45" transform="rotate(0.0 20.75 19.50)"/><rect x="16.09" y="7.46" width="1.13" height="18.25" fill="#d9b56c" opacity="0.40" transform="rotate(4.5 16.09 19.50)"/><rect x="32.22" y="4.01" width="0.82" height="21.30" fill="#d9b56c" opacity="0.54" transform="rotate(2.8 32.22 19.50)"/><rect x="0" y="0" width="1.6" height="39.00" fill="#e0deda" opacity="0.55"/><rect x="37.80" y="0" width="1.6" height="39.00" fill="#e0deda" opacity="0.5"/><rect x="0" y="0" width="39.40" height="39.00" fill="url(#shade)"/><rect x="12.35" y="3.71" width="14.70" height="17.16" rx="1.5" fill="#f3ecc4" opacity="0.55"/><rect x="13.95" y="5.27" width="11.50" height="14.04" rx="0.8" fill="url(#lamp)"/><rect x="13.50" y="19.50" width="12.40" height="9.36" fill="#c4beba" opacity="0.45"/><rect x="13.20" y="29.25" width="13.00" height="1.5" fill="#cfa85e" opacity="0.7"/><rect x="8.20" y="31.59" width="23.00" height="7.41" fill="#d9cfbd" opacity="0.45"/><rect x="10.70" y="33.93" width="18.00" height="1.1" fill="#c9a45e" opacity="0.45"/><rect x="0" y="36.00" width="39.40" height="3" fill="#f4f2ee" opacity="0.35"/></g><rect x="1.97" y="38.80" width="11.82" height="2.8" rx="1" fill="#ffffff" opacity="0.92"/><rect x="25.61" y="38.80" width="11.82" height="2.8" rx="1" fill="#ffffff" opacity="0.92"/><rect x="15.20" y="38.60" width="9.00" height="4.8" fill="#c8a663" opacity="0.6"/></g><g transform="translate(1010.30 626.50)"><clipPath id="c19"><rect x="0" y="0" width="43.70" height="38.60" rx="2.4"/></clipPath><g clip-path="url(#c19)"><rect x="0" y="0" width="43.70" height="38.60" fill="url(#gl2)"/><rect x="6.95" y="0" width="21.00" height="38.60" fill="#d6d2ca" opacity="0.45"/><rect x="5.43" y="4.01" width="1.15" height="30.18" fill="#686562" opacity="0.35" transform="rotate(6.6 5.43 19.30)"/><rect x="37.46" y="4.52" width="0.53" height="34.28" fill="#686562" opacity="0.61" transform="rotate(0.0 37.46 19.30)"/><rect x="19.27" y="1.54" width="0.58" height="32.09" fill="#686562" opacity="0.35" transform="rotate(1.1 19.27 19.30)"/><rect x="18.64" y="1.44" width="1.13" height="32.74" fill="#686562" opacity="0.55" transform="rotate(1.9 18.64 19.30)"/><rect x="1.53" y="-0.96" width="1.19" height="37.38" fill="#686562" opacity="0.35" transform="rotate(0.0 1.53 19.30)"/><rect x="35.58" y="-0.45" width="0.97" height="36.79" fill="#686562" opacity="0.57" transform="rotate(-7.0 35.58 19.30)"/><rect x="40.91" y="1.77" width="0.81" height="35.73" fill="#686562" opacity="0.50" transform="rotate(0.0 40.91 19.30)"/><rect x="28.41" y="3.51" width="0.55" height="35.38" fill="#686562" opacity="0.40" transform="rotate(0.0 28.41 19.30)"/><rect x="3.02" y="-1" width="1.26" height="40.60" fill="#f1efeb" opacity="0.70" transform="rotate(-0.8 3.02 19.30)"/><rect x="11.54" y="-1" width="0.71" height="40.60" fill="#f1efeb" opacity="0.48" transform="rotate(-0.4 11.54 19.30)"/><rect x="4.89" y="-1" width="1.41" height="40.60" fill="#f1efeb" opacity="0.80" transform="rotate(0.0 4.89 19.30)"/><rect x="3.08" y="-1" width="1.44" height="40.60" fill="#f1efeb" opacity="0.69" transform="rotate(-1.4 3.08 19.30)"/><rect x="26.99" y="-1" width="1.84" height="40.60" fill="#f1efeb" opacity="0.82" transform="rotate(0.0 26.99 19.30)"/><rect x="24.38" y="-1" width="1.85" height="40.60" fill="#f1efeb" opacity="0.49" transform="rotate(0.0 24.38 19.30)"/><rect x="2.93" y="5.73" width="1.30" height="14.13" fill="#d9b56c" opacity="0.37" transform="rotate(-0.4 2.93 19.30)"/><rect x="0" y="0" width="1.6" height="38.60" fill="#e0deda" opacity="0.55"/><rect x="42.10" y="0" width="1.6" height="38.60" fill="#e0deda" opacity="0.5"/><rect x="0" y="0" width="43.70" height="38.60" fill="url(#shade)"/><rect x="9.85" y="3.67" width="15.20" height="16.98" rx="1.5" fill="#f3ecc4" opacity="0.55"/><rect x="11.45" y="5.21" width="12.00" height="13.90" rx="0.8" fill="url(#lamp)"/><rect x="11.25" y="19.30" width="12.40" height="9.26" fill="#c4beba" opacity="0.45"/><rect x="10.95" y="28.95" width="13.00" height="1.5" fill="#cfa85e" opacity="0.7"/><rect x="5.95" y="31.27" width="23.00" height="7.33" fill="#d9cfbd" opacity="0.45"/><rect x="8.45" y="33.58" width="18.00" height="1.1" fill="#c9a45e" opacity="0.45"/><rect x="0" y="35.60" width="43.70" height="3" fill="#f4f2ee" opacity="0.35"/></g><rect x="2.19" y="38.40" width="13.11" height="2.8" rx="1" fill="#ffffff" opacity="0.92"/><rect x="28.41" y="38.40" width="13.11" height="2.8" rx="1" fill="#ffffff" opacity="0.92"/><rect x="12.95" y="38.20" width="9.00" height="4.8" fill="#c8a663" opacity="0.6"/></g><g transform="translate(1010.30 721.40) scale(1 -1)"><clipPath id="c20"><rect x="0" y="0" width="43.70" height="39.00" rx="2.4"/></clipPath><g clip-path="url(#c20)"><rect x="0" y="0" width="43.70" height="39.00" fill="url(#gl2)"/><rect x="6.95" y="0" width="21.00" height="39.00" fill="#d6d2ca" opacity="0.45"/><rect x="28.27" y="-0.84" width="1.43" height="37.99" fill="#686562" opacity="0.35" transform="rotate(5.7 28.27 19.50)"/><rect x="3.59" y="1.47" width="0.64" height="37.13" fill="#686562" opacity="0.54" transform="rotate(0.0 3.59 19.50)"/><rect x="30.59" y="-0.50" width="0.95" height="38.72" fill="#686562" opacity="0.40" transform="rotate(-4.2 30.59 19.50)"/><rect x="31.99" y="4.43" width="0.84" height="33.69" fill="#686562" opacity="0.43" transform="rotate(0.0 31.99 19.50)"/><rect x="30.14" y="4.44" width="0.81" height="29.10" fill="#686562" opacity="0.65" transform="rotate(3.1 30.14 19.50)"/><rect x="1.28" y="1.07" width="1.26" height="38.12" fill="#686562" opacity="0.80" transform="rotate(0.0 1.28 19.50)"/><rect x="2.66" y="0.89" width="0.63" height="34.00" fill="#686562" opacity="0.74" transform="rotate(2.1 2.66 19.50)"/><rect x="39.74" y="-0.29" width="1.08" height="37.11" fill="#686562" opacity="0.68" transform="rotate(2.3 39.74 19.50)"/><rect x="30.59" y="2.98" width="1.21" height="31.50" fill="#686562" opacity="0.78" transform="rotate(0.0 30.59 19.50)"/><rect x="8.25" y="-1" width="1.27" height="41.00" fill="#f1efeb" opacity="0.72" transform="rotate(5.1 8.25 19.50)"/><rect x="30.76" y="-1" width="1.77" height="41.00" fill="#f1efeb" opacity="0.80" transform="rotate(0.0 30.76 19.50)"/><rect x="17.44" y="-1" width="0.74" height="41.00" fill="#f1efeb" opacity="0.44" transform="rotate(4.3 17.44 19.50)"/><rect x="4.28" y="-1" width="0.76" height="41.00" fill="#f1efeb" opacity="0.58" transform="rotate(-5.0 4.28 19.50)"/><rect x="20.23" y="-1" width="0.83" height="41.00" fill="#f1efeb" opacity="0.77" transform="rotate(5.3 20.23 19.50)"/><rect x="4.19" y="-1" width="1.68" height="41.00" fill="#f1efeb" opacity="0.49" transform="rotate(0.0 4.19 19.50)"/><rect x="6.18" y="-1" width="1.54" height="41.00" fill="#f1efeb" opacity="0.40" transform="rotate(-1.4 6.18 19.50)"/><rect x="30.38" y="-1" width="0.97" height="41.00" fill="#f1efeb" opacity="0.84" transform="rotate(0.0 30.38 19.50)"/><rect x="4.51" y="8.36" width="1.37" height="13.75" fill="#d9b56c" opacity="0.48" transform="rotate(-5.2 4.51 19.50)"/><rect x="0" y="0" width="1.6" height="39.00" fill="#e0deda" opacity="0.55"/><rect x="42.10" y="0" width="1.6" height="39.00" fill="#e0deda" opacity="0.5"/><rect x="0" y="0" width="43.70" height="39.00" fill="url(#shade)"/><rect x="9.85" y="3.71" width="15.20" height="17.16" rx="1.5" fill="#f3ecc4" opacity="0.55"/><rect x="11.45" y="5.27" width="12.00" height="14.04" rx="0.8" fill="url(#lamp)"/><rect x="11.25" y="19.50" width="12.40" height="9.36" fill="#c4beba" opacity="0.45"/><rect x="10.95" y="29.25" width="13.00" height="1.5" fill="#cfa85e" opacity="0.7"/><rect x="5.95" y="31.59" width="23.00" height="7.41" fill="#d9cfbd" opacity="0.45"/><rect x="8.45" y="33.93" width="18.00" height="1.1" fill="#c9a45e" opacity="0.45"/><rect x="0" y="36.00" width="43.70" height="3" fill="#f4f2ee" opacity="0.35"/></g><rect x="2.19" y="38.80" width="13.11" height="2.8" rx="1" fill="#ffffff" opacity="0.92"/><rect x="28.41" y="38.80" width="13.11" height="2.8" rx="1" fill="#ffffff" opacity="0.92"/><rect x="12.95" y="38.60" width="9.00" height="4.8" fill="#c8a663" opacity="0.6"/></g><g transform="translate(1052.00 626.50)"><clipPath id="c21"><rect x="0" y="0" width="43.40" height="38.60" rx="2.4"/></clipPath><g clip-path="url(#c21)"><rect x="0" y="0" width="43.40" height="38.60" fill="url(#gl3)"/><rect x="0.40" y="0" width="21.00" height="38.60" fill="#d6d2ca" opacity="0.45"/><rect x="28.71" y="3.85" width="1.20" height="32.17" fill="#686562" opacity="0.54" transform="rotate(4.1 28.71 19.30)"/><rect x="21.16" y="-0.58" width="0.76" height="34.63" fill="#686562" opacity="0.30" transform="rotate(1.2 21.16 19.30)"/><rect x="41.35" y="-0.31" width="1.18" height="33.24" fill="#686562" opacity="0.32" transform="rotate(-0.0 41.35 19.30)"/><rect x="1.64" y="0.12" width="1.00" height="39.22" fill="#686562" opacity="0.58" transform="rotate(-0.2 1.64 19.30)"/><rect x="35.91" y="4.36" width="0.76" height="29.95" fill="#686562" opacity="0.69" transform="rotate(6.6 35.91 19.30)"/><rect x="31.70" y="3.96" width="1.14" height="34.23" fill="#686562" opacity="0.66" transform="rotate(-0.3 31.70 19.30)"/><rect x="38.26" y="1.31" width="1.48" height="31.32" fill="#686562" opacity="0.50" transform="rotate(-0.7 38.26 19.30)"/><rect x="35.34" y="2.13" width="0.50" height="33.47" fill="#686562" opacity="0.34" transform="rotate(0.0 35.34 19.30)"/><rect x="13.53" y="4.00" width="0.62" height="33.27" fill="#686562" opacity="0.63" transform="rotate(0.0 13.53 19.30)"/><rect x="31.23" y="-1" width="1.81" height="40.60" fill="#f1efeb" opacity="0.51" transform="rotate(5.1 31.23 19.30)"/><rect x="7.37" y="-1" width="1.16" height="40.60" fill="#f1efeb" opacity="0.47" transform="rotate(0.2 7.37 19.30)"/><rect x="27.01" y="-1" width="0.91" height="40.60" fill="#f1efeb" opacity="0.81" transform="rotate(2.9 27.01 19.30)"/><rect x="0.88" y="-1" width="1.05" height="40.60" fill="#f1efeb" opacity="0.63" transform="rotate(0.0 0.88 19.30)"/><rect x="38.31" y="-1" width="0.92" height="40.60" fill="#f1efeb" opacity="0.65" transform="rotate(-1.1 38.31 19.30)"/><rect x="30.40" y="-1" width="0.67" height="40.60" fill="#f1efeb" opacity="0.53" transform="rotate(0.0 30.40 19.30)"/><rect x="27.03" y="-1" width="0.65" height="40.60" fill="#f1efeb" opacity="0.51" transform="rotate(4.4 27.03 19.30)"/><rect x="26.50" y="-1" width="0.79" height="40.60" fill="#f1efeb" opacity="0.47" transform="rotate(0.0 26.50 19.30)"/><rect x="2.31" y="-1" width="0.78" height="40.60" fill="#f1efeb" opacity="0.69" transform="rotate(0.0 2.31 19.30)"/><rect x="3.06" y="4.80" width="1.29" height="21.18" fill="#d9b56c" opacity="0.52" transform="rotate(1.2 3.06 19.30)"/><rect x="17.94" y="9.78" width="1.29" height="16.48" fill="#d9b56c" opacity="0.43" transform="rotate(-2.7 17.94 19.30)"/><rect x="0" y="0" width="1.6" height="38.60" fill="#e0deda" opacity="0.55"/><rect x="41.80" y="0" width="1.6" height="38.60" fill="#e0deda" opacity="0.5"/><rect x="0" y="0" width="43.40" height="38.60" fill="url(#shade)"/><rect x="4.80" y="3.67" width="12.20" height="16.98" rx="1.5" fill="#f3ecc4" opacity="0.55"/><rect x="6.40" y="5.21" width="9.00" height="13.90" rx="0.8" fill="url(#lamp)"/><rect x="4.70" y="19.30" width="12.40" height="9.26" fill="#c4beba" opacity="0.45"/><rect x="4.40" y="28.95" width="13.00" height="1.5" fill="#cfa85e" opacity="0.7"/><rect x="-0.60" y="31.27" width="23.00" height="7.33" fill="#d9cfbd" opacity="0.45"/><rect x="1.90" y="33.58" width="18.00" height="1.1" fill="#c9a45e" opacity="0.45"/><rect x="0" y="35.60" width="43.40" height="3" fill="#f4f2ee" opacity="0.35"/></g><rect x="2.17" y="38.40" width="13.02" height="2.8" rx="1" fill="#ffffff" opacity="0.92"/><rect x="28.21" y="38.40" width="13.02" height="2.8" rx="1" fill="#ffffff" opacity="0.92"/><rect x="6.40" y="38.20" width="9.00" height="4.8" fill="#c8a663" opacity="0.6"/></g><g transform="translate(1052.00 721.40) scale(1 -1)"><clipPath id="c22"><rect x="0" y="0" width="43.40" height="39.00" rx="2.4"/></clipPath><g clip-path="url(#c22)"><rect x="0" y="0" width="43.40" height="39.00" fill="url(#gl3)"/><rect x="0.40" y="0" width="21.00" height="39.00" fill="#d6d2ca" opacity="0.45"/><rect x="1.47" y="1.07" width="1.60" height="32.70" fill="#686562" opacity="0.39" transform="rotate(2.1 1.47 19.50)"/><rect x="9.98" y="3.11" width="0.85" height="30.42" fill="#686562" opacity="0.60" transform="rotate(0.0 9.98 19.50)"/><rect x="29.46" y="0.86" width="0.55" height="37.80" fill="#686562" opacity="0.74" transform="rotate(0.0 29.46 19.50)"/><rect x="35.26" y="4.77" width="1.14" height="31.27" fill="#686562" opacity="0.77" transform="rotate(0.0 35.26 19.50)"/><rect x="29.06" y="0.87" width="1.17" height="33.66" fill="#686562" opacity="0.43" transform="rotate(0.0 29.06 19.50)"/><rect x="39.54" y="3.01" width="1.22" height="35.70" fill="#686562" opacity="0.37" transform="rotate(0.0 39.54 19.50)"/><rect x="2.51" y="2.04" width="1.08" height="34.34" fill="#686562" opacity="0.32" transform="rotate(0.0 2.51 19.50)"/><rect x="26.51" y="2.37" width="0.94" height="33.94" fill="#686562" opacity="0.31" transform="rotate(0.0 26.51 19.50)"/><rect x="31.48" y="-0.41" width="1.49" height="34.94" fill="#686562" opacity="0.51" transform="rotate(-0.8 31.48 19.50)"/><rect x="2.66" y="-1" width="1.69" height="41.00" fill="#f1efeb" opacity="0.49" transform="rotate(-5.9 2.66 19.50)"/><rect x="18.93" y="-1" width="0.85" height="41.00" fill="#f1efeb" opacity="0.41" transform="rotate(-3.9 18.93 19.50)"/><rect x="37.24" y="-1" width="1.42" height="41.00" fill="#f1efeb" opacity="0.60" transform="rotate(-4.4 37.24 19.50)"/><rect x="31.92" y="-1" width="1.56" height="41.00" fill="#f1efeb" opacity="0.70" transform="rotate(-3.7 31.92 19.50)"/><rect x="5.25" y="-1" width="0.79" height="41.00" fill="#f1efeb" opacity="0.66" transform="rotate(-4.6 5.25 19.50)"/><rect x="29.03" y="-1" width="0.78" height="41.00" fill="#f1efeb" opacity="0.53" transform="rotate(0.0 29.03 19.50)"/><rect x="35.15" y="-1" width="1.22" height="41.00" fill="#f1efeb" opacity="0.43" transform="rotate(0.0 35.15 19.50)"/><rect x="32.66" y="10.25" width="1.36" height="13.83" fill="#d9b56c" opacity="0.43" transform="rotate(1.6 32.66 19.50)"/><rect x="0" y="0" width="1.6" height="39.00" fill="#e0deda" opacity="0.55"/><rect x="41.80" y="0" width="1.6" height="39.00" fill="#e0deda" opacity="0.5"/><rect x="0" y="0" width="43.40" height="39.00" fill="url(#shade)"/><rect x="4.80" y="3.71" width="12.20" height="17.16" rx="1.5" fill="#f3ecc4" opacity="0.55"/><rect x="6.40" y="5.27" width="9.00" height="14.04" rx="0.8" fill="url(#lamp)"/><rect x="4.70" y="19.50" width="12.40" height="9.36" fill="#c4beba" opacity="0.45"/><rect x="4.40" y="29.25" width="13.00" height="1.5" fill="#cfa85e" opacity="0.7"/><rect x="-0.60" y="31.59" width="23.00" height="7.41" fill="#d9cfbd" opacity="0.45"/><rect x="1.90" y="33.93" width="18.00" height="1.1" fill="#c9a45e" opacity="0.45"/><rect x="0" y="36.00" width="43.40" height="3" fill="#f4f2ee" opacity="0.35"/></g><rect x="2.17" y="38.80" width="13.02" height="2.8" rx="1" fill="#ffffff" opacity="0.92"/><rect x="28.21" y="38.80" width="13.02" height="2.8" rx="1" fill="#ffffff" opacity="0.92"/><rect x="6.40" y="38.60" width="9.00" height="4.8" fill="#c8a663" opacity="0.6"/></g><g transform="translate(469.40 852.00)"><clipPath id="c23"><rect x="0" y="0" width="40.60" height="38.80" rx="2.4"/></clipPath><g clip-path="url(#c23)"><rect x="0" y="0" width="40.60" height="38.80" fill="url(#gl4)"/><rect x="9.60" y="0" width="21.00" height="38.80" fill="#d6d2ca" opacity="0.45"/><rect x="1.15" y="0.60" width="0.84" height="39.10" fill="#686562" opacity="0.49" transform="rotate(3.2 1.15 19.40)"/><rect x="24.13" y="2.77" width="0.62" height="34.01" fill="#686562" opacity="0.79" transform="rotate(-6.7 24.13 19.40)"/><rect x="29.87" y="0.30" width="0.73" height="34.36" fill="#686562" opacity="0.32" transform="rotate(-4.6 29.87 19.40)"/><rect x="22.05" y="2.44" width="1.57" height="31.66" fill="#686562" opacity="0.44" transform="rotate(0.0 22.05 19.40)"/><rect x="7.27" y="-0.02" width="1.03" height="34.23" fill="#686562" opacity="0.70" transform="rotate(0.0 7.27 19.40)"/><rect x="7.05" y="3.92" width="0.61" height="33.56" fill="#686562" opacity="0.32" transform="rotate(1.0 7.05 19.40)"/><rect x="14.58" y="2.29" width="0.82" height="35.70" fill="#686562" opacity="0.45" transform="rotate(0.0 14.58 19.40)"/><rect x="4.58" y="0.43" width="1.36" height="35.55" fill="#686562" opacity="0.65" transform="rotate(0.0 4.58 19.40)"/><rect x="35.50" y="-0.66" width="1.15" height="37.55" fill="#686562" opacity="0.77" transform="rotate(6.7 35.50 19.40)"/><rect x="1.39" y="3.83" width="1.39" height="29.33" fill="#686562" opacity="0.64" transform="rotate(0.0 1.39 19.40)"/><rect x="20.66" y="-1" width="1.88" height="40.80" fill="#f1efeb" opacity="0.74" transform="rotate(5.7 20.66 19.40)"/><rect x="14.55" y="-1" width="0.85" height="40.80" fill="#f1efeb" opacity="0.43" transform="rotate(-3.6 14.55 19.40)"/><rect x="35.59" y="-1" width="1.84" height="40.80" fill="#f1efeb" opacity="0.50" transform="rotate(0.3 35.59 19.40)"/><rect x="6.71" y="-1" width="1.31" height="40.80" fill="#f1efeb" opacity="0.77" transform="rotate(-0.9 6.71 19.40)"/><rect x="34.35" y="-1" width="1.18" height="40.80" fill="#f1efeb" opacity="0.55" transform="rotate(0.0 34.35 19.40)"/><rect x="31.06" y="-1" width="1.76" height="40.80" fill="#f1efeb" opacity="0.71" transform="rotate(2.3 31.06 19.40)"/><rect x="20.88" y="7.71" width="0.91" height="21.93" fill="#d9b56c" opacity="0.45" transform="rotate(-5.4 20.88 19.40)"/><rect x="0" y="0" width="1.6" height="38.80" fill="#e0deda" opacity="0.55"/><rect x="39.00" y="0" width="1.6" height="38.80" fill="#e0deda" opacity="0.5"/><rect x="0" y="0" width="40.60" height="38.80" fill="url(#shade)"/><rect x="15.00" y="3.69" width="10.20" height="17.07" rx="1.5" fill="#f3ecc4" opacity="0.55"/><rect x="16.60" y="5.24" width="7.00" height="13.97" rx="0.8" fill="url(#lamp)"/><rect x="11.20" y="5.04" width="2.4" height="12.80" fill="#f5efc2" opacity="0.95"/><rect x="13.90" y="19.40" width="12.40" height="9.31" fill="#c4beba" opacity="0.45"/><rect x="13.60" y="29.10" width="13.00" height="1.5" fill="#cfa85e" opacity="0.7"/><rect x="8.60" y="31.43" width="23.00" height="7.37" fill="#d9cfbd" opacity="0.45"/><rect x="11.10" y="33.76" width="18.00" height="1.1" fill="#c9a45e" opacity="0.45"/><rect x="0" y="35.80" width="40.60" height="3" fill="#f4f2ee" opacity="0.35"/></g><rect x="2.03" y="38.60" width="12.18" height="2.8" rx="1" fill="#ffffff" opacity="0.92"/><rect x="26.39" y="38.60" width="12.18" height="2.8" rx="1" fill="#ffffff" opacity="0.92"/><rect x="15.60" y="38.40" width="9.00" height="4.8" fill="#c8a663" opacity="0.6"/></g><g transform="translate(469.40 946.60) scale(1 -1)"><clipPath id="c24"><rect x="0" y="0" width="40.60" height="39.40" rx="2.4"/></clipPath><g clip-path="url(#c24)"><rect x="0" y="0" width="40.60" height="39.40" fill="url(#gl4)"/><rect x="9.60" y="0" width="21.00" height="39.40" fill="#d6d2ca" opacity="0.45"/><rect x="8.82" y="3.24" width="0.68" height="30.17" fill="#686562" opacity="0.38" transform="rotate(0.0 8.82 19.70)"/><rect x="31.22" y="3.33" width="0.81" height="32.63" fill="#686562" opacity="0.76" transform="rotate(-0.5 31.22 19.70)"/><rect x="1.57" y="3.09" width="0.69" height="33.81" fill="#686562" opacity="0.55" transform="rotate(0.0 1.57 19.70)"/><rect x="38.41" y="3.09" width="1.26" height="30.59" fill="#686562" opacity="0.43" transform="rotate(0.0 38.41 19.70)"/><rect x="3.34" y="1.03" width="1.21" height="34.17" fill="#686562" opacity="0.63" transform="rotate(-4.0 3.34 19.70)"/><rect x="12.34" y="1.94" width="0.77" height="36.47" fill="#686562" opacity="0.60" transform="rotate(4.9 12.34 19.70)"/><rect x="3.00" y="3.70" width="1.22" height="33.37" fill="#686562" opacity="0.46" transform="rotate(1.5 3.00 19.70)"/><rect x="10.38" y="-0.49" width="1.06" height="39.94" fill="#686562" opacity="0.41" transform="rotate(0.0 10.38 19.70)"/><rect x="12.44" y="-0.60" width="1.10" height="38.46" fill="#686562" opacity="0.42" transform="rotate(-2.7 12.44 19.70)"/><rect x="12.91" y="1.05" width="1.35" height="33.15" fill="#686562" opacity="0.67" transform="rotate(0.0 12.91 19.70)"/><rect x="34.98" y="1.63" width="0.54" height="33.26" fill="#686562" opacity="0.74" transform="rotate(0.0 34.98 19.70)"/><rect x="3.69" y="-1" width="0.71" height="41.40" fill="#f1efeb" opacity="0.55" transform="rotate(-1.5 3.69 19.70)"/><rect x="19.10" y="-1" width="1.28" height="41.40" fill="#f1efeb" opacity="0.78" transform="rotate(0.0 19.10 19.70)"/><rect x="10.95" y="-1" width="1.08" height="41.40" fill="#f1efeb" opacity="0.47" transform="rotate(0.0 10.95 19.70)"/><rect x="2.70" y="-1" width="1.35" height="41.40" fill="#f1efeb" opacity="0.76" transform="rotate(0.0 2.70 19.70)"/><rect x="35.26" y="-1" width="0.62" height="41.40" fill="#f1efeb" opacity="0.69" transform="rotate(-1.3 35.26 19.70)"/><rect x="11.31" y="-1" width="1.19" height="41.40" fill="#f1efeb" opacity="0.70" transform="rotate(4.5 11.31 19.70)"/><rect x="0.62" y="-1" width="1.78" height="41.40" fill="#f1efeb" opacity="0.62" transform="rotate(0.0 0.62 19.70)"/><rect x="29.15" y="13.62" width="1.07" height="22.65" fill="#d9b56c" opacity="0.35" transform="rotate(-0.7 29.15 19.70)"/><rect x="0" y="0" width="1.6" height="39.40" fill="#e0deda" opacity="0.55"/><rect x="39.00" y="0" width="1.6" height="39.40" fill="#e0deda" opacity="0.5"/><rect x="0" y="0" width="40.60" height="39.40" fill="url(#shade)"/><rect x="15.00" y="3.74" width="10.20" height="17.34" rx="1.5" fill="#f3ecc4" opacity="0.55"/><rect x="16.60" y="5.32" width="7.00" height="14.18" rx="0.8" fill="url(#lamp)"/><rect x="11.20" y="5.12" width="2.4" height="13.00" fill="#f5efc2" opacity="0.95"/><rect x="13.90" y="19.70" width="12.40" height="9.46" fill="#c4beba" opacity="0.45"/><rect x="13.60" y="29.55" width="13.00" height="1.5" fill="#cfa85e" opacity="0.7"/><rect x="8.60" y="31.91" width="23.00" height="7.49" fill="#d9cfbd" opacity="0.45"/><rect x="11.10" y="34.28" width="18.00" height="1.1" fill="#c9a45e" opacity="0.45"/><rect x="0" y="36.40" width="40.60" height="3" fill="#f4f2ee" opacity="0.35"/></g><rect x="2.03" y="39.20" width="12.18" height="2.8" rx="1" fill="#ffffff" opacity="0.92"/><rect x="26.39" y="39.20" width="12.18" height="2.8" rx="1" fill="#ffffff" opacity="0.92"/><rect x="15.60" y="39.00" width="9.00" height="4.8" fill="#c8a663" opacity="0.6"/></g><g transform="translate(508.00 852.00)"><clipPath id="c25"><rect x="0" y="0" width="39.20" height="38.80" rx="2.4"/></clipPath><g clip-path="url(#c25)"><rect x="0" y="0" width="39.20" height="38.80" fill="url(#gl5)"/><rect x="10.20" y="0" width="21.00" height="38.80" fill="#d6d2ca" opacity="0.45"/><rect x="8.36" y="0.53" width="1.46" height="37.12" fill="#686562" opacity="0.62" transform="rotate(6.3 8.36 19.40)"/><rect x="1.46" y="3.95" width="1.06" height="34.58" fill="#686562" opacity="0.70" transform="rotate(0.0 1.46 19.40)"/><rect x="1.30" y="2.71" width="1.16" height="36.58" fill="#686562" opacity="0.48" transform="rotate(2.5 1.30 19.40)"/><rect x="5.40" y="3.63" width="1.10" height="30.13" fill="#686562" opacity="0.34" transform="rotate(0.0 5.40 19.40)"/><rect x="35.82" y="1.45" width="0.56" height="32.65" fill="#686562" opacity="0.71" transform="rotate(-6.3 35.82 19.40)"/><rect x="34.08" y="0.12" width="1.54" height="35.23" fill="#686562" opacity="0.72" transform="rotate(-3.7 34.08 19.40)"/><rect x="5.46" y="0.26" width="1.52" height="35.12" fill="#686562" opacity="0.74" transform="rotate(0.0 5.46 19.40)"/><rect x="33.40" y="1.98" width="1.37" height="34.56" fill="#686562" opacity="0.56" transform="rotate(-1.9 33.40 19.40)"/><rect x="36.91" y="2.40" width="0.96" height="33.13" fill="#686562" opacity="0.70" transform="rotate(0.0 36.91 19.40)"/><rect x="8.92" y="3.87" width="0.52" height="31.79" fill="#686562" opacity="0.67" transform="rotate(-5.4 8.92 19.40)"/><rect x="1.69" y="0.63" width="1.07" height="32.60" fill="#686562" opacity="0.38" transform="rotate(0.0 1.69 19.40)"/><rect x="22.60" y="-1" width="0.70" height="40.80" fill="#f1efeb" opacity="0.58" transform="rotate(0.0 22.60 19.40)"/><rect x="25.82" y="-1" width="0.80" height="40.80" fill="#f1efeb" opacity="0.57" transform="rotate(-4.9 25.82 19.40)"/><rect x="21.91" y="-1" width="1.50" height="40.80" fill="#f1efeb" opacity="0.50" transform="rotate(0.0 21.91 19.40)"/><rect x="31.65" y="-1" width="1.76" height="40.80" fill="#f1efeb" opacity="0.48" transform="rotate(4.9 31.65 19.40)"/><rect x="12.18" y="-1" width="0.82" height="40.80" fill="#f1efeb" opacity="0.76" transform="rotate(2.6 12.18 19.40)"/><rect x="25.45" y="-1" width="0.98" height="40.80" fill="#f1efeb" opacity="0.61" transform="rotate(3.7 25.45 19.40)"/><rect x="10.42" y="2.69" width="0.81" height="21.91" fill="#d9b56c" opacity="0.31" transform="rotate(-2.3 10.42 19.40)"/><rect x="32.47" y="2.87" width="1.12" height="14.97" fill="#d9b56c" opacity="0.55" transform="rotate(5.3 32.47 19.40)"/><rect x="0" y="0" width="1.6" height="38.80" fill="#e0deda" opacity="0.55"/><rect x="37.60" y="0" width="1.6" height="38.80" fill="#e0deda" opacity="0.5"/><rect x="0" y="0" width="39.20" height="38.80" fill="url(#shade)"/><rect x="12.85" y="3.69" width="15.70" height="17.07" rx="1.5" fill="#f3ecc4" opacity="0.55"/><rect x="14.45" y="5.24" width="12.50" height="13.97" rx="0.8" fill="url(#lamp)"/><rect x="14.50" y="19.40" width="12.40" height="9.31" fill="#c4beba" opacity="0.45"/><rect x="14.20" y="29.10" width="13.00" height="1.5" fill="#cfa85e" opacity="0.7"/><rect x="9.20" y="31.43" width="23.00" height="7.37" fill="#d9cfbd" opacity="0.45"/><rect x="11.70" y="33.76" width="18.00" height="1.1" fill="#c9a45e" opacity="0.45"/><rect x="0" y="35.80" width="39.20" height="3" fill="#f4f2ee" opacity="0.35"/></g><rect x="1.96" y="38.60" width="11.76" height="2.8" rx="1" fill="#ffffff" opacity="0.92"/><rect x="25.48" y="38.60" width="11.76" height="2.8" rx="1" fill="#ffffff" opacity="0.92"/><rect x="16.20" y="38.40" width="9.00" height="4.8" fill="#c8a663" opacity="0.6"/></g><g transform="translate(508.00 946.60) scale(1 -1)"><clipPath id="c26"><rect x="0" y="0" width="39.20" height="39.40" rx="2.4"/></clipPath><g clip-path="url(#c26)"><rect x="0" y="0" width="39.20" height="39.40" fill="url(#gl5)"/><rect x="10.20" y="0" width="21.00" height="39.40" fill="#d6d2ca" opacity="0.45"/><rect x="37.00" y="4.72" width="0.55" height="28.77" fill="#686562" opacity="0.64" transform="rotate(1.9 37.00 19.70)"/><rect x="6.55" y="1.90" width="1.23" height="33.14" fill="#686562" opacity="0.73" transform="rotate(-4.0 6.55 19.70)"/><rect x="33.32" y="1.79" width="1.43" height="34.01" fill="#686562" opacity="0.57" transform="rotate(2.0 33.32 19.70)"/><rect x="5.63" y="4.20" width="0.56" height="31.95" fill="#686562" opacity="0.78" transform="rotate(1.7 5.63 19.70)"/><rect x="6.22" y="-0.72" width="0.61" height="39.59" fill="#686562" opacity="0.36" transform="rotate(3.9 6.22 19.70)"/><rect x="22.38" y="-0.73" width="1.50" height="38.19" fill="#686562" opacity="0.73" transform="rotate(-1.3 22.38 19.70)"/><rect x="3.21" y="3.85" width="1.56" height="32.32" fill="#686562" opacity="0.64" transform="rotate(5.3 3.21 19.70)"/><rect x="35.70" y="3.27" width="1.25" height="30.37" fill="#686562" opacity="0.52" transform="rotate(1.4 35.70 19.70)"/><rect x="6.08" y="4.67" width="0.51" height="30.92" fill="#686562" opacity="0.36" transform="rotate(0.0 6.08 19.70)"/><rect x="1.51" y="-1" width="0.84" height="41.40" fill="#f1efeb" opacity="0.67" transform="rotate(0.0 1.51 19.70)"/><rect x="29.71" y="-1" width="0.66" height="41.40" fill="#f1efeb" opacity="0.84" transform="rotate(-2.5 29.71 19.70)"/><rect x="33.02" y="-1" width="0.69" height="41.40" fill="#f1efeb" opacity="0.79" transform="rotate(0.0 33.02 19.70)"/><rect x="31.04" y="-1" width="1.79" height="41.40" fill="#f1efeb" opacity="0.65" transform="rotate(0.0 31.04 19.70)"/><rect x="10.37" y="-1" width="1.67" height="41.40" fill="#f1efeb" opacity="0.54" transform="rotate(0.0 10.37 19.70)"/><rect x="26.52" y="-1" width="0.64" height="41.40" fill="#f1efeb" opacity="0.45" transform="rotate(-3.1 26.52 19.70)"/><rect x="8.83" y="-1" width="1.69" height="41.40" fill="#f1efeb" opacity="0.63" transform="rotate(1.5 8.83 19.70)"/><rect x="25.23" y="9.07" width="1.16" height="21.00" fill="#d9b56c" opacity="0.53" transform="rotate(-5.5 25.23 19.70)"/><rect x="6.78" y="5.31" width="0.75" height="16.56" fill="#d9b56c" opacity="0.41" transform="rotate(-3.4 6.78 19.70)"/><rect x="0" y="0" width="1.6" height="39.40" fill="#e0deda" opacity="0.55"/><rect x="37.60" y="0" width="1.6" height="39.40" fill="#e0deda" opacity="0.5"/><rect x="0" y="0" width="39.20" height="39.40" fill="url(#shade)"/><rect x="12.85" y="3.74" width="15.70" height="17.34" rx="1.5" fill="#f3ecc4" opacity="0.55"/><rect x="14.45" y="5.32" width="12.50" height="14.18" rx="0.8" fill="url(#lamp)"/><rect x="14.50" y="19.70" width="12.40" height="9.46" fill="#c4beba" opacity="0.45"/><rect x="14.20" y="29.55" width="13.00" height="1.5" fill="#cfa85e" opacity="0.7"/><rect x="9.20" y="31.91" width="23.00" height="7.49" fill="#d9cfbd" opacity="0.45"/><rect x="11.70" y="34.28" width="18.00" height="1.1" fill="#c9a45e" opacity="0.45"/><rect x="0" y="36.40" width="39.20" height="3" fill="#f4f2ee" opacity="0.35"/></g><rect x="1.96" y="39.20" width="11.76" height="2.8" rx="1" fill="#ffffff" opacity="0.92"/><rect x="25.48" y="39.20" width="11.76" height="2.8" rx="1" fill="#ffffff" opacity="0.92"/><rect x="16.20" y="39.00" width="9.00" height="4.8" fill="#c8a663" opacity="0.6"/></g><g transform="translate(579.50 852.00)"><clipPath id="c27"><rect x="0" y="0" width="40.40" height="38.80" rx="2.4"/></clipPath><g clip-path="url(#c27)"><rect x="0" y="0" width="40.40" height="38.80" fill="url(#gl0)"/><rect x="10.00" y="0" width="21.00" height="38.80" fill="#d6d2ca" opacity="0.45"/><rect x="36.77" y="1.00" width="0.72" height="36.19" fill="#686562" opacity="0.33" transform="rotate(0.0 36.77 19.40)"/><rect x="31.38" y="4.51" width="0.70" height="31.28" fill="#686562" opacity="0.75" transform="rotate(-6.0 31.38 19.40)"/><rect x="3.48" y="2.95" width="1.42" height="29.91" fill="#686562" opacity="0.69" transform="rotate(0.0 3.48 19.40)"/><rect x="0.96" y="1.03" width="1.57" height="34.22" fill="#686562" opacity="0.62" transform="rotate(1.6 0.96 19.40)"/><rect x="27.19" y="3.50" width="1.08" height="29.78" fill="#686562" opacity="0.35" transform="rotate(-2.8 27.19 19.40)"/><rect x="29.90" y="0.59" width="1.08" height="32.23" fill="#686562" opacity="0.39" transform="rotate(0.0 29.90 19.40)"/><rect x="7.05" y="1.08" width="1.57" height="34.70" fill="#686562" opacity="0.31" transform="rotate(0.0 7.05 19.40)"/><rect x="36.32" y="4.27" width="0.51" height="35.10" fill="#686562" opacity="0.38" transform="rotate(-0.2 36.32 19.40)"/><rect x="9.95" y="1.01" width="0.73" height="33.45" fill="#686562" opacity="0.67" transform="rotate(0.0 9.95 19.40)"/><rect x="15.40" y="3.17" width="1.20" height="36.05" fill="#686562" opacity="0.45" transform="rotate(0.0 15.40 19.40)"/><rect x="27.35" y="4.37" width="0.74" height="30.64" fill="#686562" opacity="0.69" transform="rotate(0.0 27.35 19.40)"/><rect x="0.45" y="-1" width="0.67" height="40.80" fill="#f1efeb" opacity="0.76" transform="rotate(1.4 0.45 19.40)"/><rect x="3.95" y="-1" width="1.33" height="40.80" fill="#f1efeb" opacity="0.58" transform="rotate(-6.0 3.95 19.40)"/><rect x="33.98" y="-1" width="1.70" height="40.80" fill="#f1efeb" opacity="0.73" transform="rotate(0.0 33.98 19.40)"/><rect x="8.83" y="-1" width="0.85" height="40.80" fill="#f1efeb" opacity="0.78" transform="rotate(-1.4 8.83 19.40)"/><rect x="33.39" y="-1" width="1.05" height="40.80" fill="#f1efeb" opacity="0.85" transform="rotate(4.2 33.39 19.40)"/><rect x="11.37" y="-1" width="0.78" height="40.80" fill="#f1efeb" opacity="0.61" transform="rotate(0.0 11.37 19.40)"/><rect x="4.15" y="-1" width="1.37" height="40.80" fill="#f1efeb" opacity="0.79" transform="rotate(-0.1 4.15 19.40)"/><rect x="12.04" y="-1" width="1.21" height="40.80" fill="#f1efeb" opacity="0.77" transform="rotate(-2.4 12.04 19.40)"/><rect x="19.52" y="12.94" width="1.20" height="16.80" fill="#d9b56c" opacity="0.44" transform="rotate(-5.3 19.52 19.40)"/><rect x="0" y="0" width="1.6" height="38.80" fill="#e0deda" opacity="0.55"/><rect x="38.80" y="0" width="1.6" height="38.80" fill="#e0deda" opacity="0.5"/><rect x="0" y="0" width="40.40" height="38.80" fill="url(#shade)"/><rect x="15.60" y="3.69" width="9.80" height="17.07" rx="1.5" fill="#f3ecc4" opacity="0.55"/><rect x="17.20" y="5.24" width="6.60" height="13.97" rx="0.8" fill="url(#lamp)"/><rect x="28.00" y="5.04" width="2.4" height="12.80" fill="#f5efc2" opacity="0.95"/><rect x="14.30" y="19.40" width="12.40" height="9.31" fill="#c4beba" opacity="0.45"/><rect x="14.00" y="29.10" width="13.00" height="1.5" fill="#cfa85e" opacity="0.7"/><rect x="9.00" y="31.43" width="23.00" height="7.37" fill="#d9cfbd" opacity="0.45"/><rect x="11.50" y="33.76" width="18.00" height="1.1" fill="#c9a45e" opacity="0.45"/><rect x="0" y="35.80" width="40.40" height="3" fill="#f4f2ee" opacity="0.35"/></g><rect x="2.02" y="38.60" width="12.12" height="2.8" rx="1" fill="#ffffff" opacity="0.92"/><rect x="26.26" y="38.60" width="12.12" height="2.8" rx="1" fill="#ffffff" opacity="0.92"/><rect x="16.00" y="38.40" width="9.00" height="4.8" fill="#c8a663" opacity="0.6"/></g><g transform="translate(579.50 946.60) scale(1 -1)"><clipPath id="c28"><rect x="0" y="0" width="40.40" height="39.40" rx="2.4"/></clipPath><g clip-path="url(#c28)"><rect x="0" y="0" width="40.40" height="39.40" fill="url(#gl0)"/><rect x="10.00" y="0" width="21.00" height="39.40" fill="#d6d2ca" opacity="0.45"/><rect x="34.31" y="2.64" width="0.73" height="36.35" fill="#686562" opacity="0.37" transform="rotate(6.4 34.31 19.70)"/><rect x="6.13" y="3.78" width="0.69" height="32.33" fill="#686562" opacity="0.77" transform="rotate(3.1 6.13 19.70)"/><rect x="35.28" y="0.71" width="0.99" height="34.97" fill="#686562" opacity="0.40" transform="rotate(0.0 35.28 19.70)"/><rect x="3.48" y="2.46" width="1.09" height="31.74" fill="#686562" opacity="0.76" transform="rotate(0.0 3.48 19.70)"/><rect x="8.16" y="1.93" width="0.58" height="37.35" fill="#686562" opacity="0.51" transform="rotate(0.0 8.16 19.70)"/><rect x="30.72" y="0.38" width="1.42" height="37.86" fill="#686562" opacity="0.49" transform="rotate(2.4 30.72 19.70)"/><rect x="7.67" y="3.57" width="0.72" height="34.04" fill="#686562" opacity="0.76" transform="rotate(2.4 7.67 19.70)"/><rect x="19.42" y="1.56" width="1.30" height="34.14" fill="#686562" opacity="0.56" transform="rotate(-0.7 19.42 19.70)"/><rect x="9.46" y="-1" width="1.73" height="41.40" fill="#f1efeb" opacity="0.53" transform="rotate(5.6 9.46 19.70)"/><rect x="0.87" y="-1" width="1.13" height="41.40" fill="#f1efeb" opacity="0.65" transform="rotate(4.0 0.87 19.70)"/><rect x="25.62" y="-1" width="1.26" height="41.40" fill="#f1efeb" opacity="0.40" transform="rotate(0.0 25.62 19.70)"/><rect x="14.04" y="-1" width="1.07" height="41.40" fill="#f1efeb" opacity="0.50" transform="rotate(-4.8 14.04 19.70)"/><rect x="5.24" y="-1" width="1.47" height="41.40" fill="#f1efeb" opacity="0.53" transform="rotate(0.0 5.24 19.70)"/><rect x="24.84" y="-1" width="0.69" height="41.40" fill="#f1efeb" opacity="0.74" transform="rotate(3.7 24.84 19.70)"/><rect x="33.68" y="-1" width="1.19" height="41.40" fill="#f1efeb" opacity="0.54" transform="rotate(0.0 33.68 19.70)"/><rect x="15.79" y="7.49" width="1.19" height="17.04" fill="#d9b56c" opacity="0.50" transform="rotate(-1.9 15.79 19.70)"/><rect x="21.81" y="9.14" width="1.07" height="22.08" fill="#d9b56c" opacity="0.52" transform="rotate(3.4 21.81 19.70)"/><rect x="0" y="0" width="1.6" height="39.40" fill="#e0deda" opacity="0.55"/><rect x="38.80" y="0" width="1.6" height="39.40" fill="#e0deda" opacity="0.5"/><rect x="0" y="0" width="40.40" height="39.40" fill="url(#shade)"/><rect x="15.60" y="3.74" width="9.80" height="17.34" rx="1.5" fill="#f3ecc4" opacity="0.55"/><rect x="17.20" y="5.32" width="6.60" height="14.18" rx="0.8" fill="url(#lamp)"/><rect x="28.00" y="5.12" width="2.4" height="13.00" fill="#f5efc2" opacity="0.95"/><rect x="14.30" y="19.70" width="12.40" height="9.46" fill="#c4beba" opacity="0.45"/><rect x="14.00" y="29.55" width="13.00" height="1.5" fill="#cfa85e" opacity="0.7"/><rect x="9.00" y="31.91" width="23.00" height="7.49" fill="#d9cfbd" opacity="0.45"/><rect x="11.50" y="34.28" width="18.00" height="1.1" fill="#c9a45e" opacity="0.45"/><rect x="0" y="36.40" width="40.40" height="3" fill="#f4f2ee" opacity="0.35"/></g><rect x="2.02" y="39.20" width="12.12" height="2.8" rx="1" fill="#ffffff" opacity="0.92"/><rect x="26.26" y="39.20" width="12.12" height="2.8" rx="1" fill="#ffffff" opacity="0.92"/><rect x="16.00" y="39.00" width="9.00" height="4.8" fill="#c8a663" opacity="0.6"/></g><g transform="translate(673.40 852.00)"><clipPath id="c29"><rect x="0" y="0" width="35.90" height="38.80" rx="2.4"/></clipPath><g clip-path="url(#c29)"><rect x="0" y="0" width="35.90" height="38.80" fill="url(#gl1)"/><rect x="6.85" y="0" width="21.00" height="38.80" fill="#d6d2ca" opacity="0.45"/><rect x="33.60" y="0.35" width="0.96" height="37.00" fill="#686562" opacity="0.79" transform="rotate(-0.8 33.60 19.40)"/><rect x="33.86" y="1.68" width="0.86" height="36.92" fill="#686562" opacity="0.60" transform="rotate(3.2 33.86 19.40)"/><rect x="4.03" y="3.91" width="1.10" height="29.18" fill="#686562" opacity="0.51" transform="rotate(3.5 4.03 19.40)"/><rect x="30.99" y="-0.40" width="0.94" height="33.64" fill="#686562" opacity="0.61" transform="rotate(0.0 30.99 19.40)"/><rect x="1.17" y="1.56" width="1.11" height="36.28" fill="#686562" opacity="0.38" transform="rotate(0.0 1.17 19.40)"/><rect x="3.82" y="1.39" width="1.24" height="35.51" fill="#686562" opacity="0.31" transform="rotate(0.0 3.82 19.40)"/><rect x="1.79" y="2.77" width="1.30" height="30.86" fill="#686562" opacity="0.68" transform="rotate(-6.9 1.79 19.40)"/><rect x="32.19" y="0.38" width="1.07" height="39.22" fill="#686562" opacity="0.30" transform="rotate(-0.7 32.19 19.40)"/><rect x="6.68" y="-1" width="1.25" height="40.80" fill="#f1efeb" opacity="0.46" transform="rotate(-4.0 6.68 19.40)"/><rect x="1.42" y="-1" width="1.62" height="40.80" fill="#f1efeb" opacity="0.79" transform="rotate(1.6 1.42 19.40)"/><rect x="29.30" y="-1" width="0.92" height="40.80" fill="#f1efeb" opacity="0.55" transform="rotate(0.0 29.30 19.40)"/><rect x="25.52" y="-1" width="1.41" height="40.80" fill="#f1efeb" opacity="0.76" transform="rotate(0.0 25.52 19.40)"/><rect x="10.72" y="-1" width="1.49" height="40.80" fill="#f1efeb" opacity="0.75" transform="rotate(-2.1 10.72 19.40)"/><rect x="10.04" y="-1" width="1.75" height="40.80" fill="#f1efeb" opacity="0.53" transform="rotate(0.0 10.04 19.40)"/><rect x="14.69" y="-1" width="1.09" height="40.80" fill="#f1efeb" opacity="0.62" transform="rotate(0.0 14.69 19.40)"/><rect x="22.09" y="-1" width="1.11" height="40.80" fill="#f1efeb" opacity="0.47" transform="rotate(-0.3 22.09 19.40)"/><rect x="11.71" y="14.71" width="1.34" height="17.88" fill="#d9b56c" opacity="0.36" transform="rotate(-3.2 11.71 19.40)"/><rect x="0" y="0" width="1.6" height="38.80" fill="#e0deda" opacity="0.55"/><rect x="34.30" y="0" width="1.6" height="38.80" fill="#e0deda" opacity="0.5"/><rect x="0" y="0" width="35.90" height="38.80" fill="url(#shade)"/><rect x="9.55" y="3.69" width="15.60" height="17.07" rx="1.5" fill="#f3ecc4" opacity="0.55"/><rect x="11.15" y="5.24" width="12.40" height="13.97" rx="0.8" fill="url(#lamp)"/><rect x="11.15" y="19.40" width="12.40" height="9.31" fill="#c4beba" opacity="0.45"/><rect x="10.85" y="29.10" width="13.00" height="1.5" fill="#cfa85e" opacity="0.7"/><rect x="5.85" y="31.43" width="23.00" height="7.37" fill="#d9cfbd" opacity="0.45"/><rect x="8.35" y="33.76" width="18.00" height="1.1" fill="#c9a45e" opacity="0.45"/><rect x="0" y="35.80" width="35.90" height="3" fill="#f4f2ee" opacity="0.35"/></g><rect x="1.79" y="38.60" width="10.77" height="2.8" rx="1" fill="#ffffff" opacity="0.92"/><rect x="23.34" y="38.60" width="10.77" height="2.8" rx="1" fill="#ffffff" opacity="0.92"/><rect x="12.85" y="38.40" width="9.00" height="4.8" fill="#c8a663" opacity="0.6"/></g><g transform="translate(673.40 946.60) scale(1 -1)"><clipPath id="c30"><rect x="0" y="0" width="35.90" height="39.40" rx="2.4"/></clipPath><g clip-path="url(#c30)"><rect x="0" y="0" width="35.90" height="39.40" fill="url(#gl1)"/><rect x="6.85" y="0" width="21.00" height="39.40" fill="#d6d2ca" opacity="0.45"/><rect x="29.95" y="4.96" width="1.21" height="33.75" fill="#686562" opacity="0.79" transform="rotate(6.9 29.95 19.70)"/><rect x="2.93" y="4.50" width="0.68" height="29.09" fill="#686562" opacity="0.72" transform="rotate(0.0 2.93 19.70)"/><rect x="29.85" y="2.83" width="1.34" height="31.30" fill="#686562" opacity="0.58" transform="rotate(0.0 29.85 19.70)"/><rect x="4.23" y="4.26" width="1.04" height="34.37" fill="#686562" opacity="0.45" transform="rotate(0.0 4.23 19.70)"/><rect x="3.18" y="1.46" width="0.77" height="33.69" fill="#686562" opacity="0.46" transform="rotate(0.0 3.18 19.70)"/><rect x="32.43" y="4.62" width="1.45" height="29.16" fill="#686562" opacity="0.77" transform="rotate(-6.0 32.43 19.70)"/><rect x="30.80" y="0.12" width="1.48" height="38.28" fill="#686562" opacity="0.74" transform="rotate(-4.4 30.80 19.70)"/><rect x="22.73" y="3.89" width="1.02" height="34.41" fill="#686562" opacity="0.77" transform="rotate(0.0 22.73 19.70)"/><rect x="32.50" y="3.99" width="1.23" height="33.11" fill="#686562" opacity="0.76" transform="rotate(4.4 32.50 19.70)"/><rect x="30.98" y="2.37" width="0.52" height="33.96" fill="#686562" opacity="0.39" transform="rotate(0.0 30.98 19.70)"/><rect x="30.76" y="-1" width="1.70" height="41.40" fill="#f1efeb" opacity="0.73" transform="rotate(0.0 30.76 19.70)"/><rect x="17.90" y="-1" width="1.51" height="41.40" fill="#f1efeb" opacity="0.70" transform="rotate(1.1 17.90 19.70)"/><rect x="20.55" y="-1" width="1.08" height="41.40" fill="#f1efeb" opacity="0.60" transform="rotate(0.0 20.55 19.70)"/><rect x="4.71" y="-1" width="1.80" height="41.40" fill="#f1efeb" opacity="0.64" transform="rotate(0.0 4.71 19.70)"/><rect x="11.30" y="-1" width="0.63" height="41.40" fill="#f1efeb" opacity="0.58" transform="rotate(0.0 11.30 19.70)"/><rect x="0.41" y="-1" width="1.87" height="41.40" fill="#f1efeb" opacity="0.83" transform="rotate(-3.0 0.41 19.70)"/><rect x="24.73" y="12.58" width="1.13" height="22.68" fill="#d9b56c" opacity="0.39" transform="rotate(-0.3 24.73 19.70)"/><rect x="15.38" y="3.36" width="1.04" height="21.30" fill="#d9b56c" opacity="0.44" transform="rotate(-3.9 15.38 19.70)"/><rect x="0" y="0" width="1.6" height="39.40" fill="#e0deda" opacity="0.55"/><rect x="34.30" y="0" width="1.6" height="39.40" fill="#e0deda" opacity="0.5"/><rect x="0" y="0" width="35.90" height="39.40" fill="url(#shade)"/><rect x="9.55" y="3.74" width="15.60" height="17.34" rx="1.5" fill="#f3ecc4" opacity="0.55"/><rect x="11.15" y="5.32" width="12.40" height="14.18" rx="0.8" fill="url(#lamp)"/><rect x="11.15" y="19.70" width="12.40" height="9.46" fill="#c4beba" opacity="0.45"/><rect x="10.85" y="29.55" width="13.00" height="1.5" fill="#cfa85e" opacity="0.7"/><rect x="5.85" y="31.91" width="23.00" height="7.49" fill="#d9cfbd" opacity="0.45"/><rect x="8.35" y="34.28" width="18.00" height="1.1" fill="#c9a45e" opacity="0.45"/><rect x="0" y="36.40" width="35.90" height="3" fill="#f4f2ee" opacity="0.35"/></g><rect x="1.79" y="39.20" width="10.77" height="2.8" rx="1" fill="#ffffff" opacity="0.92"/><rect x="23.34" y="39.20" width="10.77" height="2.8" rx="1" fill="#ffffff" opacity="0.92"/><rect x="12.85" y="39.00" width="9.00" height="4.8" fill="#c8a663" opacity="0.6"/></g><g transform="translate(767.00 852.00)"><clipPath id="c31"><rect x="0" y="0" width="39.40" height="38.80" rx="2.4"/></clipPath><g clip-path="url(#c31)"><rect x="0" y="0" width="39.40" height="38.80" fill="url(#gl2)"/><rect x="8.50" y="0" width="21.00" height="38.80" fill="#d6d2ca" opacity="0.45"/><rect x="4.65" y="0.39" width="0.93" height="34.11" fill="#686562" opacity="0.64" transform="rotate(-5.4 4.65 19.40)"/><rect x="5.94" y="1.69" width="1.31" height="35.23" fill="#686562" opacity="0.63" transform="rotate(0.5 5.94 19.40)"/><rect x="37.27" y="1.42" width="0.60" height="36.99" fill="#686562" opacity="0.31" transform="rotate(0.0 37.27 19.40)"/><rect x="12.69" y="2.51" width="0.90" height="33.46" fill="#686562" opacity="0.78" transform="rotate(-4.0 12.69 19.40)"/><rect x="35.69" y="4.93" width="1.42" height="34.65" fill="#686562" opacity="0.48" transform="rotate(4.7 35.69 19.40)"/><rect x="27.62" y="3.38" width="1.46" height="35.06" fill="#686562" opacity="0.63" transform="rotate(4.2 27.62 19.40)"/><rect x="30.23" y="0.90" width="1.13" height="37.41" fill="#686562" opacity="0.54" transform="rotate(0.0 30.23 19.40)"/><rect x="28.15" y="2.36" width="0.60" height="30.89" fill="#686562" opacity="0.69" transform="rotate(0.0 28.15 19.40)"/><rect x="30.98" y="-1" width="0.98" height="40.80" fill="#f1efeb" opacity="0.48" transform="rotate(3.5 30.98 19.40)"/><rect x="14.02" y="-1" width="1.84" height="40.80" fill="#f1efeb" opacity="0.70" transform="rotate(-2.3 14.02 19.40)"/><rect x="31.02" y="-1" width="1.75" height="40.80" fill="#f1efeb" opacity="0.45" transform="rotate(-2.0 31.02 19.40)"/><rect x="15.05" y="-1" width="0.66" height="40.80" fill="#f1efeb" opacity="0.72" transform="rotate(4.5 15.05 19.40)"/><rect x="23.62" y="-1" width="1.85" height="40.80" fill="#f1efeb" opacity="0.49" transform="rotate(5.9 23.62 19.40)"/><rect x="5.86" y="-1" width="0.68" height="40.80" fill="#f1efeb" opacity="0.68" transform="rotate(0.0 5.86 19.40)"/><rect x="31.79" y="-1" width="1.88" height="40.80" fill="#f1efeb" opacity="0.62" transform="rotate(0.0 31.79 19.40)"/><rect x="31.58" y="-1" width="1.23" height="40.80" fill="#f1efeb" opacity="0.76" transform="rotate(0.0 31.58 19.40)"/><rect x="18.51" y="-1" width="1.68" height="40.80" fill="#f1efeb" opacity="0.41" transform="rotate(3.4 18.51 19.40)"/><rect x="13.65" y="2.09" width="0.96" height="16.32" fill="#d9b56c" opacity="0.34" transform="rotate(-5.5 13.65 19.40)"/><rect x="6.17" y="13.69" width="0.73" height="19.54" fill="#d9b56c" opacity="0.35" transform="rotate(-3.7 6.17 19.40)"/><rect x="0" y="0" width="1.6" height="38.80" fill="#e0deda" opacity="0.55"/><rect x="37.80" y="0" width="1.6" height="38.80" fill="#e0deda" opacity="0.5"/><rect x="0" y="0" width="39.40" height="38.80" fill="url(#shade)"/><rect x="13.60" y="3.69" width="10.80" height="17.07" rx="1.5" fill="#f3ecc4" opacity="0.55"/><rect x="15.20" y="5.24" width="7.60" height="13.97" rx="0.8" fill="url(#lamp)"/><rect x="26.40" y="5.04" width="2.4" height="12.80" fill="#f5efc2" opacity="0.95"/><rect x="12.80" y="19.40" width="12.40" height="9.31" fill="#c4beba" opacity="0.45"/><rect x="12.50" y="29.10" width="13.00" height="1.5" fill="#cfa85e" opacity="0.7"/><rect x="7.50" y="31.43" width="23.00" height="7.37" fill="#d9cfbd" opacity="0.45"/><rect x="10.00" y="33.76" width="18.00" height="1.1" fill="#c9a45e" opacity="0.45"/><rect x="0" y="35.80" width="39.40" height="3" fill="#f4f2ee" opacity="0.35"/></g><rect x="1.97" y="38.60" width="11.82" height="2.8" rx="1" fill="#ffffff" opacity="0.92"/><rect x="25.61" y="38.60" width="11.82" height="2.8" rx="1" fill="#ffffff" opacity="0.92"/><rect x="14.50" y="38.40" width="9.00" height="4.8" fill="#c8a663" opacity="0.6"/></g><g transform="translate(767.00 946.60) scale(1 -1)"><clipPath id="c32"><rect x="0" y="0" width="39.40" height="39.40" rx="2.4"/></clipPath><g clip-path="url(#c32)"><rect x="0" y="0" width="39.40" height="39.40" fill="url(#gl2)"/><rect x="8.50" y="0" width="21.00" height="39.40" fill="#d6d2ca" opacity="0.45"/><rect x="5.84" y="0.95" width="1.27" height="37.14" fill="#686562" opacity="0.42" transform="rotate(-6.5 5.84 19.70)"/><rect x="2.61" y="2.25" width="1.26" height="32.67" fill="#686562" opacity="0.80" transform="rotate(1.4 2.61 19.70)"/><rect x="28.79" y="4.87" width="1.55" height="34.75" fill="#686562" opacity="0.40" transform="rotate(-5.3 28.79 19.70)"/><rect x="6.39" y="-0.02" width="0.52" height="38.25" fill="#686562" opacity="0.32" transform="rotate(-2.1 6.39 19.70)"/><rect x="34.77" y="2.41" width="0.68" height="33.96" fill="#686562" opacity="0.71" transform="rotate(0.0 34.77 19.70)"/><rect x="28.92" y="1.40" width="1.15" height="32.09" fill="#686562" opacity="0.41" transform="rotate(-3.6 28.92 19.70)"/><rect x="35.38" y="-0.21" width="0.68" height="38.79" fill="#686562" opacity="0.80" transform="rotate(0.0 35.38 19.70)"/><rect x="32.97" y="4.71" width="0.51" height="32.25" fill="#686562" opacity="0.78" transform="rotate(0.0 32.97 19.70)"/><rect x="35.23" y="-1" width="1.72" height="41.40" fill="#f1efeb" opacity="0.68" transform="rotate(0.0 35.23 19.70)"/><rect x="18.92" y="-1" width="0.89" height="41.40" fill="#f1efeb" opacity="0.57" transform="rotate(0.0 18.92 19.70)"/><rect x="7.45" y="-1" width="1.70" height="41.40" fill="#f1efeb" opacity="0.63" transform="rotate(0.0 7.45 19.70)"/><rect x="30.38" y="-1" width="1.44" height="41.40" fill="#f1efeb" opacity="0.46" transform="rotate(-6.0 30.38 19.70)"/><rect x="1.30" y="-1" width="1.84" height="41.40" fill="#f1efeb" opacity="0.67" transform="rotate(0.0 1.30 19.70)"/><rect x="28.87" y="-1" width="1.01" height="41.40" fill="#f1efeb" opacity="0.84" transform="rotate(0.0 28.87 19.70)"/><rect x="17.00" y="-1" width="0.71" height="41.40" fill="#f1efeb" opacity="0.54" transform="rotate(-1.6 17.00 19.70)"/><rect x="32.63" y="8.90" width="1.25" height="15.07" fill="#d9b56c" opacity="0.47" transform="rotate(-2.9 32.63 19.70)"/><rect x="0" y="0" width="1.6" height="39.40" fill="#e0deda" opacity="0.55"/><rect x="37.80" y="0" width="1.6" height="39.40" fill="#e0deda" opacity="0.5"/><rect x="0" y="0" width="39.40" height="39.40" fill="url(#shade)"/><rect x="13.60" y="3.74" width="10.80" height="17.34" rx="1.5" fill="#f3ecc4" opacity="0.55"/><rect x="15.20" y="5.32" width="7.60" height="14.18" rx="0.8" fill="url(#lamp)"/><rect x="26.40" y="5.12" width="2.4" height="13.00" fill="#f5efc2" opacity="0.95"/><rect x="12.80" y="19.70" width="12.40" height="9.46" fill="#c4beba" opacity="0.45"/><rect x="12.50" y="29.55" width="13.00" height="1.5" fill="#cfa85e" opacity="0.7"/><rect x="7.50" y="31.91" width="23.00" height="7.49" fill="#d9cfbd" opacity="0.45"/><rect x="10.00" y="34.28" width="18.00" height="1.1" fill="#c9a45e" opacity="0.45"/><rect x="0" y="36.40" width="39.40" height="3" fill="#f4f2ee" opacity="0.35"/></g><rect x="1.97" y="39.20" width="11.82" height="2.8" rx="1" fill="#ffffff" opacity="0.92"/><rect x="25.61" y="39.20" width="11.82" height="2.8" rx="1" fill="#ffffff" opacity="0.92"/><rect x="14.50" y="39.00" width="9.00" height="4.8" fill="#c8a663" opacity="0.6"/></g><g transform="translate(851.10 852.00)"><clipPath id="c33"><rect x="0" y="0" width="39.20" height="38.80" rx="2.4"/></clipPath><g clip-path="url(#c33)"><rect x="0" y="0" width="39.20" height="38.80" fill="url(#gl3)"/><rect x="10.20" y="0" width="21.00" height="38.80" fill="#d6d2ca" opacity="0.45"/><rect x="30.48" y="4.45" width="0.81" height="34.04" fill="#686562" opacity="0.63" transform="rotate(0.0 30.48 19.40)"/><rect x="36.90" y="0.81" width="0.99" height="36.83" fill="#686562" opacity="0.77" transform="rotate(0.0 36.90 19.40)"/><rect x="34.85" y="0.47" width="1.40" height="33.27" fill="#686562" opacity="0.44" transform="rotate(3.7 34.85 19.40)"/><rect x="12.22" y="-0.60" width="1.48" height="37.84" fill="#686562" opacity="0.80" transform="rotate(0.0 12.22 19.40)"/><rect x="31.15" y="-0.34" width="1.08" height="39.91" fill="#686562" opacity="0.45" transform="rotate(-4.4 31.15 19.40)"/><rect x="32.53" y="-0.28" width="1.32" height="37.87" fill="#686562" opacity="0.58" transform="rotate(-4.9 32.53 19.40)"/><rect x="2.61" y="1.75" width="0.80" height="34.74" fill="#686562" opacity="0.40" transform="rotate(2.2 2.61 19.40)"/><rect x="13.64" y="1.89" width="1.09" height="35.26" fill="#686562" opacity="0.69" transform="rotate(-6.0 13.64 19.40)"/><rect x="29.14" y="1.66" width="0.62" height="35.93" fill="#686562" opacity="0.74" transform="rotate(0.6 29.14 19.40)"/><rect x="32.66" y="-1" width="1.51" height="40.80" fill="#f1efeb" opacity="0.47" transform="rotate(1.3 32.66 19.40)"/><rect x="1.52" y="-1" width="0.71" height="40.80" fill="#f1efeb" opacity="0.67" transform="rotate(0.0 1.52 19.40)"/><rect x="17.14" y="-1" width="1.15" height="40.80" fill="#f1efeb" opacity="0.63" transform="rotate(4.5 17.14 19.40)"/><rect x="35.31" y="-1" width="1.23" height="40.80" fill="#f1efeb" opacity="0.41" transform="rotate(3.6 35.31 19.40)"/><rect x="12.13" y="-1" width="0.74" height="40.80" fill="#f1efeb" opacity="0.48" transform="rotate(0.0 12.13 19.40)"/><rect x="22.94" y="-1" width="0.97" height="40.80" fill="#f1efeb" opacity="0.68" transform="rotate(0.0 22.94 19.40)"/><rect x="35.47" y="-1" width="1.68" height="40.80" fill="#f1efeb" opacity="0.60" transform="rotate(0.0 35.47 19.40)"/><rect x="26.92" y="9.91" width="1.06" height="21.83" fill="#d9b56c" opacity="0.46" transform="rotate(2.7 26.92 19.40)"/><rect x="9.57" y="3.19" width="0.89" height="19.24" fill="#d9b56c" opacity="0.44" transform="rotate(-3.6 9.57 19.40)"/><rect x="0" y="0" width="1.6" height="38.80" fill="#e0deda" opacity="0.55"/><rect x="37.60" y="0" width="1.6" height="38.80" fill="#e0deda" opacity="0.5"/><rect x="0" y="0" width="39.20" height="38.80" fill="url(#shade)"/><rect x="15.30" y="3.69" width="10.80" height="17.07" rx="1.5" fill="#f3ecc4" opacity="0.55"/><rect x="16.90" y="5.24" width="7.60" height="13.97" rx="0.8" fill="url(#lamp)"/><rect x="14.50" y="19.40" width="12.40" height="9.31" fill="#c4beba" opacity="0.45"/><rect x="14.20" y="29.10" width="13.00" height="1.5" fill="#cfa85e" opacity="0.7"/><rect x="9.20" y="31.43" width="23.00" height="7.37" fill="#d9cfbd" opacity="0.45"/><rect x="11.70" y="33.76" width="18.00" height="1.1" fill="#c9a45e" opacity="0.45"/><rect x="0" y="35.80" width="39.20" height="3" fill="#f4f2ee" opacity="0.35"/></g><rect x="1.96" y="38.60" width="11.76" height="2.8" rx="1" fill="#ffffff" opacity="0.92"/><rect x="25.48" y="38.60" width="11.76" height="2.8" rx="1" fill="#ffffff" opacity="0.92"/><rect x="16.20" y="38.40" width="9.00" height="4.8" fill="#c8a663" opacity="0.6"/></g><g transform="translate(851.10 946.60) scale(1 -1)"><clipPath id="c34"><rect x="0" y="0" width="39.20" height="39.40" rx="2.4"/></clipPath><g clip-path="url(#c34)"><rect x="0" y="0" width="39.20" height="39.40" fill="url(#gl3)"/><rect x="10.20" y="0" width="21.00" height="39.40" fill="#d6d2ca" opacity="0.45"/><rect x="31.45" y="1.54" width="1.49" height="36.71" fill="#686562" opacity="0.74" transform="rotate(6.3 31.45 19.70)"/><rect x="3.97" y="3.66" width="1.06" height="31.47" fill="#686562" opacity="0.38" transform="rotate(1.5 3.97 19.70)"/><rect x="3.67" y="4.03" width="0.57" height="30.76" fill="#686562" opacity="0.43" transform="rotate(0.0 3.67 19.70)"/><rect x="34.77" y="0.24" width="1.15" height="36.42" fill="#686562" opacity="0.62" transform="rotate(-2.6 34.77 19.70)"/><rect x="5.44" y="-0.55" width="1.25" height="37.84" fill="#686562" opacity="0.36" transform="rotate(0.0 5.44 19.70)"/><rect x="12.01" y="-0.46" width="0.95" height="35.67" fill="#686562" opacity="0.69" transform="rotate(5.1 12.01 19.70)"/><rect x="36.48" y="0.40" width="0.96" height="37.92" fill="#686562" opacity="0.53" transform="rotate(-3.1 36.48 19.70)"/><rect x="3.01" y="0.36" width="0.83" height="33.43" fill="#686562" opacity="0.35" transform="rotate(-1.3 3.01 19.70)"/><rect x="11.86" y="4.79" width="1.08" height="31.34" fill="#686562" opacity="0.75" transform="rotate(0.0 11.86 19.70)"/><rect x="32.46" y="3.62" width="0.57" height="31.59" fill="#686562" opacity="0.67" transform="rotate(-2.5 32.46 19.70)"/><rect x="12.75" y="-1" width="1.07" height="41.40" fill="#f1efeb" opacity="0.53" transform="rotate(0.0 12.75 19.70)"/><rect x="22.68" y="-1" width="0.94" height="41.40" fill="#f1efeb" opacity="0.64" transform="rotate(-2.8 22.68 19.70)"/><rect x="18.55" y="-1" width="1.86" height="41.40" fill="#f1efeb" opacity="0.79" transform="rotate(0.0 18.55 19.70)"/><rect x="28.08" y="-1" width="0.93" height="41.40" fill="#f1efeb" opacity="0.71" transform="rotate(0.0 28.08 19.70)"/><rect x="5.91" y="-1" width="1.81" height="41.40" fill="#f1efeb" opacity="0.84" transform="rotate(3.8 5.91 19.70)"/><rect x="36.29" y="-1" width="0.79" height="41.40" fill="#f1efeb" opacity="0.61" transform="rotate(0.0 36.29 19.70)"/><rect x="10.83" y="12.34" width="1.19" height="22.24" fill="#d9b56c" opacity="0.48" transform="rotate(4.3 10.83 19.70)"/><rect x="0" y="0" width="1.6" height="39.40" fill="#e0deda" opacity="0.55"/><rect x="37.60" y="0" width="1.6" height="39.40" fill="#e0deda" opacity="0.5"/><rect x="0" y="0" width="39.20" height="39.40" fill="url(#shade)"/><rect x="15.30" y="3.74" width="10.80" height="17.34" rx="1.5" fill="#f3ecc4" opacity="0.55"/><rect x="16.90" y="5.32" width="7.60" height="14.18" rx="0.8" fill="url(#lamp)"/><rect x="14.50" y="19.70" width="12.40" height="9.46" fill="#c4beba" opacity="0.45"/><rect x="14.20" y="29.55" width="13.00" height="1.5" fill="#cfa85e" opacity="0.7"/><rect x="9.20" y="31.91" width="23.00" height="7.49" fill="#d9cfbd" opacity="0.45"/><rect x="11.70" y="34.28" width="18.00" height="1.1" fill="#c9a45e" opacity="0.45"/><rect x="0" y="36.40" width="39.20" height="3" fill="#f4f2ee" opacity="0.35"/></g><rect x="1.96" y="39.20" width="11.76" height="2.8" rx="1" fill="#ffffff" opacity="0.92"/><rect x="25.48" y="39.20" width="11.76" height="2.8" rx="1" fill="#ffffff" opacity="0.92"/><rect x="16.20" y="39.00" width="9.00" height="4.8" fill="#c8a663" opacity="0.6"/></g><g transform="translate(909.00 852.00)"><clipPath id="c35"><rect x="0" y="0" width="30.00" height="38.80" rx="2.4"/></clipPath><g clip-path="url(#c35)"><rect x="0" y="0" width="30.00" height="38.80" fill="url(#gl4)"/><rect x="8.30" y="0" width="21.00" height="38.80" fill="#d6d2ca" opacity="0.45"/><rect x="21.05" y="3.48" width="0.81" height="31.03" fill="#686562" opacity="0.78" transform="rotate(0.0 21.05 19.40)"/><rect x="2.81" y="1.25" width="0.90" height="38.38" fill="#686562" opacity="0.78" transform="rotate(3.1 2.81 19.40)"/><rect x="1.98" y="0.76" width="0.87" height="35.00" fill="#686562" opacity="0.58" transform="rotate(-1.9 1.98 19.40)"/><rect x="28.00" y="3.62" width="0.86" height="32.99" fill="#686562" opacity="0.61" transform="rotate(3.9 28.00 19.40)"/><rect x="28.00" y="1.65" width="1.10" height="33.38" fill="#686562" opacity="0.35" transform="rotate(4.9 28.00 19.40)"/><rect x="7.64" y="3.88" width="1.14" height="35.79" fill="#686562" opacity="0.41" transform="rotate(0.0 7.64 19.40)"/><rect x="6.48" y="3.03" width="1.27" height="33.25" fill="#686562" opacity="0.54" transform="rotate(0.0 6.48 19.40)"/><rect x="28.00" y="3.42" width="1.39" height="34.45" fill="#686562" opacity="0.65" transform="rotate(0.0 28.00 19.40)"/><rect x="3.55" y="4.05" width="0.88" height="30.63" fill="#686562" opacity="0.57" transform="rotate(0.0 3.55 19.40)"/><rect x="27.50" y="1.76" width="0.92" height="36.40" fill="#686562" opacity="0.53" transform="rotate(0.0 27.50 19.40)"/><rect x="26.20" y="-1" width="1.67" height="40.80" fill="#f1efeb" opacity="0.70" transform="rotate(0.0 26.20 19.40)"/><rect x="26.29" y="-1" width="0.74" height="40.80" fill="#f1efeb" opacity="0.81" transform="rotate(0.0 26.29 19.40)"/><rect x="3.57" y="-1" width="1.15" height="40.80" fill="#f1efeb" opacity="0.43" transform="rotate(0.7 3.57 19.40)"/><rect x="1.02" y="-1" width="1.39" height="40.80" fill="#f1efeb" opacity="0.81" transform="rotate(-2.1 1.02 19.40)"/><rect x="21.37" y="-1" width="1.27" height="40.80" fill="#f1efeb" opacity="0.82" transform="rotate(0.0 21.37 19.40)"/><rect x="7.00" y="-1" width="1.55" height="40.80" fill="#f1efeb" opacity="0.64" transform="rotate(4.1 7.00 19.40)"/><rect x="25.82" y="-1" width="0.87" height="40.80" fill="#f1efeb" opacity="0.49" transform="rotate(0.0 25.82 19.40)"/><rect x="12.87" y="4.49" width="1.37" height="14.53" fill="#d9b56c" opacity="0.55" transform="rotate(0.4 12.87 19.40)"/><rect x="7.02" y="11.43" width="1.37" height="22.17" fill="#d9b56c" opacity="0.48" transform="rotate(4.1 7.02 19.40)"/><rect x="0" y="0" width="1.6" height="38.80" fill="#e0deda" opacity="0.55"/><rect x="28.40" y="0" width="1.6" height="38.80" fill="#e0deda" opacity="0.5"/><rect x="0" y="0" width="30.00" height="38.80" fill="url(#shade)"/><rect x="11.20" y="3.69" width="15.20" height="17.07" rx="1.5" fill="#f3ecc4" opacity="0.55"/><rect x="12.80" y="5.24" width="12.00" height="13.97" rx="0.8" fill="url(#lamp)"/><rect x="12.60" y="19.40" width="12.40" height="9.31" fill="#c4beba" opacity="0.45"/><rect x="12.30" y="29.10" width="13.00" height="1.5" fill="#cfa85e" opacity="0.7"/><rect x="7.30" y="31.43" width="23.00" height="7.37" fill="#d9cfbd" opacity="0.45"/><rect x="9.80" y="33.76" width="18.00" height="1.1" fill="#c9a45e" opacity="0.45"/><rect x="0" y="35.80" width="30.00" height="3" fill="#f4f2ee" opacity="0.35"/></g><rect x="1.50" y="38.60" width="9.00" height="2.8" rx="1" fill="#ffffff" opacity="0.92"/><rect x="19.50" y="38.60" width="9.00" height="2.8" rx="1" fill="#ffffff" opacity="0.92"/><rect x="14.30" y="38.40" width="9.00" height="4.8" fill="#c8a663" opacity="0.6"/></g><g transform="translate(909.00 946.60) scale(1 -1)"><clipPath id="c36"><rect x="0" y="0" width="30.00" height="39.40" rx="2.4"/></clipPath><g clip-path="url(#c36)"><rect x="0" y="0" width="30.00" height="39.40" fill="url(#gl4)"/><rect x="8.30" y="0" width="21.00" height="39.40" fill="#d6d2ca" opacity="0.45"/><rect x="27.54" y="-1.00" width="1.51" height="37.01" fill="#686562" opacity="0.69" transform="rotate(0.0 27.54 19.70)"/><rect x="7.31" y="2.26" width="1.30" height="34.11" fill="#686562" opacity="0.52" transform="rotate(0.0 7.31 19.70)"/><rect x="23.25" y="1.35" width="0.88" height="38.18" fill="#686562" opacity="0.70" transform="rotate(0.0 23.25 19.70)"/><rect x="28.00" y="4.40" width="1.28" height="32.53" fill="#686562" opacity="0.57" transform="rotate(7.0 28.00 19.70)"/><rect x="28.00" y="0.54" width="1.53" height="39.61" fill="#686562" opacity="0.66" transform="rotate(0.0 28.00 19.70)"/><rect x="3.70" y="0.06" width="1.43" height="35.26" fill="#686562" opacity="0.45" transform="rotate(0.0 3.70 19.70)"/><rect x="27.89" y="1.93" width="0.98" height="34.71" fill="#686562" opacity="0.66" transform="rotate(-1.7 27.89 19.70)"/><rect x="1.12" y="3.75" width="1.26" height="32.87" fill="#686562" opacity="0.48" transform="rotate(-5.0 1.12 19.70)"/><rect x="2.85" y="0.80" width="1.50" height="35.68" fill="#686562" opacity="0.44" transform="rotate(-7.0 2.85 19.70)"/><rect x="3.64" y="4.88" width="0.83" height="34.55" fill="#686562" opacity="0.49" transform="rotate(4.5 3.64 19.70)"/><rect x="12.57" y="-1" width="0.74" height="41.40" fill="#f1efeb" opacity="0.74" transform="rotate(0.0 12.57 19.70)"/><rect x="3.73" y="-1" width="1.49" height="41.40" fill="#f1efeb" opacity="0.54" transform="rotate(0.9 3.73 19.70)"/><rect x="10.75" y="-1" width="1.45" height="41.40" fill="#f1efeb" opacity="0.55" transform="rotate(-1.7 10.75 19.70)"/><rect x="11.82" y="-1" width="0.79" height="41.40" fill="#f1efeb" opacity="0.56" transform="rotate(1.5 11.82 19.70)"/><rect x="11.64" y="-1" width="1.14" height="41.40" fill="#f1efeb" opacity="0.80" transform="rotate(0.4 11.64 19.70)"/><rect x="16.89" y="-1" width="1.42" height="41.40" fill="#f1efeb" opacity="0.74" transform="rotate(5.1 16.89 19.70)"/><rect x="3.80" y="10.32" width="1.06" height="23.00" fill="#d9b56c" opacity="0.48" transform="rotate(2.1 3.80 19.70)"/><rect x="0" y="0" width="1.6" height="39.40" fill="#e0deda" opacity="0.55"/><rect x="28.40" y="0" width="1.6" height="39.40" fill="#e0deda" opacity="0.5"/><rect x="0" y="0" width="30.00" height="39.40" fill="url(#shade)"/><rect x="11.20" y="3.74" width="15.20" height="17.34" rx="1.5" fill="#f3ecc4" opacity="0.55"/><rect x="12.80" y="5.32" width="12.00" height="14.18" rx="0.8" fill="url(#lamp)"/><rect x="12.60" y="19.70" width="12.40" height="9.46" fill="#c4beba" opacity="0.45"/><rect x="12.30" y="29.55" width="13.00" height="1.5" fill="#cfa85e" opacity="0.7"/><rect x="7.30" y="31.91" width="23.00" height="7.49" fill="#d9cfbd" opacity="0.45"/><rect x="9.80" y="34.28" width="18.00" height="1.1" fill="#c9a45e" opacity="0.45"/><rect x="0" y="36.40" width="30.00" height="3" fill="#f4f2ee" opacity="0.35"/></g><rect x="1.50" y="39.20" width="9.00" height="2.8" rx="1" fill="#ffffff" opacity="0.92"/><rect x="19.50" y="39.20" width="9.00" height="2.8" rx="1" fill="#ffffff" opacity="0.92"/><rect x="14.30" y="39.00" width="9.00" height="4.8" fill="#c8a663" opacity="0.6"/></g><g transform="translate(937.50 852.00)"><clipPath id="c37"><rect x="0" y="0" width="30.00" height="38.80" rx="2.4"/></clipPath><g clip-path="url(#c37)"><rect x="0" y="0" width="30.00" height="38.80" fill="url(#gl5)"/><rect x="0.50" y="0" width="21.00" height="38.80" fill="#d6d2ca" opacity="0.45"/><rect x="17.85" y="2.60" width="0.91" height="35.22" fill="#686562" opacity="0.56" transform="rotate(2.6 17.85 19.40)"/><rect x="2.50" y="3.23" width="0.60" height="30.78" fill="#686562" opacity="0.34" transform="rotate(-1.9 2.50 19.40)"/><rect x="15.97" y="0.28" width="1.20" height="36.60" fill="#686562" opacity="0.59" transform="rotate(0.4 15.97 19.40)"/><rect x="0.74" y="-0.86" width="1.22" height="38.20" fill="#686562" opacity="0.76" transform="rotate(1.1 0.74 19.40)"/><rect x="4.88" y="0.31" width="1.45" height="34.46" fill="#686562" opacity="0.66" transform="rotate(0.0 4.88 19.40)"/><rect x="19.74" y="0.70" width="1.06" height="34.08" fill="#686562" opacity="0.76" transform="rotate(0.0 19.74 19.40)"/><rect x="17.53" y="1.66" width="0.62" height="37.23" fill="#686562" opacity="0.62" transform="rotate(-3.7 17.53 19.40)"/><rect x="1.17" y="4.27" width="1.40" height="34.58" fill="#686562" opacity="0.44" transform="rotate(-4.5 1.17 19.40)"/><rect x="3.35" y="-1" width="0.82" height="40.80" fill="#f1efeb" opacity="0.66" transform="rotate(0.0 3.35 19.40)"/><rect x="18.94" y="-1" width="1.06" height="40.80" fill="#f1efeb" opacity="0.43" transform="rotate(0.0 18.94 19.40)"/><rect x="6.40" y="-1" width="0.82" height="40.80" fill="#f1efeb" opacity="0.60" transform="rotate(-4.9 6.40 19.40)"/><rect x="8.75" y="-1" width="0.88" height="40.80" fill="#f1efeb" opacity="0.51" transform="rotate(0.8 8.75 19.40)"/><rect x="13.82" y="-1" width="1.58" height="40.80" fill="#f1efeb" opacity="0.53" transform="rotate(0.0 13.82 19.40)"/><rect x="23.31" y="-1" width="1.31" height="40.80" fill="#f1efeb" opacity="0.76" transform="rotate(0.0 23.31 19.40)"/><rect x="17.35" y="14.86" width="1.11" height="22.05" fill="#d9b56c" opacity="0.37" transform="rotate(5.6 17.35 19.40)"/><rect x="7.27" y="15.40" width="1.28" height="17.04" fill="#d9b56c" opacity="0.35" transform="rotate(1.6 7.27 19.40)"/><rect x="0" y="0" width="1.6" height="38.80" fill="#e0deda" opacity="0.55"/><rect x="28.40" y="0" width="1.6" height="38.80" fill="#e0deda" opacity="0.5"/><rect x="0" y="0" width="30.00" height="38.80" fill="url(#shade)"/><rect x="6.40" y="3.69" width="9.20" height="17.07" rx="1.5" fill="#f3ecc4" opacity="0.55"/><rect x="8.00" y="5.24" width="6.00" height="13.97" rx="0.8" fill="url(#lamp)"/><rect x="4.80" y="19.40" width="12.40" height="9.31" fill="#c4beba" opacity="0.45"/><rect x="4.50" y="29.10" width="13.00" height="1.5" fill="#cfa85e" opacity="0.7"/><rect x="-0.50" y="31.43" width="23.00" height="7.37" fill="#d9cfbd" opacity="0.45"/><rect x="2.00" y="33.76" width="18.00" height="1.1" fill="#c9a45e" opacity="0.45"/><rect x="0" y="35.80" width="30.00" height="3" fill="#f4f2ee" opacity="0.35"/></g><rect x="1.50" y="38.60" width="9.00" height="2.8" rx="1" fill="#ffffff" opacity="0.92"/><rect x="19.50" y="38.60" width="9.00" height="2.8" rx="1" fill="#ffffff" opacity="0.92"/><rect x="6.50" y="38.40" width="9.00" height="4.8" fill="#c8a663" opacity="0.6"/></g><g transform="translate(937.50 946.60) scale(1 -1)"><clipPath id="c38"><rect x="0" y="0" width="30.00" height="39.40" rx="2.4"/></clipPath><g clip-path="url(#c38)"><rect x="0" y="0" width="30.00" height="39.40" fill="url(#gl5)"/><rect x="0.50" y="0" width="21.00" height="39.40" fill="#d6d2ca" opacity="0.45"/><rect x="21.25" y="2.99" width="0.61" height="33.28" fill="#686562" opacity="0.48" transform="rotate(-6.4 21.25 19.70)"/><rect x="20.39" y="2.16" width="0.75" height="38.16" fill="#686562" opacity="0.61" transform="rotate(-5.0 20.39 19.70)"/><rect x="3.59" y="1.74" width="0.66" height="37.84" fill="#686562" opacity="0.35" transform="rotate(-5.2 3.59 19.70)"/><rect x="27.01" y="-0.02" width="0.82" height="37.81" fill="#686562" opacity="0.43" transform="rotate(2.7 27.01 19.70)"/><rect x="1.62" y="0.44" width="0.66" height="37.42" fill="#686562" opacity="0.72" transform="rotate(0.0 1.62 19.70)"/><rect x="2.33" y="3.43" width="1.51" height="30.60" fill="#686562" opacity="0.79" transform="rotate(0.0 2.33 19.70)"/><rect x="24.45" y="4.57" width="1.14" height="35.38" fill="#686562" opacity="0.32" transform="rotate(2.6 24.45 19.70)"/><rect x="16.96" y="4.43" width="0.55" height="29.87" fill="#686562" opacity="0.52" transform="rotate(-1.7 16.96 19.70)"/><rect x="23.93" y="0.51" width="1.25" height="34.75" fill="#686562" opacity="0.67" transform="rotate(-2.2 23.93 19.70)"/><rect x="21.75" y="0.70" width="1.01" height="38.77" fill="#686562" opacity="0.57" transform="rotate(0.0 21.75 19.70)"/><rect x="5.59" y="2.31" width="1.08" height="31.74" fill="#686562" opacity="0.65" transform="rotate(-5.7 5.59 19.70)"/><rect x="14.86" y="-1" width="1.18" height="41.40" fill="#f1efeb" opacity="0.57" transform="rotate(0.0 14.86 19.70)"/><rect x="0.49" y="-1" width="1.13" height="41.40" fill="#f1efeb" opacity="0.84" transform="rotate(0.0 0.49 19.70)"/><rect x="13.15" y="-1" width="1.01" height="41.40" fill="#f1efeb" opacity="0.50" transform="rotate(0.0 13.15 19.70)"/><rect x="3.23" y="-1" width="1.52" height="41.40" fill="#f1efeb" opacity="0.68" transform="rotate(0.0 3.23 19.70)"/><rect x="0.89" y="-1" width="1.35" height="41.40" fill="#f1efeb" opacity="0.81" transform="rotate(-2.3 0.89 19.70)"/><rect x="26.41" y="-1" width="1.83" height="41.40" fill="#f1efeb" opacity="0.45" transform="rotate(-0.5 26.41 19.70)"/><rect x="25.93" y="-1" width="1.12" height="41.40" fill="#f1efeb" opacity="0.68" transform="rotate(0.0 25.93 19.70)"/><rect x="5.75" y="-1" width="1.35" height="41.40" fill="#f1efeb" opacity="0.52" transform="rotate(5.9 5.75 19.70)"/><rect x="16.16" y="-1" width="0.94" height="41.40" fill="#f1efeb" opacity="0.79" transform="rotate(4.9 16.16 19.70)"/><rect x="24.11" y="8.96" width="0.93" height="17.45" fill="#d9b56c" opacity="0.37" transform="rotate(3.2 24.11 19.70)"/><rect x="0" y="0" width="1.6" height="39.40" fill="#e0deda" opacity="0.55"/><rect x="28.40" y="0" width="1.6" height="39.40" fill="#e0deda" opacity="0.5"/><rect x="0" y="0" width="30.00" height="39.40" fill="url(#shade)"/><rect x="6.40" y="3.74" width="9.20" height="17.34" rx="1.5" fill="#f3ecc4" opacity="0.55"/><rect x="8.00" y="5.32" width="6.00" height="14.18" rx="0.8" fill="url(#lamp)"/><rect x="4.80" y="19.70" width="12.40" height="9.46" fill="#c4beba" opacity="0.45"/><rect x="4.50" y="29.55" width="13.00" height="1.5" fill="#cfa85e" opacity="0.7"/><rect x="-0.50" y="31.91" width="23.00" height="7.49" fill="#d9cfbd" opacity="0.45"/><rect x="2.00" y="34.28" width="18.00" height="1.1" fill="#c9a45e" opacity="0.45"/><rect x="0" y="36.40" width="30.00" height="3" fill="#f4f2ee" opacity="0.35"/></g><rect x="1.50" y="39.20" width="9.00" height="2.8" rx="1" fill="#ffffff" opacity="0.92"/><rect x="19.50" y="39.20" width="9.00" height="2.8" rx="1" fill="#ffffff" opacity="0.92"/><rect x="6.50" y="39.00" width="9.00" height="4.8" fill="#c8a663" opacity="0.6"/></g><rect x="346.5" y="669.3" width="737" height="9.3" fill="url(#barU)"/><rect x="346.5" y="669.3" width="737" height="9.3" fill="url(#barsh)"/><rect x="474" y="895" width="483" height="8.8" fill="url(#barL)"/><rect x="474" y="895" width="483" height="8.8" fill="url(#barsh)"/><rect x="659.2" y="327.2" width="112.8" height="24" rx="1.8" fill="url(#canopy)"/><rect x="682" y="351" width="3.2" height="3" fill="#caa677"/><rect x="745" y="351" width="3.2" height="3" fill="#caa677"/></g>

<line x1="602" y1="301.9" x2="813.8" y2="302.9" stroke="#0b0b0b" stroke-width="2.2"/>
<line x1="300.7" y1="611" x2="300.7" y2="955.5" stroke="#0b0b0b" stroke-width="2.2"/>
<line x1="327.3" y1="977.8" x2="1099.3" y2="979.5" stroke="#0b0b0b" stroke-width="2.2"/>
<path d="M1138.7 611.2 H1140.8 L1140.9 613.6 L1140.6 616 L1139.6 614.2 Z" fill="#74726a" filter="url(#soft2)"/>


<g font-family="'Liberation Sans', sans-serif" font-weight="700" fill="#050505">
<text x="28.4" y="81.8" font-size="47.5" textLength="455.3" lengthAdjust="spacingAndGlyphs">Product Dimension</text>
<text x="667.8" y="288.1" font-size="30" textLength="77.4" lengthAdjust="spacingAndGlyphs">15cm</text>
<text x="657.9" y="1030.1" font-size="30" textLength="97.0" lengthAdjust="spacingAndGlyphs">120cm</text>
<text transform="translate(274.6 837.3) rotate(-90.4)" x="0" y="0" font-size="30" textLength="82.2" lengthAdjust="spacingAndGlyphs">50cm</text>
</g>


<clipPath id="capband"><rect x="1020" y="32.6" width="240" height="57.3"/></clipPath>
<clipPath id="lonband"><rect x="1075" y="104.3" width="130" height="12.9"/></clipPath>
<g filter="url(#soft2)">
<g fill="none" stroke="#141210" stroke-width="3.9" stroke-linejoin="miter" stroke-miterlimit="10" clip-path="url(#capband)">
  <path d="M1035.2 95 V25 M1034.6 30.5 L1072 92 M1071.3 95 V25"/>
  <path d="M1089.4 27.5 L1110.6 64.2 L1132.6 27.5 M1110.6 63.3 V95"/>
  <path d="M1153.3 95 V25 M1153.3 34.5 H1166.6 A18.9 18.9 0 0 1 1166.6 72.3 H1153.3 M1166.6 71.5 L1189.5 93"/>
  <path d="M1204.6 95 L1226.8 34.2 L1249 95"/>
</g>
<g fill="none" stroke="#141210" stroke-width="2.35" clip-path="url(#lonband)">
  <path d="M1086.6 100 V116.05 H1092.4"/>
  <circle cx="1106" cy="110.75" r="5.45"/>
  <path d="M1124.3 120 V100 M1123.9 102.8 L1132.5 118.8 M1132.0 120 V100"/>
  <path d="M1144.5 105.45 H1147.5 A5.3 5.3 0 0 1 1147.5 116.05 H1144.5 Z"/>
  <circle cx="1167.4" cy="110.75" r="5.6"/>
  <path d="M1181.0 120 V100 M1180.6 102.8 L1189.1 118.8 M1188.7 120 V100"/>
</g>
</g>

</svg>
</body>
</html>
